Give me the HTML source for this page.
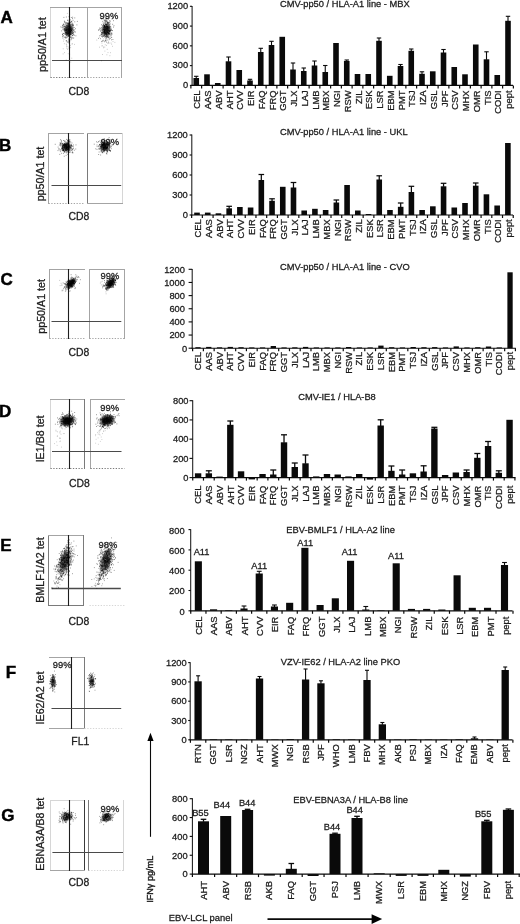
<!DOCTYPE html>
<html lang="en"><head><meta charset="utf-8"><title>Figure</title>
<style>html,body{margin:0;padding:0;background:#fff}svg{display:block}</style></head>
<body>
<svg width="520" height="924" viewBox="0 0 520 924" font-family='"Liberation Sans", Arial, Helvetica, sans-serif'>
<defs><radialGradient id="g1"><stop offset="0" stop-color="#000" stop-opacity="1"/><stop offset="0.45" stop-color="#000" stop-opacity="0.85"/><stop offset="1" stop-color="#000" stop-opacity="0"/></radialGradient></defs>
<rect width="520" height="924" fill="#fff"/>
<text x="0.40" y="23.10" font-size="17" text-anchor="start" font-weight="bold" fill="#000" stroke="#000" stroke-width="0.45">A</text>
<text x="-1.00" y="151.30" font-size="17" text-anchor="start" font-weight="bold" fill="#000" stroke="#000" stroke-width="0.45">B</text>
<text x="0.50" y="285.10" font-size="17" text-anchor="start" font-weight="bold" fill="#000" stroke="#000" stroke-width="0.45">C</text>
<text x="-1.00" y="417.20" font-size="17" text-anchor="start" font-weight="bold" fill="#000" stroke="#000" stroke-width="0.45">D</text>
<text x="0.20" y="550.60" font-size="17" text-anchor="start" font-weight="bold" fill="#000" stroke="#000" stroke-width="0.45">E</text>
<text x="5.80" y="678.00" font-size="17" text-anchor="start" font-weight="bold" fill="#000" stroke="#000" stroke-width="0.45">F</text>
<text x="1.20" y="820.70" font-size="17" text-anchor="start" font-weight="bold" fill="#000" stroke="#000" stroke-width="0.45">G</text>
<line x1="50.50" y1="7.00" x2="50.50" y2="78.00" stroke="#d6d6d6" stroke-width="1"/>
<line x1="50.00" y1="7.50" x2="87.00" y2="7.50" stroke="#a4a4a4" stroke-width="1"/>
<line x1="50.50" y1="77.50" x2="86.50" y2="77.50" stroke="#7a7a7a" stroke-width="1" stroke-dasharray="1.3 1.5"/>
<line x1="87.50" y1="7.00" x2="87.50" y2="78.00" stroke="#a4a4a4" stroke-width="1"/>
<line x1="87.00" y1="7.50" x2="122.00" y2="7.50" stroke="#a4a4a4" stroke-width="1"/>
<line x1="121.50" y1="7.00" x2="121.50" y2="78.00" stroke="#a4a4a4" stroke-width="1"/>
<line x1="87.50" y1="77.50" x2="121.50" y2="77.50" stroke="#a4a4a4" stroke-width="1" stroke-dasharray="1.3 1.5"/>
<line x1="69.50" y1="7.00" x2="69.50" y2="78.00" stroke="#1e1e1e" stroke-width="1.1"/>
<line x1="52.00" y1="60.50" x2="122.00" y2="60.50" stroke="#4a4a4a" stroke-width="1.2"/>
<text x="45.80" y="44.60" font-size="10.7" text-anchor="middle" font-weight="normal" fill="#1c1c1c" transform="rotate(-90 45.80 44.60)" stroke="#1c1c1c" stroke-width="0.28">pp50/A1 tet</text>
<text x="79.00" y="95.40" font-size="10.4" text-anchor="middle" font-weight="normal" fill="#1c1c1c" stroke="#1c1c1c" stroke-width="0.28">CD8</text>
<text x="109.00" y="19.00" font-size="9.4" text-anchor="middle" font-weight="normal" fill="#1c1c1c" stroke="#1c1c1c" stroke-width="0.28">99%</text>
<path d="M67.7 32.2h.01M68.1 28.2h.01M66.0 28.6h.01M71.7 32.1h.01M71.5 31.2h.01M69.7 30.8h.01M63.5 33.6h.01M69.9 32.3h.01M64.3 21.1h.01M66.2 27.4h.01M69.5 29.6h.01M70.3 26.8h.01M69.4 31.7h.01M66.1 37.9h.01M69.8 35.6h.01M67.1 26.1h.01M67.6 29.2h.01M70.3 31.1h.01M67.6 25.1h.01M66.7 35.5h.01M66.2 30.8h.01M70.3 22.8h.01M68.3 36.1h.01M62.9 27.9h.01M68.6 25.9h.01M70.1 29.6h.01M64.1 33.5h.01M70.2 34.5h.01M72.6 31.8h.01M69.4 23.6h.01M70.6 27.0h.01M67.7 23.7h.01M66.0 27.1h.01M73.0 20.3h.01M64.3 30.7h.01M72.6 32.9h.01M63.9 17.4h.01M69.9 26.3h.01M65.0 34.3h.01M71.7 30.8h.01M69.2 31.9h.01M73.0 33.1h.01M69.9 32.5h.01M63.6 35.6h.01M71.2 32.5h.01M63.1 26.4h.01M71.6 21.3h.01M67.7 34.6h.01M64.3 37.2h.01M70.2 29.2h.01M69.3 33.0h.01M68.6 35.3h.01M66.8 27.7h.01M71.6 30.1h.01M65.7 34.2h.01M73.0 28.0h.01M64.7 28.9h.01M68.3 28.3h.01M73.0 25.2h.01M72.7 24.0h.01M66.1 32.7h.01M71.6 34.1h.01M69.6 30.6h.01M68.8 32.6h.01M68.0 31.1h.01M70.3 29.9h.01M70.6 32.7h.01M74.3 31.8h.01M67.5 27.9h.01M68.3 34.2h.01M67.5 31.6h.01M74.8 17.9h.01M65.3 30.7h.01M69.7 31.0h.01M67.1 32.8h.01M69.6 27.4h.01M75.5 32.0h.01M67.0 29.2h.01M68.0 29.5h.01M60.9 26.9h.01M71.9 24.4h.01M68.1 34.4h.01M70.6 37.1h.01M63.8 27.8h.01M67.4 32.7h.01M72.7 17.2h.01M72.2 23.1h.01M71.1 22.8h.01M68.7 35.6h.01M68.1 30.7h.01M70.9 30.6h.01M67.8 37.1h.01M71.7 28.6h.01M76.9 24.9h.01M71.3 28.7h.01M68.7 33.2h.01M69.0 32.9h.01M64.7 22.3h.01M70.7 25.3h.01M66.1 22.6h.01M72.0 33.6h.01M73.2 25.6h.01M69.0 24.3h.01M70.3 37.6h.01M65.5 37.1h.01M71.5 29.1h.01M62.4 36.1h.01M68.5 26.9h.01M69.6 31.8h.01M73.3 25.2h.01M71.4 37.2h.01M72.9 29.2h.01M66.1 34.5h.01M68.9 30.4h.01M72.8 28.8h.01M62.1 27.5h.01M63.0 33.3h.01M69.7 26.9h.01M68.3 33.8h.01M68.4 36.2h.01M68.1 34.8h.01M72.4 37.8h.01M66.4 33.9h.01M63.5 24.2h.01M62.6 34.5h.01M65.0 29.5h.01M68.1 29.6h.01M66.8 30.8h.01M73.8 30.4h.01M69.8 34.7h.01M68.4 23.7h.01M66.6 34.8h.01M64.0 26.6h.01M71.2 33.8h.01M68.4 33.7h.01M69.5 24.2h.01M64.3 26.4h.01M71.5 27.3h.01M66.2 25.9h.01M64.2 28.9h.01M65.1 31.3h.01M61.7 30.9h.01M67.4 20.4h.01M70.8 28.6h.01M62.4 25.2h.01M69.6 27.7h.01M70.6 33.5h.01M70.4 31.5h.01M72.2 33.2h.01M70.6 19.9h.01M70.8 36.3h.01M67.9 27.5h.01M74.8 21.8h.01M69.1 41.5h.01M65.7 32.9h.01M74.1 29.6h.01M69.9 34.2h.01M66.0 29.2h.01M69.2 33.8h.01M68.6 28.9h.01M65.8 27.9h.01M71.1 30.5h.01M66.4 25.6h.01M75.9 35.8h.01M71.3 17.5h.01M70.2 32.2h.01M73.3 32.2h.01M68.2 32.3h.01M62.6 34.4h.01M69.8 26.5h.01M71.8 38.7h.01M64.8 26.3h.01M69.4 30.7h.01M67.8 25.1h.01M74.4 35.2h.01M65.6 23.1h.01M73.2 34.9h.01M73.6 34.0h.01M66.0 30.9h.01M62.6 25.8h.01M68.3 32.3h.01M66.5 29.1h.01M69.8 31.7h.01M70.4 30.9h.01M67.4 33.5h.01M69.0 25.9h.01M66.8 29.7h.01M68.2 30.5h.01M68.5 30.6h.01M68.6 23.7h.01M69.5 34.9h.01M69.9 29.0h.01M70.2 25.3h.01M63.1 29.7h.01M65.7 33.2h.01M66.3 17.0h.01M65.1 37.1h.01M68.0 23.2h.01M66.2 32.1h.01M70.0 30.7h.01M72.7 33.5h.01M68.3 32.7h.01M73.1 34.8h.01M71.9 24.8h.01M67.9 33.3h.01M67.4 34.9h.01M70.0 34.3h.01M67.1 41.9h.01M72.3 29.0h.01M68.0 42.2h.01M67.3 33.9h.01M71.4 30.0h.01M65.2 30.5h.01M69.3 35.3h.01M70.9 30.1h.01M70.9 32.6h.01M69.2 30.1h.01M67.7 33.0h.01M65.8 26.6h.01M69.1 22.8h.01M68.0 20.1h.01M66.4 32.4h.01M70.3 29.7h.01M68.4 23.0h.01M73.7 32.6h.01M72.1 25.8h.01M68.7 21.1h.01M70.5 34.4h.01M63.1 29.2h.01M71.0 21.5h.01M63.7 24.3h.01M67.2 23.0h.01M68.6 31.0h.01M70.2 33.3h.01M72.6 35.7h.01M65.0 27.1h.01M65.9 24.4h.01M68.4 29.8h.01M70.5 22.3h.01M65.0 29.4h.01M68.1 28.3h.01M68.7 26.1h.01M70.5 31.6h.01M68.6 26.6h.01M69.0 16.7h.01M65.7 29.8h.01M64.2 30.5h.01M69.5 23.2h.01M68.0 28.2h.01M69.7 32.8h.01M68.8 25.7h.01M68.2 29.5h.01M70.6 31.4h.01M67.0 23.2h.01M67.8 26.2h.01M65.4 29.0h.01M67.1 30.2h.01M70.3 27.9h.01M75.4 28.7h.01M71.7 30.6h.01M72.6 18.6h.01M66.3 30.8h.01M69.6 41.1h.01M69.1 36.0h.01M70.5 34.5h.01M70.1 29.2h.01M70.4 24.7h.01M72.4 25.2h.01M68.6 40.0h.01M67.9 29.8h.01M72.0 30.2h.01M66.2 30.9h.01M70.0 33.3h.01M65.8 38.0h.01M73.4 30.2h.01M69.5 27.8h.01M72.9 26.7h.01M70.7 27.6h.01M66.4 33.1h.01M72.5 30.0h.01M66.4 33.5h.01M68.4 31.3h.01M72.6 35.5h.01M66.3 40.6h.01M68.3 33.6h.01M66.7 29.5h.01M62.9 38.0h.01M73.0 24.3h.01M64.8 21.7h.01M72.2 27.8h.01M68.5 28.3h.01M68.6 24.6h.01M69.2 22.9h.01M68.3 31.3h.01M70.0 28.8h.01M65.9 30.4h.01M66.7 37.2h.01M70.9 29.4h.01M67.5 26.3h.01M66.0 27.9h.01M69.3 32.3h.01M69.5 40.0h.01M66.6 29.7h.01M77.3 21.4h.01M67.0 30.5h.01M68.9 31.8h.01M67.8 31.5h.01M68.5 33.5h.01M63.4 25.2h.01M68.9 24.9h.01M65.4 32.6h.01M66.5 32.7h.01M70.7 31.4h.01M70.1 29.4h.01M64.5 29.4h.01M70.1 27.4h.01M68.1 33.4h.01M65.8 32.7h.01M74.2 27.5h.01M69.1 29.1h.01M72.9 31.6h.01M71.4 26.7h.01M68.6 29.7h.01M63.0 36.3h.01M71.8 21.6h.01M70.8 29.3h.01M69.8 31.6h.01M64.3 28.5h.01M73.1 27.3h.01M66.1 23.1h.01" stroke="#000" stroke-opacity="0.55" stroke-width="0.9" stroke-linecap="round" fill="none"/>
<ellipse cx="68.60" cy="29.80" rx="5.20" ry="8.00" fill="url(#g1)" opacity="0.8" transform="rotate(4 68.60 29.80)"/>
<path d="M64.3 43.7h.01M74.5 44.4h.01M69.5 58.9h.01M66.8 35.6h.01M70.4 45.4h.01M65.0 31.6h.01M69.6 43.0h.01M64.0 39.4h.01M66.7 44.7h.01M68.2 40.3h.01M67.4 49.4h.01M73.5 38.1h.01M71.6 34.9h.01M68.9 47.0h.01M73.9 37.9h.01M68.3 42.6h.01M63.4 41.1h.01M66.2 44.0h.01M64.6 25.2h.01M68.7 43.1h.01M66.7 48.1h.01M67.6 36.2h.01M70.3 28.5h.01M66.2 40.8h.01M71.6 39.7h.01M69.7 35.8h.01M69.7 54.3h.01M66.2 59.9h.01M66.3 41.1h.01M69.2 49.2h.01M64.3 24.2h.01M70.7 47.4h.01M70.8 62.0h.01M69.3 43.0h.01M71.9 44.0h.01M74.4 31.1h.01M67.3 13.4h.01M71.4 38.0h.01M71.8 58.2h.01M68.6 39.0h.01M66.9 34.3h.01M66.4 46.1h.01M68.7 41.5h.01M68.0 48.3h.01M70.3 39.9h.01M70.9 39.8h.01M64.6 52.6h.01M70.2 33.3h.01M72.4 43.8h.01M63.1 53.9h.01M69.8 48.1h.01M69.3 39.8h.01M63.2 48.8h.01M68.7 38.7h.01M69.8 41.6h.01M71.0 38.0h.01M68.5 23.9h.01M67.1 46.4h.01M73.3 38.1h.01M68.2 53.7h.01" stroke="#000" stroke-opacity="0.28" stroke-width="0.9" stroke-linecap="round" fill="none"/>
<path d="M105.1 33.2h.01M111.1 30.3h.01M110.1 26.6h.01M106.9 29.5h.01M106.3 35.2h.01M113.4 27.1h.01M104.5 32.1h.01M103.1 32.0h.01M108.0 28.6h.01M108.4 22.5h.01M109.0 22.6h.01M104.5 27.0h.01M104.9 33.8h.01M106.7 27.9h.01M107.3 37.5h.01M106.2 31.6h.01M109.8 31.3h.01M101.8 41.5h.01M113.4 20.7h.01M106.0 31.8h.01M108.9 33.2h.01M105.9 24.7h.01M106.3 34.8h.01M103.5 24.7h.01M106.9 20.5h.01M105.7 27.7h.01M107.8 26.5h.01M103.9 27.7h.01M106.4 26.6h.01M106.1 33.4h.01M109.2 38.2h.01M104.2 27.6h.01M98.5 38.4h.01M104.2 29.5h.01M108.3 23.4h.01M107.7 29.8h.01M100.9 30.8h.01M110.4 21.1h.01M108.6 31.0h.01M107.5 32.0h.01M110.1 29.0h.01M109.0 28.0h.01M108.7 26.0h.01M105.4 38.1h.01M107.6 29.1h.01M103.3 25.8h.01M106.5 34.3h.01M107.4 32.4h.01M105.7 36.3h.01M105.4 27.1h.01M108.8 30.3h.01M105.7 27.0h.01M105.3 32.7h.01M107.7 24.1h.01M107.5 30.7h.01M103.1 33.3h.01M105.6 28.1h.01M108.2 36.3h.01M104.2 31.8h.01M103.0 40.7h.01M104.5 35.4h.01M104.2 33.6h.01M113.6 18.1h.01M104.9 32.1h.01M106.3 26.6h.01M112.5 30.6h.01M101.3 33.6h.01M100.9 35.0h.01M104.6 30.4h.01M109.9 30.6h.01M102.8 21.4h.01M109.5 33.6h.01M103.7 33.8h.01M107.5 33.0h.01M99.9 27.9h.01M108.7 33.5h.01M109.7 18.2h.01M106.6 32.2h.01M114.0 25.7h.01M105.3 29.9h.01M109.0 27.9h.01M109.9 26.3h.01M107.2 27.3h.01M107.0 26.5h.01M101.3 34.7h.01M107.4 27.2h.01M106.5 34.6h.01M103.5 29.1h.01M107.7 32.4h.01M106.0 19.6h.01M109.8 31.6h.01M106.4 28.5h.01M107.2 27.8h.01M103.6 26.1h.01M104.8 26.7h.01M102.7 32.6h.01M102.3 32.7h.01M103.2 31.3h.01M110.2 31.1h.01M104.2 29.9h.01M107.3 21.5h.01M104.5 30.5h.01M104.9 30.1h.01M108.2 33.6h.01M108.7 32.8h.01M105.5 29.7h.01M105.6 28.2h.01M106.4 21.5h.01M105.3 29.6h.01M103.5 29.5h.01M107.8 29.1h.01M113.2 17.7h.01M106.3 21.0h.01M108.2 42.7h.01M99.0 29.9h.01M107.9 28.5h.01M108.6 19.2h.01M108.6 31.8h.01M106.6 27.0h.01M108.3 27.6h.01M107.1 27.4h.01M99.8 29.2h.01M106.6 33.5h.01M103.8 29.5h.01M108.0 30.6h.01M109.2 39.6h.01M104.3 20.4h.01M108.3 37.3h.01M108.7 33.9h.01M104.7 26.3h.01M109.2 25.6h.01M101.4 24.7h.01M112.9 39.5h.01M104.6 26.2h.01M107.2 26.3h.01M110.1 29.7h.01M102.7 35.8h.01M104.5 30.7h.01M106.4 28.3h.01M107.5 26.5h.01M101.7 18.9h.01M102.9 25.9h.01M106.2 30.1h.01M107.9 30.5h.01M104.2 26.2h.01M100.2 28.6h.01M107.5 32.4h.01M106.0 28.9h.01M109.0 30.1h.01M108.2 32.7h.01M106.5 36.1h.01M104.8 28.0h.01M104.2 25.8h.01M110.2 38.5h.01M106.2 32.5h.01M109.4 33.9h.01M110.2 24.0h.01M104.3 31.8h.01M110.4 30.6h.01M103.9 27.9h.01M104.7 25.6h.01M110.9 27.1h.01M105.6 40.2h.01M109.6 31.6h.01M104.4 31.6h.01M110.8 33.1h.01M109.9 30.5h.01M107.9 28.9h.01M107.1 36.1h.01M102.2 29.2h.01M107.2 27.1h.01M105.1 33.5h.01M111.9 33.2h.01M107.8 22.4h.01M111.9 30.6h.01M106.6 24.4h.01M106.5 24.5h.01M106.3 32.0h.01M106.3 31.1h.01M103.4 36.5h.01M105.0 21.0h.01M106.0 26.1h.01M103.5 27.9h.01M107.5 24.2h.01M105.4 36.6h.01M108.3 29.2h.01M106.7 29.3h.01M105.9 33.3h.01M106.8 18.3h.01M106.5 25.5h.01M108.4 27.0h.01M106.0 40.3h.01M103.6 24.2h.01M103.0 18.0h.01M100.7 31.2h.01M105.1 20.7h.01M101.8 32.5h.01M104.2 27.9h.01M106.8 36.4h.01M111.6 35.1h.01M106.7 30.7h.01M111.0 37.0h.01M105.2 31.9h.01M107.1 30.1h.01M105.3 23.3h.01M105.3 22.3h.01M109.7 32.6h.01M102.3 36.2h.01M109.5 20.8h.01M111.4 34.1h.01M112.7 24.3h.01M107.7 31.9h.01M106.8 30.7h.01M109.8 22.9h.01M103.2 22.9h.01M104.9 26.8h.01M107.3 31.2h.01M106.6 26.6h.01M104.7 34.3h.01M108.5 30.4h.01M104.8 37.2h.01M104.4 32.8h.01M109.7 28.8h.01M109.1 24.6h.01M109.2 31.0h.01M101.5 32.7h.01M103.3 35.8h.01M104.4 28.9h.01M107.2 28.3h.01M107.2 27.2h.01M108.2 30.0h.01M107.8 16.7h.01M109.6 30.2h.01M101.1 29.9h.01M107.3 35.0h.01M102.6 37.0h.01M105.0 41.2h.01M105.6 33.0h.01M105.6 24.4h.01M109.2 34.4h.01M110.5 34.2h.01M105.2 21.7h.01M104.6 26.4h.01M103.7 32.4h.01M107.3 28.6h.01M106.8 29.1h.01M106.7 33.4h.01M109.3 26.7h.01M101.5 36.3h.01M106.3 35.1h.01M101.7 27.9h.01M106.9 22.9h.01M104.6 33.2h.01M108.9 37.7h.01M104.3 22.9h.01M107.5 34.4h.01M107.3 23.6h.01M108.3 33.8h.01M108.1 27.6h.01M106.9 33.6h.01M105.3 20.9h.01M107.1 32.2h.01M106.0 34.1h.01M104.6 29.3h.01M105.2 32.5h.01M111.0 28.9h.01M111.7 37.5h.01M108.4 32.8h.01M111.5 29.3h.01M106.3 24.7h.01M107.2 36.3h.01M107.7 31.9h.01M105.7 30.6h.01M101.8 34.5h.01M105.5 24.4h.01M104.4 25.7h.01M108.4 35.0h.01M102.1 34.0h.01M109.1 27.2h.01M102.2 25.9h.01M104.4 31.3h.01M105.9 20.0h.01M107.5 22.5h.01M109.3 24.2h.01M104.6 25.6h.01M104.3 35.9h.01M108.6 32.9h.01M107.7 22.5h.01M105.0 27.1h.01M103.3 32.0h.01M104.4 26.3h.01M104.0 19.7h.01M107.6 36.3h.01M107.1 25.2h.01M98.4 30.1h.01M109.7 31.5h.01M108.5 37.1h.01M109.7 27.9h.01M109.1 33.7h.01M102.0 27.5h.01M102.2 29.0h.01M108.3 24.8h.01M99.9 35.6h.01M106.9 36.9h.01M102.1 34.6h.01M111.6 39.8h.01M105.6 31.0h.01M105.5 34.5h.01M109.3 30.4h.01M102.1 33.1h.01M104.7 32.7h.01M106.5 37.6h.01M109.7 27.9h.01M106.7 38.3h.01M104.6 31.8h.01M109.3 36.1h.01M108.2 23.6h.01M102.6 30.7h.01M106.6 42.1h.01M103.4 35.1h.01M109.1 22.0h.01M103.9 30.4h.01M104.9 29.0h.01M107.9 26.0h.01M107.9 26.8h.01M104.5 32.3h.01M104.5 31.1h.01M110.9 30.3h.01M105.6 33.3h.01M104.9 34.9h.01" stroke="#000" stroke-opacity="0.55" stroke-width="0.9" stroke-linecap="round" fill="none"/>
<ellipse cx="106.30" cy="29.80" rx="5.20" ry="8.00" fill="url(#g1)" opacity="0.8" transform="rotate(4 106.30 29.80)"/>
<path d="M101.8 45.9h.01M104.5 34.6h.01M112.5 34.2h.01M112.4 46.3h.01M111.4 33.2h.01M110.5 52.7h.01M105.9 40.0h.01M114.9 42.4h.01M104.8 36.0h.01M107.9 43.6h.01M106.9 54.8h.01M105.2 44.8h.01M111.4 33.0h.01M109.9 55.7h.01M101.6 32.2h.01M102.7 26.2h.01M107.9 26.2h.01M108.0 52.6h.01M100.6 38.5h.01M99.6 47.2h.01M103.7 38.9h.01M106.5 45.4h.01M105.1 41.1h.01M104.4 41.9h.01M102.2 41.5h.01M99.5 37.1h.01M113.0 41.6h.01M101.9 43.1h.01M102.9 27.8h.01M103.7 46.9h.01M107.6 40.2h.01M103.1 32.4h.01M111.0 43.0h.01M103.0 24.1h.01M101.5 60.8h.01M102.3 40.4h.01M107.0 39.7h.01M105.3 30.0h.01M102.6 54.5h.01M103.7 47.8h.01M100.4 38.8h.01M107.2 49.3h.01M102.4 45.8h.01M107.7 35.1h.01M108.0 33.8h.01M103.5 40.8h.01M96.8 40.1h.01M102.8 29.3h.01M104.8 47.1h.01M104.9 51.1h.01M102.2 30.5h.01M111.7 44.2h.01M109.6 34.4h.01M109.1 43.1h.01M108.6 41.2h.01M110.5 35.8h.01M102.9 29.2h.01M110.4 35.1h.01M102.6 33.5h.01M104.7 30.8h.01" stroke="#000" stroke-opacity="0.28" stroke-width="0.9" stroke-linecap="round" fill="none"/>
<line x1="48.50" y1="133.00" x2="48.50" y2="204.00" stroke="#a4a4a4" stroke-width="1"/>
<line x1="48.00" y1="133.50" x2="84.00" y2="133.50" stroke="#a4a4a4" stroke-width="1"/>
<line x1="48.50" y1="203.50" x2="83.50" y2="203.50" stroke="#a4a4a4" stroke-width="1" stroke-dasharray="1.3 1.5"/>
<line x1="87.50" y1="133.00" x2="87.50" y2="204.00" stroke="#7a7a7a" stroke-width="1"/>
<line x1="87.00" y1="133.50" x2="123.00" y2="133.50" stroke="#a4a4a4" stroke-width="1"/>
<line x1="122.50" y1="133.00" x2="122.50" y2="204.00" stroke="#d6d6d6" stroke-width="1"/>
<line x1="87.00" y1="203.50" x2="123.00" y2="203.50" stroke="#a4a4a4" stroke-width="1"/>
<line x1="68.50" y1="133.00" x2="68.50" y2="204.00" stroke="#1e1e1e" stroke-width="1.1"/>
<line x1="51.50" y1="185.50" x2="121.20" y2="185.50" stroke="#4a4a4a" stroke-width="1.2"/>
<text x="43.90" y="174.00" font-size="10.7" text-anchor="middle" font-weight="normal" fill="#1c1c1c" transform="rotate(-90 43.90 174.00)" stroke="#1c1c1c" stroke-width="0.28">pp50/A1 tet</text>
<text x="79.00" y="220.20" font-size="10.4" text-anchor="middle" font-weight="normal" fill="#1c1c1c" stroke="#1c1c1c" stroke-width="0.28">CD8</text>
<text x="109.80" y="144.60" font-size="9.4" text-anchor="middle" font-weight="normal" fill="#1c1c1c" stroke="#1c1c1c" stroke-width="0.28">99%</text>
<path d="M65.4 145.0h.01M64.5 143.9h.01M66.4 145.5h.01M66.7 147.8h.01M67.4 140.0h.01M64.6 144.5h.01M68.8 142.0h.01M64.0 146.1h.01M65.2 150.2h.01M64.9 150.1h.01M61.6 141.2h.01M70.2 148.4h.01M67.9 147.4h.01M67.8 143.1h.01M69.3 145.3h.01M69.5 147.3h.01M60.0 142.9h.01M69.9 146.6h.01M65.0 147.8h.01M64.9 145.3h.01M66.6 147.5h.01M71.2 147.1h.01M72.3 152.8h.01M71.8 150.4h.01M66.7 147.4h.01M65.8 144.7h.01M66.1 144.9h.01M71.5 148.7h.01M64.9 140.9h.01M66.1 145.7h.01M62.8 143.4h.01M59.1 148.8h.01M66.1 155.3h.01M66.2 146.5h.01M70.9 147.4h.01M66.8 145.8h.01M64.4 151.8h.01M69.5 152.5h.01M65.2 147.1h.01M63.5 150.1h.01M61.8 148.8h.01M69.8 151.5h.01M63.3 150.5h.01M64.0 144.6h.01M62.1 150.7h.01M71.6 145.1h.01M63.9 145.9h.01M74.3 150.2h.01M64.6 141.3h.01M64.1 150.8h.01M72.3 146.1h.01M64.1 145.4h.01M60.3 149.9h.01M62.8 150.4h.01M60.8 142.9h.01M67.2 144.6h.01M68.8 147.0h.01M62.5 149.0h.01M69.0 140.9h.01M72.1 148.6h.01M68.7 141.0h.01M64.0 145.9h.01M69.7 142.3h.01M63.5 140.5h.01M65.5 148.1h.01M60.9 145.1h.01M67.9 152.1h.01M68.4 146.0h.01M62.5 144.0h.01M64.2 147.5h.01M66.1 152.3h.01M67.2 143.6h.01M71.2 150.0h.01M66.6 144.7h.01M60.3 143.7h.01M69.2 144.4h.01M62.1 147.6h.01M67.1 148.9h.01M68.4 151.5h.01M63.6 150.1h.01M63.1 149.2h.01M66.9 147.8h.01M69.4 146.9h.01M69.9 149.8h.01M66.7 145.2h.01M63.9 145.3h.01M65.7 146.9h.01M75.8 149.0h.01M68.8 144.2h.01M64.0 146.0h.01M66.9 143.7h.01M71.5 145.2h.01M69.8 139.5h.01M66.3 147.9h.01M66.9 148.9h.01M67.2 147.5h.01M60.2 144.7h.01M58.8 149.0h.01M67.3 146.4h.01M63.7 145.1h.01M72.2 152.5h.01M66.1 151.1h.01M61.2 140.8h.01M64.8 144.2h.01M64.5 147.6h.01M76.0 144.9h.01M66.5 147.9h.01M66.2 150.0h.01M72.0 143.0h.01M66.8 146.2h.01M67.4 142.1h.01M60.7 139.6h.01M68.0 147.6h.01M66.5 139.4h.01M65.1 144.6h.01M61.8 144.1h.01M68.5 148.7h.01M66.2 148.6h.01M64.4 147.2h.01M66.4 148.8h.01M66.1 146.5h.01M65.9 144.9h.01M73.4 148.6h.01M67.7 154.3h.01M70.8 142.0h.01M68.5 149.7h.01M72.3 151.2h.01M68.8 143.2h.01M63.5 147.9h.01M67.9 143.7h.01M65.1 145.7h.01M66.5 148.1h.01M65.4 143.0h.01M70.3 152.1h.01M66.0 150.3h.01M67.7 149.1h.01M67.8 144.6h.01M68.1 150.2h.01M63.4 153.3h.01M73.0 152.8h.01M72.7 149.4h.01M65.2 145.1h.01M63.7 147.4h.01M66.2 149.1h.01M59.8 154.4h.01M73.6 146.9h.01M68.5 148.5h.01M67.2 146.3h.01M65.9 144.4h.01M66.9 146.9h.01M67.3 144.3h.01M66.4 147.2h.01M68.2 143.6h.01M67.6 150.1h.01M68.2 145.8h.01M64.7 146.2h.01M68.6 152.0h.01M65.8 144.9h.01M67.5 147.7h.01M63.4 144.6h.01M66.0 149.1h.01M62.5 143.7h.01M67.9 143.1h.01M66.6 148.1h.01M65.9 143.7h.01M66.1 145.9h.01M67.4 144.3h.01M69.8 141.6h.01M65.7 147.0h.01M69.4 145.1h.01M68.0 145.2h.01M68.7 152.6h.01M65.0 148.4h.01M63.3 150.1h.01M70.2 147.1h.01M62.7 148.3h.01M70.0 150.5h.01M68.9 141.1h.01M64.1 151.6h.01M62.4 150.6h.01M72.3 149.4h.01M69.9 145.9h.01M62.4 146.7h.01M65.7 146.8h.01M68.5 146.5h.01M66.9 148.4h.01M66.3 152.9h.01M67.7 147.3h.01M65.6 145.0h.01M70.6 147.5h.01M62.8 145.2h.01M65.9 145.6h.01M69.8 143.3h.01M67.9 147.5h.01M62.5 147.2h.01M66.0 148.6h.01M64.9 148.0h.01M61.0 143.5h.01M68.8 150.3h.01M66.3 145.1h.01M69.8 140.3h.01M63.7 149.2h.01M68.4 143.7h.01M60.3 151.6h.01M66.8 144.1h.01M66.5 149.9h.01M58.0 150.6h.01M68.7 140.3h.01M68.8 141.3h.01M69.9 148.3h.01M73.5 145.0h.01M66.3 150.4h.01M64.3 144.7h.01M65.1 146.8h.01M62.8 148.5h.01M68.0 147.2h.01M71.7 146.0h.01M70.5 145.3h.01M68.7 140.8h.01M66.9 146.4h.01M64.7 145.0h.01M65.2 144.7h.01M59.3 145.1h.01M64.5 145.3h.01M62.9 146.6h.01M68.8 146.2h.01M64.7 151.3h.01M69.4 149.9h.01M70.0 146.0h.01M65.9 150.6h.01M64.5 146.6h.01M67.5 148.2h.01M65.4 150.1h.01M65.7 149.3h.01M69.7 149.1h.01M68.6 143.3h.01M62.1 145.0h.01M67.8 151.8h.01M62.4 148.0h.01M63.6 144.7h.01M65.4 149.2h.01M67.0 150.8h.01M63.1 149.8h.01M69.3 147.2h.01M67.8 145.2h.01M62.8 145.7h.01M64.2 156.2h.01M64.7 152.3h.01M66.9 148.0h.01M68.7 144.5h.01M69.2 148.2h.01M61.4 148.9h.01M68.1 148.4h.01M71.4 145.7h.01M67.9 149.4h.01M63.4 150.8h.01M61.7 142.8h.01M68.0 143.5h.01M65.9 141.7h.01M66.5 143.4h.01M67.4 142.1h.01M67.7 146.1h.01M66.5 146.8h.01M66.7 142.8h.01M58.1 147.1h.01M63.3 145.5h.01M67.7 140.6h.01M63.9 145.0h.01M62.9 148.0h.01M65.9 144.4h.01M63.1 149.6h.01M64.2 148.9h.01M67.7 140.9h.01M62.8 147.0h.01M67.4 149.5h.01M68.9 150.3h.01M65.1 146.3h.01M68.8 145.6h.01M69.7 141.9h.01M68.4 146.4h.01M60.0 150.1h.01M67.3 147.1h.01M62.9 145.5h.01M71.1 144.4h.01M55.2 144.3h.01M62.5 146.6h.01M65.0 144.1h.01M63.6 150.4h.01M61.7 153.3h.01M64.6 143.5h.01M68.8 148.8h.01M63.0 149.4h.01M60.4 144.0h.01M69.9 146.2h.01M62.1 148.6h.01M69.2 146.9h.01M60.5 145.9h.01M67.6 149.5h.01M72.2 146.2h.01M64.8 146.9h.01" stroke="#000" stroke-opacity="0.55" stroke-width="0.9" stroke-linecap="round" fill="none"/>
<ellipse cx="66.30" cy="147.00" rx="5.80" ry="5.40" fill="url(#g1)" opacity="0.8" transform="rotate(0 66.30 147.00)"/>
<path d="M108.8 143.4h.01M109.1 137.6h.01M107.5 144.2h.01M106.4 148.6h.01M101.1 146.1h.01M105.7 148.3h.01M101.9 143.2h.01M98.7 154.5h.01M104.3 145.7h.01M100.1 149.4h.01M103.2 151.0h.01M107.6 146.5h.01M107.2 142.8h.01M103.9 144.6h.01M100.8 146.5h.01M104.4 151.0h.01M94.2 144.2h.01M102.0 144.9h.01M106.3 147.7h.01M105.0 144.9h.01M106.5 147.6h.01M99.0 145.6h.01M100.5 142.6h.01M105.4 146.6h.01M105.3 143.6h.01M104.3 143.5h.01M106.1 148.6h.01M110.5 150.5h.01M102.3 144.9h.01M101.9 147.4h.01M111.2 148.7h.01M97.9 142.4h.01M100.8 148.0h.01M104.9 147.4h.01M110.6 143.8h.01M102.2 152.7h.01M106.0 143.9h.01M98.4 141.5h.01M97.1 146.6h.01M105.0 149.6h.01M104.5 144.2h.01M102.5 152.5h.01M99.2 147.0h.01M105.0 148.4h.01M103.6 148.0h.01M107.5 145.9h.01M103.4 145.8h.01M101.8 145.7h.01M103.9 147.1h.01M109.2 150.6h.01M103.5 148.3h.01M105.8 148.8h.01M105.0 147.3h.01M103.4 143.9h.01M107.7 150.6h.01M107.0 147.8h.01M105.8 145.0h.01M99.2 148.5h.01M105.5 144.6h.01M101.8 150.5h.01M99.1 152.0h.01M106.9 154.0h.01M102.6 146.3h.01M103.3 146.9h.01M104.2 144.0h.01M108.3 143.9h.01M103.3 148.2h.01M103.2 145.0h.01M106.0 145.2h.01M100.9 146.1h.01M104.2 151.9h.01M101.4 149.5h.01M102.4 145.3h.01M103.9 147.3h.01M107.7 152.0h.01M102.9 150.7h.01M108.1 149.0h.01M102.5 149.3h.01M104.6 147.5h.01M104.0 148.5h.01M108.5 150.0h.01M104.2 149.6h.01M109.5 143.4h.01M109.6 142.1h.01M106.6 148.3h.01M109.6 147.3h.01M103.4 143.9h.01M100.9 148.9h.01M104.1 144.1h.01M106.6 144.0h.01M103.5 144.9h.01M110.2 151.1h.01M104.4 141.4h.01M105.8 146.6h.01M106.0 148.2h.01M103.9 149.4h.01M107.6 147.1h.01M103.6 144.9h.01M107.1 142.9h.01M104.4 144.0h.01M100.4 148.3h.01M104.8 146.5h.01M107.7 141.6h.01M104.7 147.3h.01M107.6 142.9h.01M107.2 147.1h.01M109.2 150.0h.01M106.7 153.3h.01M104.9 145.0h.01M103.8 143.4h.01M104.8 140.4h.01M104.6 147.8h.01M108.1 145.3h.01M109.3 144.3h.01M104.5 140.4h.01M102.5 143.9h.01M109.6 148.1h.01M101.4 148.1h.01M106.4 145.7h.01M105.0 145.4h.01M103.2 140.9h.01M104.6 150.4h.01M109.4 145.5h.01M102.6 145.7h.01M107.7 147.5h.01M103.1 147.5h.01M104.3 148.0h.01M103.6 141.8h.01M105.1 148.8h.01M101.4 146.1h.01M107.6 145.2h.01M102.9 152.7h.01M107.5 149.6h.01M102.0 151.5h.01M99.7 144.8h.01M107.2 150.5h.01M102.0 144.3h.01M105.5 140.4h.01M106.9 148.1h.01M103.5 148.1h.01M107.3 147.4h.01M106.5 151.1h.01M103.4 146.9h.01M103.3 149.6h.01M103.6 147.9h.01M105.3 146.6h.01M110.2 146.1h.01M109.3 149.0h.01M109.0 145.9h.01M107.8 148.7h.01M103.0 147.2h.01M104.5 146.3h.01M108.9 144.2h.01M99.7 141.0h.01M103.5 144.4h.01M104.9 148.1h.01M110.3 147.4h.01M106.3 144.1h.01M106.7 150.6h.01M109.0 140.4h.01M107.6 151.3h.01M107.5 141.8h.01M104.0 148.2h.01M106.2 143.9h.01M102.2 149.4h.01M100.8 150.8h.01M105.0 147.3h.01M100.8 144.6h.01M107.0 141.9h.01M111.3 142.1h.01M101.1 146.5h.01M106.4 148.7h.01M103.8 145.8h.01M104.2 144.6h.01M97.0 149.4h.01M105.7 146.9h.01M103.0 147.2h.01M104.9 146.2h.01M108.3 141.1h.01M105.7 143.1h.01M103.9 151.0h.01M101.6 146.1h.01M103.1 149.3h.01M101.9 141.2h.01M106.5 145.3h.01M103.9 149.7h.01M102.2 145.3h.01M105.4 147.7h.01M103.3 149.6h.01M111.8 145.1h.01M110.6 139.9h.01M109.2 145.3h.01M105.3 145.4h.01M102.9 142.5h.01M103.7 150.4h.01M108.4 145.3h.01M103.3 144.2h.01M101.2 151.9h.01M106.9 146.8h.01M103.4 143.3h.01M108.9 148.8h.01M102.0 149.4h.01M101.5 148.4h.01M101.9 145.1h.01M106.4 147.7h.01M108.0 143.8h.01M109.8 150.5h.01M104.9 147.8h.01M102.5 145.9h.01M100.8 146.7h.01M105.5 150.5h.01M107.8 148.9h.01M103.8 145.7h.01M103.9 147.1h.01M99.0 148.8h.01M100.1 144.8h.01M105.0 144.8h.01M110.0 146.1h.01M109.7 150.0h.01M103.4 147.6h.01M108.9 145.4h.01M105.2 144.7h.01M105.1 145.3h.01M105.2 149.5h.01M109.2 146.8h.01M105.5 149.0h.01M104.0 143.1h.01M108.3 143.5h.01M107.8 143.4h.01M110.5 143.2h.01M107.5 151.0h.01M101.9 151.0h.01M102.4 141.0h.01M107.1 148.6h.01M104.3 138.6h.01M104.7 145.5h.01M103.7 145.5h.01M99.4 144.7h.01M110.4 151.2h.01M103.8 144.2h.01M106.1 149.7h.01M107.1 142.8h.01M105.4 146.8h.01M109.3 150.1h.01M106.5 150.1h.01M103.7 151.1h.01M103.6 147.6h.01M107.7 143.6h.01M102.7 141.0h.01M105.4 146.2h.01M103.9 147.9h.01M98.4 146.3h.01M105.2 145.6h.01M107.3 151.8h.01M103.5 143.5h.01M103.0 146.7h.01M106.7 143.8h.01M108.0 143.3h.01M107.4 147.7h.01M106.3 153.0h.01M104.1 145.9h.01M106.4 149.1h.01M100.8 147.2h.01M102.6 148.3h.01M109.1 146.6h.01M104.6 147.0h.01M95.8 148.8h.01M106.6 146.9h.01M103.7 144.2h.01M104.3 150.1h.01M104.6 150.5h.01M97.0 145.0h.01M105.7 146.4h.01M99.8 144.4h.01M108.7 142.4h.01M101.9 143.0h.01M103.2 148.4h.01M106.7 140.2h.01M109.4 144.6h.01M103.1 151.5h.01M104.6 142.6h.01M102.9 144.2h.01M101.8 145.4h.01M107.6 147.5h.01M100.7 155.0h.01M101.9 146.8h.01M105.0 148.7h.01M103.9 147.8h.01M111.4 146.7h.01M101.6 147.4h.01M102.4 145.3h.01M105.5 147.4h.01M104.0 149.0h.01M104.3 142.4h.01M107.6 145.3h.01M108.6 144.4h.01M106.7 147.4h.01M96.6 141.8h.01M101.5 150.7h.01M99.1 149.2h.01" stroke="#000" stroke-opacity="0.55" stroke-width="0.9" stroke-linecap="round" fill="none"/>
<ellipse cx="104.90" cy="146.40" rx="5.80" ry="5.40" fill="url(#g1)" opacity="0.8" transform="rotate(0 104.90 146.40)"/>
<line x1="49.50" y1="269.00" x2="49.50" y2="339.00" stroke="#a4a4a4" stroke-width="1"/>
<line x1="49.00" y1="269.50" x2="85.00" y2="269.50" stroke="#a4a4a4" stroke-width="1"/>
<line x1="49.50" y1="338.50" x2="84.50" y2="338.50" stroke="#a4a4a4" stroke-width="1" stroke-dasharray="1.3 1.5"/>
<line x1="89.50" y1="269.00" x2="89.50" y2="339.00" stroke="#a4a4a4" stroke-width="1"/>
<line x1="89.00" y1="269.50" x2="125.00" y2="269.50" stroke="#a4a4a4" stroke-width="1"/>
<line x1="124.50" y1="269.00" x2="124.50" y2="339.00" stroke="#a4a4a4" stroke-width="1"/>
<line x1="89.50" y1="338.50" x2="124.50" y2="338.50" stroke="#a4a4a4" stroke-width="1" stroke-dasharray="1.3 1.5"/>
<line x1="68.50" y1="269.00" x2="68.50" y2="339.00" stroke="#1e1e1e" stroke-width="1.1"/>
<line x1="51.50" y1="321.50" x2="121.30" y2="321.50" stroke="#4a4a4a" stroke-width="1.2"/>
<text x="45.30" y="306.40" font-size="10.7" text-anchor="middle" font-weight="normal" fill="#1c1c1c" transform="rotate(-90 45.30 306.40)" stroke="#1c1c1c" stroke-width="0.28">pp50/A1 tet</text>
<text x="79.00" y="355.80" font-size="10.4" text-anchor="middle" font-weight="normal" fill="#1c1c1c" stroke="#1c1c1c" stroke-width="0.28">CD8</text>
<text x="110.00" y="279.20" font-size="9.4" text-anchor="middle" font-weight="normal" fill="#1c1c1c" stroke="#1c1c1c" stroke-width="0.28">99%</text>
<path d="M71.6 286.0h.01M73.3 282.9h.01M70.6 283.9h.01M70.1 285.7h.01M72.4 281.2h.01M69.3 283.6h.01M71.5 277.8h.01M71.8 281.3h.01M76.9 276.1h.01M71.2 282.2h.01M76.8 279.3h.01M69.5 284.1h.01M69.1 287.0h.01M75.1 282.0h.01M72.8 283.3h.01M66.3 286.2h.01M72.1 280.3h.01M72.5 280.6h.01M71.7 285.6h.01M72.2 286.2h.01M67.8 285.2h.01M71.2 281.2h.01M70.8 283.2h.01M74.3 283.4h.01M71.7 283.7h.01M71.7 278.8h.01M69.8 284.0h.01M70.5 285.0h.01M72.2 282.2h.01M74.1 281.3h.01M69.9 280.6h.01M70.1 280.0h.01M71.3 280.9h.01M72.9 281.2h.01M74.4 278.3h.01M73.4 281.2h.01M78.3 276.6h.01M69.3 282.8h.01M68.3 279.1h.01M71.0 283.7h.01M68.3 281.9h.01M73.6 281.0h.01M72.3 284.2h.01M72.2 282.2h.01M71.7 284.3h.01M71.8 286.0h.01M70.7 281.9h.01M73.3 283.6h.01M70.5 285.2h.01M76.2 277.0h.01M70.8 284.0h.01M73.1 281.5h.01M73.2 284.6h.01M71.8 280.6h.01M74.2 281.0h.01M64.9 287.1h.01M70.6 287.8h.01M71.8 286.7h.01M65.8 284.1h.01M71.8 286.3h.01M65.2 283.9h.01M74.3 283.9h.01M69.5 285.5h.01M68.4 286.0h.01M69.6 285.2h.01M74.7 279.6h.01M62.2 290.2h.01M68.5 287.1h.01M68.8 289.3h.01M73.3 282.5h.01M75.6 278.3h.01M68.7 285.4h.01M67.4 280.9h.01M69.2 287.9h.01M71.2 280.3h.01M70.6 278.1h.01M67.1 289.4h.01M66.1 285.3h.01M72.9 282.6h.01M80.3 279.7h.01M70.5 283.8h.01M70.1 290.9h.01M74.2 286.7h.01M69.4 288.2h.01M71.0 284.9h.01M71.8 282.0h.01M64.7 286.7h.01M75.3 277.3h.01M71.6 283.6h.01M67.1 288.3h.01M71.6 282.5h.01M70.0 282.2h.01M70.0 283.2h.01M74.9 288.6h.01M65.3 287.2h.01M70.5 286.6h.01M70.3 286.4h.01M68.8 287.9h.01M69.5 288.2h.01M70.3 282.6h.01M67.7 284.8h.01M73.5 283.2h.01M65.8 290.9h.01M75.6 282.1h.01M69.5 284.8h.01M70.1 284.3h.01M72.1 285.8h.01M67.8 283.7h.01M70.7 283.5h.01M73.5 278.9h.01M70.0 280.7h.01M75.8 274.8h.01M75.6 281.8h.01M68.8 283.7h.01M64.3 283.5h.01M68.4 284.0h.01M69.7 283.4h.01M71.3 283.4h.01M71.8 277.0h.01M67.7 286.9h.01M69.0 283.9h.01M70.2 284.8h.01M76.1 280.8h.01M71.9 283.2h.01M72.6 280.6h.01M72.3 279.5h.01M63.5 288.3h.01M73.7 285.7h.01M74.5 281.8h.01M71.1 274.7h.01M67.9 287.2h.01M73.4 280.6h.01M73.1 280.4h.01M69.5 280.8h.01M72.4 280.6h.01M71.9 279.7h.01M68.2 287.3h.01M65.5 288.8h.01M68.0 281.8h.01M69.7 281.3h.01M69.9 284.9h.01M74.1 283.4h.01M69.7 281.1h.01M73.2 281.9h.01M68.5 288.9h.01M68.1 282.3h.01M77.2 279.7h.01M71.9 283.0h.01M65.8 284.8h.01M72.6 282.3h.01M70.3 285.6h.01M70.9 285.9h.01M74.5 280.8h.01M70.2 283.1h.01M61.9 285.1h.01M73.0 280.0h.01M67.7 281.5h.01M72.5 281.8h.01M72.6 280.4h.01M70.2 282.0h.01M68.5 284.2h.01M70.6 283.4h.01M68.7 287.2h.01M71.5 284.7h.01M72.7 281.0h.01M69.0 284.6h.01M72.4 282.6h.01M72.7 277.5h.01M69.2 286.4h.01M74.9 280.2h.01M70.3 283.6h.01M68.9 282.9h.01M72.8 280.8h.01M67.3 283.7h.01M73.7 281.5h.01M67.5 284.2h.01M72.7 283.3h.01M74.2 284.7h.01M66.9 284.7h.01M70.0 283.9h.01M73.5 280.7h.01M69.8 281.2h.01M75.6 282.6h.01M72.6 285.7h.01M68.8 282.5h.01M74.1 281.7h.01M67.0 281.3h.01M68.4 282.9h.01M68.5 280.3h.01M73.3 278.3h.01M70.3 283.4h.01M73.0 279.5h.01M75.5 279.0h.01M70.8 285.3h.01M71.6 287.9h.01M71.0 284.5h.01M74.2 279.9h.01M72.1 286.7h.01M73.3 279.9h.01M72.1 286.7h.01M67.7 283.4h.01M74.0 285.8h.01M72.7 282.8h.01M67.6 285.2h.01M75.5 287.8h.01M69.1 285.2h.01M68.9 284.8h.01M74.7 281.8h.01M69.6 281.6h.01M71.7 285.2h.01M76.2 281.4h.01M73.3 282.4h.01M70.5 284.3h.01M70.2 281.4h.01M68.7 282.4h.01M71.0 280.9h.01M73.0 281.9h.01M74.3 283.2h.01M71.7 285.2h.01M70.0 281.3h.01M70.7 281.2h.01M66.4 287.6h.01M66.8 286.8h.01M74.8 280.5h.01M66.0 281.9h.01M66.4 282.5h.01M71.7 285.7h.01M71.4 282.4h.01M72.2 282.9h.01M71.2 281.6h.01M74.3 283.3h.01M74.4 280.8h.01M73.2 278.8h.01M69.2 284.8h.01M72.7 282.4h.01M72.8 283.2h.01M71.0 284.5h.01M77.7 277.6h.01M67.3 283.5h.01M65.7 289.0h.01M72.0 281.6h.01M72.1 286.8h.01M72.8 287.2h.01M69.1 284.9h.01M71.0 281.1h.01M70.8 282.0h.01M73.4 283.1h.01M72.7 282.4h.01M78.9 277.4h.01M70.4 283.5h.01M67.1 284.5h.01M68.4 286.9h.01M71.1 286.3h.01M73.4 280.3h.01M71.8 281.8h.01M72.6 282.4h.01M79.4 283.3h.01M74.0 283.7h.01M68.6 285.4h.01M73.9 280.2h.01" stroke="#000" stroke-opacity="0.55" stroke-width="0.9" stroke-linecap="round" fill="none"/>
<ellipse cx="71.10" cy="283.30" rx="4.30" ry="7.20" fill="url(#g1)" opacity="1.0" transform="rotate(42 71.10 283.30)"/>
<path d="M67.3 284.4h.01M60.1 285.6h.01M63.0 282.8h.01M67.5 285.9h.01M65.3 291.3h.01M67.3 283.2h.01M66.8 284.6h.01M59.7 280.4h.01M62.1 291.0h.01M65.6 284.2h.01M64.5 287.8h.01M66.2 289.9h.01M68.4 289.8h.01M65.8 286.1h.01M64.8 284.5h.01M61.1 283.3h.01M63.3 283.1h.01M69.6 285.8h.01M69.6 287.5h.01M68.8 287.9h.01M64.3 287.3h.01M65.2 283.5h.01M69.6 291.3h.01M63.3 290.0h.01M68.5 282.5h.01" stroke="#000" stroke-opacity="0.3" stroke-width="0.9" stroke-linecap="round" fill="none"/>
<path d="M110.0 284.6h.01M111.9 282.9h.01M108.5 281.6h.01M110.0 286.5h.01M108.9 287.0h.01M109.1 281.8h.01M108.7 286.3h.01M109.5 284.8h.01M105.8 288.9h.01M107.3 280.3h.01M113.7 287.3h.01M107.4 281.2h.01M109.9 279.6h.01M106.9 288.0h.01M109.6 285.6h.01M111.6 285.2h.01M109.4 281.9h.01M111.6 283.0h.01M110.3 281.5h.01M110.6 278.6h.01M111.2 282.2h.01M107.3 287.0h.01M111.0 283.6h.01M111.2 278.9h.01M113.1 281.6h.01M113.6 281.1h.01M110.9 283.3h.01M112.9 283.6h.01M109.4 283.4h.01M106.7 287.7h.01M111.4 281.6h.01M108.9 284.1h.01M109.2 285.4h.01M102.7 287.8h.01M113.3 285.7h.01M108.3 282.1h.01M116.3 278.1h.01M113.9 279.5h.01M108.0 287.5h.01M115.5 280.8h.01M110.5 287.5h.01M108.8 284.1h.01M113.5 284.5h.01M111.8 281.8h.01M117.2 279.3h.01M114.9 282.7h.01M115.7 280.4h.01M110.5 280.5h.01M115.5 280.2h.01M112.9 282.5h.01M113.1 284.2h.01M111.6 283.5h.01M114.0 284.8h.01M105.9 288.4h.01M109.0 285.2h.01M108.9 282.8h.01M106.8 280.5h.01M113.0 278.6h.01M105.7 284.3h.01M114.7 280.0h.01M114.8 284.0h.01M109.4 283.4h.01M112.5 277.6h.01M106.6 285.3h.01M115.6 280.5h.01M112.2 285.0h.01M111.1 284.1h.01M113.4 281.3h.01M110.8 280.3h.01M108.5 284.4h.01M105.0 285.8h.01M110.9 280.9h.01M110.6 285.4h.01M112.5 280.1h.01M112.7 277.8h.01M109.7 287.6h.01M112.1 287.1h.01M109.2 285.7h.01M112.5 283.9h.01M106.0 289.3h.01M111.2 277.4h.01M107.3 283.9h.01M113.1 284.0h.01M111.6 284.1h.01M112.2 282.3h.01M110.5 283.3h.01M107.0 290.6h.01M106.5 282.2h.01M108.2 285.8h.01M110.3 286.7h.01M113.9 281.9h.01M104.1 285.3h.01M114.5 282.5h.01M110.9 286.8h.01M104.7 282.3h.01M106.3 285.0h.01M111.2 280.5h.01M108.7 280.7h.01M113.6 282.9h.01M102.7 286.3h.01M111.7 287.6h.01M112.5 279.5h.01M106.7 282.5h.01M114.9 282.3h.01M111.1 282.6h.01M109.0 284.2h.01M115.1 284.5h.01M109.3 287.3h.01M110.4 282.5h.01M106.0 284.3h.01M111.2 280.9h.01M112.6 281.2h.01M109.6 281.1h.01M113.2 284.8h.01M114.7 280.2h.01M103.3 285.3h.01M113.5 278.8h.01M108.9 284.7h.01M110.0 278.7h.01M113.0 281.3h.01M109.5 286.9h.01M112.2 282.8h.01M111.9 281.6h.01M109.6 283.9h.01M107.8 285.4h.01M115.7 285.4h.01M109.1 285.9h.01M112.0 283.6h.01M107.4 285.2h.01M110.3 285.5h.01M107.8 283.8h.01M112.1 283.9h.01M106.4 289.8h.01M106.3 282.3h.01M111.9 278.2h.01M108.9 284.4h.01M113.3 280.4h.01M109.6 279.9h.01M112.5 281.2h.01M104.1 285.8h.01M109.6 281.8h.01M111.0 281.0h.01M111.3 282.6h.01M114.2 281.1h.01M103.7 286.3h.01M108.6 285.2h.01M111.0 286.3h.01M114.2 279.3h.01M105.8 283.7h.01M110.2 285.7h.01M113.0 275.5h.01M111.7 278.8h.01M113.1 280.9h.01M114.3 283.8h.01M107.6 284.8h.01M113.1 281.4h.01M107.3 289.4h.01M109.2 281.0h.01M113.4 276.8h.01M109.8 286.0h.01M111.0 285.7h.01M107.5 280.5h.01M112.2 279.3h.01M107.0 283.8h.01M105.5 288.0h.01M115.7 279.0h.01M108.9 287.8h.01M113.4 280.2h.01M116.3 282.3h.01M114.8 278.2h.01M112.6 277.2h.01M109.4 287.9h.01M113.1 279.2h.01M109.5 284.2h.01M110.9 278.2h.01M108.7 285.0h.01M109.6 284.6h.01M114.4 275.1h.01M113.1 281.3h.01M111.2 282.1h.01M113.0 281.9h.01M112.6 285.4h.01M109.8 285.7h.01M111.1 285.8h.01M109.3 279.3h.01M112.2 287.1h.01M110.3 285.3h.01M111.1 280.6h.01M106.8 285.4h.01M106.9 288.5h.01M106.8 288.9h.01M114.0 280.8h.01M112.4 286.6h.01M111.8 285.5h.01M109.6 283.3h.01M111.6 278.6h.01M110.4 280.7h.01M108.7 281.2h.01M106.2 289.0h.01M113.4 285.7h.01M112.4 283.9h.01M111.2 283.7h.01M109.5 282.8h.01M107.2 282.4h.01M112.6 280.1h.01M108.6 284.3h.01M108.3 283.6h.01M107.7 288.2h.01M109.1 281.5h.01M107.7 288.0h.01M109.1 285.6h.01M109.6 279.7h.01M113.7 284.8h.01M115.6 284.4h.01M113.9 278.7h.01M110.9 284.9h.01M113.2 286.5h.01M113.5 279.2h.01M108.1 285.7h.01M108.7 287.6h.01M111.9 284.4h.01M111.0 284.6h.01M104.4 286.0h.01M113.6 281.0h.01M110.4 284.6h.01M108.6 288.5h.01M104.5 280.5h.01M115.1 282.9h.01M107.0 281.5h.01M110.2 284.7h.01M109.9 280.5h.01M109.0 285.5h.01M113.2 287.1h.01M115.2 276.2h.01M112.5 284.4h.01M112.7 280.5h.01M115.9 279.6h.01M110.4 283.8h.01M107.8 287.2h.01M110.1 283.4h.01M115.5 280.4h.01M109.9 283.1h.01M113.9 282.5h.01M110.8 285.4h.01M111.7 277.3h.01M107.9 281.7h.01M109.1 285.5h.01M113.1 283.0h.01M110.2 287.0h.01M110.1 285.2h.01M107.6 282.5h.01M111.8 278.7h.01M109.6 283.2h.01M111.2 282.3h.01M108.5 282.4h.01M112.7 278.5h.01M107.2 287.3h.01M112.4 279.9h.01M108.5 289.8h.01M110.5 282.3h.01" stroke="#000" stroke-opacity="0.55" stroke-width="0.9" stroke-linecap="round" fill="none"/>
<ellipse cx="110.50" cy="283.30" rx="4.30" ry="7.20" fill="url(#g1)" opacity="1.0" transform="rotate(42 110.50 283.30)"/>
<path d="M106.1 293.8h.01M105.9 288.0h.01M106.8 279.6h.01M102.2 281.3h.01M106.8 285.3h.01M110.8 284.2h.01M106.4 285.2h.01M105.9 291.9h.01M106.4 289.4h.01M109.4 283.2h.01M107.5 283.9h.01M105.8 285.5h.01M105.6 283.6h.01M110.2 284.2h.01M107.6 290.0h.01M107.4 288.1h.01M109.7 288.3h.01M110.6 280.7h.01M111.4 285.1h.01M100.3 283.1h.01M101.3 284.9h.01M101.0 282.0h.01M106.4 285.5h.01M103.1 284.3h.01M105.2 285.2h.01" stroke="#000" stroke-opacity="0.3" stroke-width="0.9" stroke-linecap="round" fill="none"/>
<line x1="50.50" y1="399.00" x2="50.50" y2="469.00" stroke="#d6d6d6" stroke-width="1"/>
<line x1="50.00" y1="399.50" x2="85.00" y2="399.50" stroke="#a4a4a4" stroke-width="1"/>
<line x1="84.50" y1="399.00" x2="84.50" y2="469.00" stroke="#7a7a7a" stroke-width="1"/>
<line x1="50.50" y1="468.50" x2="84.50" y2="468.50" stroke="#7a7a7a" stroke-width="1" stroke-dasharray="1.3 1.5"/>
<line x1="90.50" y1="399.00" x2="90.50" y2="469.00" stroke="#a4a4a4" stroke-width="1"/>
<line x1="90.00" y1="399.50" x2="125.00" y2="399.50" stroke="#a4a4a4" stroke-width="1"/>
<line x1="90.50" y1="468.50" x2="124.50" y2="468.50" stroke="#7a7a7a" stroke-width="1" stroke-dasharray="1.3 1.5"/>
<line x1="69.50" y1="399.00" x2="69.50" y2="469.00" stroke="#1e1e1e" stroke-width="1.1"/>
<line x1="52.00" y1="451.50" x2="121.50" y2="451.50" stroke="#4a4a4a" stroke-width="1.2"/>
<text x="44.00" y="438.90" font-size="10.7" text-anchor="middle" font-weight="normal" fill="#1c1c1c" transform="rotate(-90 44.00 438.90)" stroke="#1c1c1c" stroke-width="0.28">IE1/B8 tet</text>
<text x="79.30" y="486.80" font-size="10.4" text-anchor="middle" font-weight="normal" fill="#1c1c1c" stroke="#1c1c1c" stroke-width="0.28">CD8</text>
<text x="109.70" y="411.30" font-size="9.4" text-anchor="middle" font-weight="normal" fill="#1c1c1c" stroke="#1c1c1c" stroke-width="0.28">99%</text>
<path d="M67.0 420.2h.01M69.4 415.3h.01M65.4 421.7h.01M65.2 419.6h.01M65.7 421.8h.01M71.9 419.1h.01M66.4 422.1h.01M64.9 415.4h.01M68.0 419.4h.01M65.4 423.2h.01M67.0 419.1h.01M57.5 417.9h.01M67.2 420.4h.01M69.1 421.0h.01M64.4 417.6h.01M62.9 421.5h.01M63.3 424.1h.01M60.8 416.9h.01M65.2 415.8h.01M72.8 416.3h.01M66.8 420.1h.01M62.7 416.5h.01M60.6 425.1h.01M72.7 426.1h.01M61.9 423.8h.01M67.8 423.3h.01M65.7 423.4h.01M71.1 421.7h.01M72.7 418.9h.01M72.7 417.3h.01M71.7 411.2h.01M66.7 418.5h.01M68.0 423.8h.01M70.1 420.4h.01M72.7 414.9h.01M65.1 426.0h.01M67.0 414.4h.01M67.7 417.0h.01M73.8 422.7h.01M66.0 425.1h.01M64.6 424.3h.01M69.4 419.9h.01M61.5 421.4h.01M57.9 421.4h.01M60.9 426.1h.01M61.7 414.7h.01M69.7 421.3h.01M66.8 427.5h.01M70.3 420.2h.01M62.6 412.8h.01M69.8 423.1h.01M63.9 417.3h.01M65.8 416.0h.01M67.8 423.0h.01M73.3 420.1h.01M68.5 422.8h.01M72.4 418.5h.01M61.9 419.7h.01M61.7 419.4h.01M67.0 421.9h.01M67.9 420.9h.01M66.1 422.4h.01M71.2 422.2h.01M72.8 418.5h.01M67.5 426.0h.01M68.3 421.8h.01M66.6 423.9h.01M64.9 418.3h.01M66.6 419.6h.01M70.2 418.9h.01M67.5 420.0h.01M68.1 418.6h.01M70.5 415.6h.01M65.2 419.1h.01M69.7 420.3h.01M68.8 419.4h.01M63.6 418.2h.01M65.5 419.6h.01M68.5 421.6h.01M70.9 419.5h.01M63.5 418.4h.01M67.7 421.8h.01M74.9 419.4h.01M75.4 424.6h.01M64.0 425.3h.01M72.6 423.6h.01M67.9 423.6h.01M65.3 421.1h.01M68.6 426.0h.01M67.1 423.8h.01M66.9 418.7h.01M68.6 422.5h.01M64.9 423.3h.01M63.8 418.9h.01M67.9 419.9h.01M62.2 417.0h.01M67.5 421.5h.01M65.6 421.8h.01M61.6 423.4h.01M69.0 421.2h.01M64.9 421.6h.01M68.5 423.8h.01M68.5 421.3h.01M65.0 424.0h.01M71.4 418.2h.01M69.9 421.1h.01M66.1 417.1h.01M72.7 413.7h.01M68.1 419.4h.01M71.3 418.5h.01M67.8 422.5h.01M68.6 418.8h.01M70.1 421.3h.01M70.7 418.4h.01M66.7 419.7h.01M64.1 422.4h.01M69.8 424.5h.01M66.2 422.2h.01M71.5 419.4h.01M67.5 421.1h.01M63.8 418.6h.01M71.6 420.2h.01M66.0 417.3h.01M68.5 424.1h.01M62.1 419.3h.01M72.5 423.9h.01M72.8 417.7h.01M69.0 418.0h.01M68.9 419.2h.01M68.9 424.5h.01M68.3 419.8h.01M67.6 421.5h.01M65.4 421.9h.01M70.6 424.7h.01M58.4 419.3h.01M63.1 424.5h.01M76.8 419.0h.01M68.5 424.0h.01M57.6 422.6h.01M55.3 424.2h.01M64.9 419.9h.01M68.1 418.8h.01M71.5 419.7h.01M70.5 427.8h.01M66.1 423.9h.01M64.9 425.2h.01M71.0 420.3h.01M72.2 424.5h.01M72.5 419.5h.01M67.8 424.1h.01M61.1 420.5h.01M69.5 422.0h.01M75.6 424.1h.01M68.8 421.8h.01M62.0 421.5h.01M68.0 419.9h.01M67.9 422.5h.01M63.1 420.1h.01M61.2 425.8h.01M61.9 416.9h.01M70.0 419.4h.01M70.6 418.8h.01M75.9 420.8h.01M67.9 421.0h.01M67.0 423.3h.01M74.6 417.7h.01M63.5 423.6h.01M70.2 415.5h.01M63.8 418.6h.01M69.7 421.7h.01M63.6 418.3h.01M68.3 414.2h.01M69.6 419.7h.01M75.3 421.8h.01M64.8 420.6h.01M65.6 419.0h.01M68.2 423.5h.01M61.3 421.6h.01M73.4 421.5h.01M63.5 419.3h.01M62.8 417.0h.01M71.6 419.9h.01M63.5 417.4h.01M65.4 419.7h.01M73.5 417.8h.01M68.4 423.8h.01M69.6 419.6h.01M59.9 426.9h.01M69.2 419.0h.01M66.2 418.1h.01M62.7 417.4h.01M69.5 421.8h.01M68.4 422.9h.01M69.3 420.6h.01M64.3 423.3h.01M72.2 421.5h.01M71.6 418.3h.01M64.4 425.3h.01M65.1 422.0h.01M66.5 421.0h.01M65.8 419.5h.01M61.8 427.9h.01M66.6 415.1h.01M62.9 418.4h.01M62.6 414.2h.01M70.6 424.9h.01M66.8 423.2h.01M68.6 416.7h.01M70.6 414.8h.01M64.8 420.3h.01M72.1 419.9h.01M66.2 418.6h.01M67.6 420.8h.01M71.0 424.1h.01M70.0 420.2h.01M67.8 425.5h.01M68.0 420.6h.01M75.1 423.6h.01M69.3 420.0h.01M65.5 424.4h.01M66.2 424.0h.01M64.3 421.8h.01M68.8 420.8h.01M68.4 421.7h.01M62.1 418.7h.01M67.9 426.1h.01M66.1 418.3h.01M64.7 421.5h.01M71.3 418.1h.01M69.5 420.8h.01M65.2 418.4h.01M66.1 418.9h.01M68.0 415.3h.01M72.0 421.9h.01M70.5 424.5h.01M68.3 415.4h.01M67.7 422.0h.01M63.8 418.2h.01M69.2 421.8h.01M65.4 420.5h.01M64.9 419.7h.01M67.7 423.9h.01M60.9 421.4h.01M73.5 420.2h.01M68.4 423.0h.01M62.5 418.3h.01M59.9 418.2h.01M68.7 423.0h.01M65.1 419.3h.01M69.2 422.2h.01M66.8 415.2h.01M63.3 414.1h.01M67.5 418.2h.01M65.8 425.7h.01M72.5 420.9h.01M68.4 421.0h.01M64.9 421.2h.01M73.8 416.5h.01M64.8 421.9h.01M71.2 422.3h.01M63.5 421.3h.01M65.3 417.6h.01M67.2 419.4h.01M71.0 421.2h.01M64.3 421.8h.01M65.4 419.3h.01M66.1 424.3h.01M64.4 416.3h.01M64.8 423.8h.01M74.6 415.8h.01M65.6 420.2h.01M62.2 423.3h.01M67.2 421.6h.01M75.5 417.9h.01M70.8 422.4h.01M64.4 419.7h.01M73.6 421.4h.01M67.0 417.6h.01M70.9 421.5h.01M76.5 422.9h.01M70.4 420.8h.01M67.0 419.2h.01M68.5 421.2h.01M70.4 423.3h.01M68.0 419.0h.01M71.3 424.4h.01M64.3 422.8h.01M69.6 421.8h.01M69.0 420.1h.01M68.0 425.7h.01M72.7 415.2h.01M57.9 424.4h.01M64.3 420.0h.01M61.4 423.3h.01M66.6 419.3h.01M72.3 426.8h.01M73.6 422.7h.01M66.1 423.1h.01M67.9 424.1h.01M69.4 420.2h.01M68.8 418.3h.01M71.3 424.3h.01M66.2 422.7h.01M61.6 425.0h.01M69.8 417.1h.01M73.9 419.5h.01M59.7 418.6h.01M70.3 419.2h.01M70.3 415.4h.01M67.5 423.7h.01M65.1 423.4h.01M66.1 422.1h.01M70.0 426.8h.01M63.1 424.2h.01M71.4 416.4h.01M69.1 427.3h.01M69.1 411.4h.01M65.1 416.2h.01M67.8 418.5h.01M64.5 419.0h.01M68.0 419.2h.01M63.6 421.0h.01M68.1 418.0h.01M70.2 415.1h.01M68.5 419.3h.01M72.7 417.5h.01M63.8 417.6h.01M75.1 420.7h.01M62.9 420.9h.01M64.7 426.0h.01M67.3 414.6h.01M68.6 423.2h.01M67.5 422.1h.01M66.9 421.5h.01M67.5 418.6h.01M68.6 420.9h.01M66.6 418.9h.01M63.6 422.5h.01M68.6 413.2h.01M66.1 425.1h.01M70.2 417.9h.01M71.6 416.7h.01M65.6 427.0h.01M65.4 420.6h.01M60.3 419.5h.01M62.7 421.5h.01M61.0 425.5h.01M65.4 419.4h.01M65.3 423.5h.01M72.7 418.2h.01M74.4 423.8h.01M72.5 420.4h.01M62.1 424.1h.01M65.8 421.7h.01M59.9 421.8h.01M67.4 417.9h.01M69.5 425.3h.01M67.6 418.6h.01M74.7 412.5h.01M64.0 422.8h.01" stroke="#000" stroke-opacity="0.55" stroke-width="0.9" stroke-linecap="round" fill="none"/>
<ellipse cx="67.20" cy="420.80" rx="9.00" ry="6.40" fill="url(#g1)" opacity="1.0" transform="rotate(-14 67.20 420.80)"/>
<path d="M63.9 417.3h.01M60.3 438.4h.01M56.7 441.9h.01M60.3 441.0h.01M57.6 431.8h.01M61.4 447.1h.01M64.3 433.6h.01M62.7 428.8h.01M65.0 428.9h.01M65.1 419.3h.01M54.5 443.6h.01M61.0 434.3h.01M56.1 431.2h.01M68.7 424.2h.01M55.9 430.2h.01M60.3 431.1h.01M60.6 423.1h.01M57.2 436.2h.01M59.6 438.2h.01M57.6 436.0h.01M60.0 433.1h.01M63.3 433.6h.01M63.3 421.6h.01M60.0 438.0h.01M59.8 432.0h.01M59.4 422.9h.01M59.9 441.6h.01M63.4 421.5h.01M63.1 422.2h.01M57.1 445.4h.01" stroke="#000" stroke-opacity="0.25" stroke-width="0.9" stroke-linecap="round" fill="none"/>
<path d="M108.0 419.6h.01M110.7 418.2h.01M108.4 420.6h.01M107.6 415.7h.01M110.3 422.1h.01M96.4 414.7h.01M104.7 425.4h.01M107.6 422.2h.01M109.7 422.3h.01M104.2 419.2h.01M108.9 421.7h.01M109.4 420.7h.01M105.9 423.9h.01M109.6 422.9h.01M98.0 425.6h.01M97.8 423.2h.01M104.5 421.3h.01M105.0 419.9h.01M108.0 421.1h.01M102.1 413.8h.01M104.4 422.6h.01M104.1 422.3h.01M104.9 417.9h.01M112.7 423.9h.01M106.6 420.3h.01M109.7 415.6h.01M104.5 424.4h.01M110.1 418.0h.01M104.3 422.0h.01M101.2 420.2h.01M104.3 413.4h.01M109.8 421.9h.01M110.1 415.1h.01M101.5 419.2h.01M103.5 427.5h.01M103.0 420.3h.01M108.1 421.4h.01M111.8 415.8h.01M110.5 419.9h.01M102.6 421.9h.01M102.8 426.3h.01M104.9 423.9h.01M111.6 417.3h.01M103.6 421.5h.01M103.6 423.9h.01M107.1 417.9h.01M104.9 423.1h.01M102.6 426.6h.01M103.8 420.5h.01M104.6 425.9h.01M111.1 423.3h.01M109.6 419.9h.01M114.0 420.6h.01M109.1 421.5h.01M110.0 420.4h.01M105.2 415.8h.01M114.0 414.5h.01M98.2 420.3h.01M115.4 422.0h.01M104.9 421.6h.01M105.5 414.6h.01M105.9 421.5h.01M110.7 415.7h.01M97.1 417.9h.01M108.3 420.2h.01M107.7 420.6h.01M104.6 416.7h.01M109.0 421.0h.01M110.1 423.4h.01M100.5 414.7h.01M101.6 428.2h.01M103.7 422.3h.01M107.5 422.4h.01M119.1 415.7h.01M105.9 418.7h.01M108.3 421.6h.01M104.2 425.1h.01M111.8 420.5h.01M106.4 419.7h.01M101.1 423.8h.01M102.9 419.8h.01M110.2 416.7h.01M105.6 423.3h.01M113.7 416.5h.01M110.8 417.3h.01M108.9 421.3h.01M103.3 424.4h.01M114.0 418.7h.01M107.2 416.6h.01M114.0 418.8h.01M102.6 423.8h.01M100.8 419.7h.01M99.7 426.4h.01M115.1 416.3h.01M104.0 419.3h.01M105.2 422.5h.01M111.9 416.0h.01M107.4 414.6h.01M112.8 418.6h.01M105.4 425.4h.01M107.6 424.4h.01M112.4 424.1h.01M103.9 421.2h.01M108.3 419.4h.01M112.4 416.7h.01M111.9 423.3h.01M98.7 419.4h.01M103.1 419.6h.01M108.4 419.4h.01M107.0 418.9h.01M107.0 421.8h.01M109.3 417.3h.01M106.0 418.2h.01M105.3 416.3h.01M111.2 421.3h.01M106.0 418.4h.01M104.7 418.8h.01M102.2 426.5h.01M118.9 413.5h.01M102.9 423.1h.01M108.2 415.1h.01M99.9 423.7h.01M100.3 426.4h.01M105.1 421.0h.01M106.6 418.7h.01M106.2 419.6h.01M111.8 418.8h.01M106.5 418.8h.01M104.0 418.8h.01M108.4 425.6h.01M111.5 419.9h.01M114.2 421.6h.01M107.7 419.6h.01M102.9 422.1h.01M104.6 416.0h.01M103.4 427.2h.01M108.2 421.5h.01M107.4 418.8h.01M109.6 423.0h.01M106.2 422.1h.01M110.6 417.9h.01M107.1 418.0h.01M109.1 418.6h.01M110.9 417.0h.01M113.3 417.8h.01M103.1 418.5h.01M109.0 417.2h.01M114.9 422.3h.01M108.0 415.7h.01M106.4 418.2h.01M100.3 423.3h.01M115.2 416.6h.01M111.1 423.3h.01M103.0 420.2h.01M108.4 421.4h.01M102.7 422.0h.01M107.3 423.2h.01M100.4 420.2h.01M104.8 419.9h.01M109.3 417.8h.01M117.1 415.6h.01M111.0 422.5h.01M110.6 418.8h.01M103.6 420.4h.01M109.7 420.0h.01M109.7 421.4h.01M102.9 418.4h.01M112.2 417.5h.01M102.2 427.2h.01M103.1 418.4h.01M109.9 416.1h.01M104.4 424.2h.01M105.6 428.4h.01M109.3 428.0h.01M107.5 420.3h.01M104.3 420.3h.01M105.0 420.7h.01M109.1 415.9h.01M101.9 415.1h.01M112.8 418.6h.01M106.9 420.1h.01M111.1 420.3h.01M110.2 419.0h.01M106.5 420.3h.01M100.6 425.3h.01M100.2 418.9h.01M109.6 419.8h.01M111.4 424.5h.01M115.2 422.5h.01M107.6 426.5h.01M103.5 420.9h.01M110.7 418.7h.01M106.3 419.4h.01M110.5 411.8h.01M112.7 422.2h.01M107.1 422.0h.01M104.0 424.5h.01M118.2 414.7h.01M112.4 418.8h.01M105.3 419.2h.01M105.4 416.8h.01M102.9 426.5h.01M107.3 421.9h.01M108.6 421.4h.01M100.4 419.0h.01M110.2 422.6h.01M102.1 419.7h.01M103.3 423.2h.01M108.4 420.1h.01M104.7 421.9h.01M106.6 418.1h.01M107.8 418.0h.01M111.1 421.2h.01M104.8 422.7h.01M106.7 418.2h.01M102.2 416.3h.01M102.9 422.4h.01M111.2 417.3h.01M107.9 421.1h.01M110.4 420.8h.01M112.3 421.3h.01M104.3 422.2h.01M97.8 422.0h.01M107.5 422.0h.01M106.4 423.0h.01M111.5 416.6h.01M105.1 421.6h.01M109.0 420.2h.01M109.4 416.1h.01M110.9 422.9h.01M111.6 420.5h.01M106.4 421.7h.01M105.6 415.8h.01M104.6 420.8h.01M104.3 418.1h.01M105.8 419.4h.01M107.2 420.1h.01M108.4 423.0h.01M107.8 421.4h.01M100.1 412.9h.01M105.9 422.7h.01M105.2 418.8h.01M102.8 424.1h.01M105.1 421.5h.01M111.8 420.8h.01M115.6 417.7h.01M111.2 421.4h.01M104.5 421.1h.01M104.1 417.9h.01M107.6 417.8h.01M113.0 416.5h.01M105.0 421.1h.01M105.0 421.0h.01M103.6 416.7h.01M96.7 418.9h.01M113.2 420.1h.01M107.3 418.8h.01M106.7 421.3h.01M101.0 419.3h.01M104.5 424.8h.01M103.8 424.7h.01M107.2 428.7h.01M106.7 420.5h.01M112.9 421.5h.01M109.9 416.3h.01M112.6 424.1h.01M106.3 419.0h.01M103.5 424.3h.01M108.1 420.0h.01M103.4 426.2h.01M110.4 419.4h.01M112.0 416.1h.01M109.7 416.5h.01M112.3 418.1h.01M111.4 417.9h.01M109.4 423.2h.01M103.6 421.5h.01M104.4 423.6h.01M104.4 419.8h.01M107.1 423.9h.01M102.9 421.2h.01M105.3 419.0h.01M103.8 420.6h.01M106.6 415.6h.01M107.0 416.6h.01M108.7 426.9h.01M103.2 421.0h.01M106.7 423.4h.01M103.9 415.6h.01M100.9 422.4h.01M108.8 423.2h.01M105.4 422.8h.01M103.8 425.1h.01M106.2 418.4h.01M109.0 425.2h.01M102.8 417.5h.01M102.2 417.9h.01M107.1 421.4h.01M106.5 421.0h.01M111.4 418.3h.01M100.5 414.9h.01M107.4 418.1h.01M106.3 421.7h.01M107.7 415.3h.01M103.3 421.4h.01M107.3 423.8h.01M103.6 414.8h.01M110.4 414.4h.01M103.5 422.4h.01M104.7 428.6h.01M108.3 421.6h.01M106.9 427.2h.01M108.6 417.7h.01M110.6 414.2h.01M104.9 421.7h.01M106.8 417.4h.01M114.2 423.1h.01M103.6 422.3h.01M104.2 419.7h.01M110.9 419.7h.01M106.7 420.7h.01M103.3 425.0h.01M105.0 424.8h.01M104.9 419.4h.01M112.9 419.4h.01M104.1 419.4h.01M110.7 425.2h.01M109.1 418.6h.01M102.2 419.4h.01M106.7 421.1h.01M105.4 424.7h.01M102.8 419.1h.01M109.3 421.2h.01M106.2 423.5h.01M102.7 426.4h.01M116.9 423.9h.01M108.9 425.9h.01M108.2 424.1h.01M106.4 421.1h.01M107.8 414.7h.01M107.4 425.5h.01M95.9 424.2h.01M110.8 420.4h.01M108.8 424.1h.01M106.9 414.5h.01M103.1 420.4h.01M107.2 418.9h.01M107.8 425.3h.01M96.5 426.5h.01M111.1 421.1h.01M107.1 420.5h.01M108.6 420.7h.01M104.8 423.3h.01M103.8 421.0h.01M104.8 417.3h.01M109.3 419.5h.01M102.4 421.2h.01M102.7 425.8h.01M110.4 425.6h.01M105.3 422.9h.01" stroke="#000" stroke-opacity="0.55" stroke-width="0.9" stroke-linecap="round" fill="none"/>
<ellipse cx="107.00" cy="420.30" rx="9.00" ry="6.40" fill="url(#g1)" opacity="1.0" transform="rotate(-14 107.00 420.30)"/>
<path d="M100.2 425.9h.01M100.0 435.0h.01M103.7 431.1h.01M101.9 439.5h.01M99.2 430.5h.01M95.7 443.2h.01M98.1 437.9h.01M103.7 431.2h.01M99.2 434.3h.01M101.4 423.3h.01M98.1 434.0h.01M98.3 444.3h.01M95.7 434.5h.01M96.1 439.3h.01M102.4 433.6h.01M105.2 430.7h.01M101.6 424.9h.01M99.2 432.7h.01M100.3 441.4h.01M101.7 427.2h.01M101.0 429.2h.01M100.6 429.3h.01M99.0 431.4h.01M100.1 430.8h.01M97.4 432.4h.01M101.2 437.0h.01M101.7 424.3h.01M100.0 423.6h.01M100.0 429.8h.01M95.5 435.7h.01" stroke="#000" stroke-opacity="0.25" stroke-width="0.9" stroke-linecap="round" fill="none"/>
<line x1="48.50" y1="535.00" x2="48.50" y2="606.00" stroke="#7a7a7a" stroke-width="1"/>
<line x1="48.00" y1="535.50" x2="84.00" y2="535.50" stroke="#a4a4a4" stroke-width="1"/>
<line x1="83.50" y1="535.00" x2="83.50" y2="606.00" stroke="#7a7a7a" stroke-width="1"/>
<line x1="48.00" y1="605.50" x2="84.00" y2="605.50" stroke="#7a7a7a" stroke-width="1"/>
<line x1="89.50" y1="605.50" x2="124.50" y2="605.50" stroke="#d6d6d6" stroke-width="1" stroke-dasharray="1.3 1.5"/>
<line x1="68.50" y1="535.00" x2="68.50" y2="606.00" stroke="#1e1e1e" stroke-width="1.1"/>
<line x1="51.50" y1="588.50" x2="120.80" y2="588.50" stroke="#4a4a4a" stroke-width="1.4"/>
<text x="43.80" y="570.00" font-size="10.7" text-anchor="middle" font-weight="normal" fill="#1c1c1c" transform="rotate(-90 43.80 570.00)" stroke="#1c1c1c" stroke-width="0.28">BMLF1/A2 tet</text>
<text x="79.00" y="625.30" font-size="10.4" text-anchor="middle" font-weight="normal" fill="#1c1c1c" stroke="#1c1c1c" stroke-width="0.28">CD8</text>
<text x="108.00" y="548.10" font-size="9.4" text-anchor="middle" font-weight="normal" fill="#1c1c1c" stroke="#1c1c1c" stroke-width="0.28">98%</text>
<path d="M61.6 554.2h.01M60.7 566.9h.01M71.5 559.9h.01M64.9 557.7h.01M64.7 559.5h.01M75.1 554.6h.01M66.3 554.7h.01M67.2 557.2h.01M69.2 553.0h.01M71.1 564.6h.01M57.8 564.9h.01M66.0 551.5h.01M67.5 557.3h.01M68.5 557.3h.01M67.4 563.0h.01M65.7 562.6h.01M64.6 557.8h.01M64.7 567.0h.01M58.6 578.3h.01M72.8 553.5h.01M68.5 561.4h.01M67.4 555.0h.01M71.9 556.0h.01M66.3 555.2h.01M68.1 572.6h.01M61.8 556.3h.01M67.0 557.9h.01M66.2 552.2h.01M68.1 552.6h.01M62.1 580.6h.01M60.2 573.6h.01M67.6 556.1h.01M66.0 553.2h.01M63.7 566.6h.01M68.4 559.7h.01M61.3 559.3h.01M69.5 564.7h.01M69.4 544.7h.01M62.3 564.9h.01M58.9 570.8h.01M65.1 553.7h.01M63.3 559.8h.01M69.3 557.5h.01M59.5 558.8h.01M63.1 573.6h.01M58.1 571.6h.01M66.0 565.2h.01M64.5 553.4h.01M59.8 567.5h.01M63.2 569.6h.01M70.5 562.8h.01M60.4 576.0h.01M61.8 556.3h.01M64.6 557.7h.01M67.2 554.6h.01M71.6 551.4h.01M66.1 547.1h.01M59.2 564.4h.01M67.3 560.1h.01M66.1 566.6h.01M63.2 560.2h.01M61.5 577.1h.01M62.7 563.5h.01M63.9 571.0h.01M63.8 569.8h.01M62.2 558.0h.01M59.0 558.9h.01M71.6 565.0h.01M64.6 563.2h.01M68.3 550.8h.01M63.1 559.1h.01M67.3 554.5h.01M66.2 555.2h.01M62.2 554.7h.01M60.5 566.9h.01M67.8 566.8h.01M65.5 556.5h.01M61.2 555.5h.01M67.2 571.4h.01M66.1 559.3h.01M64.0 564.3h.01M63.9 564.4h.01M62.4 560.7h.01M61.4 569.1h.01M58.1 570.0h.01M65.7 557.1h.01M64.7 562.0h.01M63.2 564.1h.01M66.9 547.4h.01M67.1 561.5h.01M69.2 565.6h.01M55.9 568.9h.01M61.5 564.7h.01M69.4 571.5h.01M61.7 559.4h.01M58.4 564.8h.01M68.9 553.6h.01M64.2 568.7h.01M68.9 556.6h.01M65.2 551.7h.01M60.2 562.4h.01M62.1 571.2h.01M66.5 558.8h.01M57.0 571.8h.01M65.5 561.0h.01M64.1 552.0h.01M69.0 554.1h.01M65.3 566.5h.01M67.3 548.1h.01M63.0 572.3h.01M65.1 550.5h.01M68.0 563.2h.01M60.2 570.0h.01M63.0 564.3h.01M65.3 554.9h.01M67.5 554.6h.01M60.6 555.3h.01M66.3 570.7h.01M69.4 570.7h.01M69.3 564.5h.01M62.5 564.3h.01M60.3 565.9h.01M62.9 562.7h.01M62.5 559.3h.01M68.4 560.3h.01M62.2 562.7h.01M68.0 560.4h.01M64.7 548.0h.01M58.3 568.1h.01M63.5 564.7h.01M67.6 564.2h.01M67.5 557.6h.01M58.5 564.5h.01M63.3 565.4h.01M61.9 559.0h.01M73.0 556.4h.01M62.3 571.3h.01M63.9 561.8h.01M56.5 565.2h.01M60.7 570.6h.01M65.4 558.1h.01M66.8 559.6h.01M59.9 572.5h.01M67.7 562.8h.01M65.6 568.2h.01M66.6 562.0h.01M64.2 564.3h.01M65.8 564.3h.01M63.3 560.0h.01M68.5 553.9h.01M63.2 566.9h.01M66.0 559.1h.01M65.9 557.4h.01M68.8 559.1h.01M62.4 550.4h.01M65.3 563.0h.01M66.3 550.6h.01M66.3 554.5h.01M62.8 560.5h.01M61.8 562.8h.01M63.6 556.9h.01M61.0 572.1h.01M67.7 569.7h.01M62.6 560.5h.01M65.9 568.1h.01M59.9 559.2h.01M60.9 566.2h.01M68.0 557.6h.01M72.1 560.9h.01M72.8 562.0h.01M60.4 575.6h.01M64.3 557.0h.01M69.5 562.1h.01M69.1 551.9h.01M68.3 570.2h.01M64.4 566.8h.01M64.3 557.1h.01M59.2 562.5h.01M66.8 568.8h.01M66.2 567.4h.01M64.9 550.4h.01M66.5 563.0h.01M68.5 559.9h.01M61.2 563.7h.01M66.7 548.1h.01M64.9 553.9h.01M62.6 555.9h.01M62.7 579.9h.01M71.1 559.5h.01M68.6 561.6h.01M67.6 556.3h.01M68.3 548.3h.01M72.1 556.9h.01M68.0 557.2h.01M68.3 552.4h.01M61.7 567.7h.01M70.9 546.9h.01M70.4 551.9h.01M64.6 565.3h.01M63.6 558.1h.01M63.2 564.0h.01M64.7 572.3h.01M61.5 576.6h.01M58.1 573.8h.01M62.4 566.7h.01M64.3 561.7h.01M61.2 563.3h.01M70.8 564.1h.01M64.8 561.1h.01M67.5 560.2h.01M64.4 562.8h.01M66.8 569.5h.01M63.0 555.4h.01M63.1 567.6h.01M68.3 560.4h.01M71.8 561.8h.01M66.1 573.2h.01M69.4 564.1h.01M70.0 550.1h.01M60.7 554.9h.01M64.8 569.8h.01M62.3 568.9h.01M63.3 573.2h.01M61.7 553.4h.01M64.2 552.4h.01M72.0 555.6h.01M63.2 557.4h.01M68.6 558.4h.01M66.0 566.0h.01M68.0 542.7h.01M64.7 550.9h.01M71.5 557.1h.01M60.7 563.0h.01M67.1 554.1h.01M66.3 569.0h.01M67.4 555.6h.01M66.6 544.8h.01M65.2 564.4h.01M62.0 560.5h.01M77.5 555.5h.01M58.2 564.2h.01M64.6 557.0h.01M67.1 560.7h.01M66.8 565.9h.01M68.2 563.1h.01M55.2 569.5h.01M57.3 567.5h.01M68.7 550.8h.01M63.2 567.8h.01M61.6 560.5h.01M64.8 552.8h.01M60.2 570.2h.01M67.1 561.5h.01M64.3 562.0h.01M65.4 562.8h.01M57.5 566.5h.01M67.9 540.6h.01M69.7 552.6h.01M64.6 560.3h.01M61.9 564.6h.01M64.6 558.7h.01M62.5 558.1h.01M61.6 560.5h.01M66.8 569.9h.01M69.2 551.1h.01M66.0 569.1h.01M76.2 545.9h.01M65.7 558.6h.01M70.6 553.8h.01M58.6 578.3h.01M72.3 546.8h.01M62.0 571.5h.01M61.7 565.1h.01M68.4 550.1h.01M60.5 569.1h.01M69.9 557.6h.01M69.9 556.7h.01M65.7 561.1h.01M60.3 562.4h.01M69.6 539.9h.01M64.1 553.9h.01M64.4 552.9h.01M68.1 541.8h.01M67.5 562.4h.01M66.3 559.3h.01M65.7 559.1h.01M64.8 548.5h.01M62.9 568.9h.01M62.1 573.5h.01M61.2 557.8h.01M60.3 569.9h.01M71.3 558.6h.01M67.7 559.9h.01M62.0 559.3h.01M58.3 571.9h.01M64.1 570.6h.01M71.3 542.9h.01M67.2 562.5h.01M57.2 559.7h.01M64.3 575.0h.01M60.0 566.1h.01M66.3 560.0h.01M62.8 564.8h.01M65.2 566.6h.01M66.5 550.6h.01M66.2 572.1h.01M63.2 560.3h.01M71.3 548.4h.01M61.2 579.9h.01M67.3 555.9h.01M71.2 562.9h.01M66.5 558.0h.01M69.4 547.5h.01M64.1 548.6h.01M67.9 561.1h.01M73.0 546.5h.01M59.8 571.6h.01M66.5 546.1h.01M63.3 557.7h.01M62.0 571.0h.01M65.6 574.1h.01M67.8 557.7h.01M66.6 549.3h.01M66.1 571.7h.01M67.1 554.3h.01M65.9 565.4h.01M67.9 552.3h.01M66.9 556.9h.01M65.9 566.2h.01M67.2 558.1h.01M67.9 568.3h.01M67.0 568.6h.01M66.1 564.6h.01M65.6 546.2h.01M60.6 564.9h.01M67.3 563.2h.01M61.2 575.1h.01M67.6 547.0h.01M60.8 557.2h.01M65.5 567.3h.01M62.4 567.1h.01M66.3 555.4h.01M62.1 566.4h.01M70.3 553.3h.01M61.6 561.1h.01M74.1 554.0h.01M60.1 563.1h.01M67.8 556.8h.01M63.8 564.7h.01M59.5 559.3h.01M64.7 568.6h.01M68.7 561.5h.01M57.5 570.0h.01M68.7 556.8h.01M65.8 569.9h.01M69.6 542.8h.01M65.1 554.8h.01M62.5 559.6h.01M60.7 563.0h.01M73.4 553.6h.01M69.3 557.9h.01M66.9 560.5h.01M70.4 556.7h.01M68.9 555.7h.01M65.6 561.1h.01M71.7 549.9h.01M57.7 570.4h.01M62.4 574.3h.01M61.2 561.7h.01M62.9 575.1h.01M65.7 557.5h.01M67.3 560.9h.01M60.9 566.2h.01M61.2 551.5h.01M70.2 558.4h.01M63.1 563.6h.01M67.2 566.0h.01M63.2 555.8h.01M68.4 561.0h.01M61.0 567.1h.01M63.7 578.7h.01M63.1 554.6h.01M62.0 563.1h.01M61.0 569.1h.01M54.5 566.0h.01M63.5 558.3h.01M66.2 563.1h.01M58.5 571.6h.01M67.8 557.8h.01M68.0 552.7h.01M61.8 557.6h.01M65.8 562.1h.01M65.5 549.7h.01M56.2 571.7h.01M67.8 555.2h.01M67.4 566.2h.01M65.0 555.9h.01M67.7 564.5h.01M69.2 565.2h.01M64.4 555.9h.01M62.2 562.3h.01M64.4 565.9h.01M68.6 553.4h.01M66.3 553.6h.01M69.3 551.4h.01M65.0 553.9h.01M63.6 558.5h.01M70.1 560.4h.01M61.1 557.4h.01M66.0 565.9h.01M61.3 576.5h.01M68.1 562.7h.01M71.6 551.8h.01M66.3 554.2h.01M61.9 573.5h.01M59.9 572.8h.01M58.6 571.0h.01M61.5 553.0h.01M68.2 561.2h.01M65.4 561.0h.01M65.9 559.8h.01M62.5 557.9h.01M67.2 554.2h.01M62.5 574.9h.01M61.0 555.4h.01M64.0 560.9h.01M66.8 555.5h.01M64.8 561.0h.01M61.3 572.7h.01M68.5 549.8h.01M58.8 564.1h.01M65.2 556.0h.01M61.4 557.4h.01M66.1 555.7h.01M61.9 567.5h.01M66.1 565.9h.01M67.3 550.5h.01M64.0 573.1h.01M66.3 571.0h.01M64.9 564.1h.01M62.1 570.6h.01M59.4 577.2h.01M68.0 559.2h.01M68.4 548.7h.01M63.3 558.1h.01M74.2 556.9h.01M67.6 562.4h.01M62.6 565.5h.01M56.7 566.5h.01M70.2 565.0h.01M64.4 562.2h.01M68.0 557.8h.01M64.2 565.0h.01M63.0 563.7h.01M64.4 566.8h.01M63.0 556.0h.01M61.0 569.8h.01M69.3 548.6h.01M56.7 574.7h.01M68.8 551.4h.01M61.8 561.3h.01M65.7 574.7h.01M64.4 558.4h.01M73.0 555.2h.01M69.0 565.0h.01M62.4 570.9h.01M68.2 555.0h.01M60.2 559.8h.01M63.5 571.9h.01M53.9 569.0h.01M63.5 573.2h.01M66.9 563.3h.01M65.4 564.4h.01M63.2 559.6h.01M66.3 557.7h.01M63.6 548.6h.01M65.3 565.4h.01M67.8 552.1h.01M68.4 558.8h.01M55.1 571.2h.01M55.4 577.0h.01M67.5 558.1h.01M59.2 553.5h.01M66.5 572.7h.01M69.5 548.1h.01M64.3 558.5h.01M66.6 560.4h.01M69.5 548.8h.01M59.8 571.5h.01M58.4 566.8h.01M70.6 568.0h.01M57.9 569.3h.01M58.4 562.0h.01M60.9 570.1h.01M68.1 563.5h.01M68.3 570.1h.01M65.6 553.0h.01M73.4 560.1h.01M66.4 560.5h.01M67.0 548.2h.01M64.7 560.0h.01M69.1 557.9h.01M62.4 551.4h.01M64.2 562.9h.01M68.0 558.7h.01M66.2 562.6h.01M70.2 562.1h.01M64.1 565.5h.01M70.7 555.0h.01M64.0 558.5h.01M55.5 569.1h.01M68.2 562.1h.01M72.5 573.7h.01M67.7 574.8h.01M70.8 550.9h.01M68.7 565.6h.01M61.1 560.4h.01M65.1 569.2h.01M66.6 557.1h.01M68.9 555.8h.01M63.0 566.8h.01M59.6 562.6h.01M60.9 552.1h.01M61.3 559.2h.01M67.2 561.2h.01M67.5 562.5h.01M63.2 564.6h.01M63.9 561.8h.01M69.4 557.5h.01M70.9 553.5h.01M68.1 547.5h.01M59.8 572.8h.01M63.2 571.1h.01M62.6 551.9h.01M64.5 567.8h.01M71.2 548.9h.01M66.6 560.9h.01M64.2 564.8h.01M67.8 547.7h.01M64.8 548.9h.01M61.1 558.8h.01M70.5 556.7h.01M65.1 551.5h.01M59.4 560.0h.01M63.9 558.7h.01M60.9 563.9h.01M60.0 564.2h.01M61.1 566.5h.01M61.2 563.6h.01M66.4 560.8h.01M69.6 563.8h.01M60.6 565.5h.01M63.6 556.1h.01M64.5 562.4h.01M74.0 549.1h.01M61.6 569.5h.01M63.7 563.3h.01M72.3 552.9h.01M63.3 567.1h.01M67.0 547.0h.01M61.4 561.6h.01M61.4 575.4h.01M72.4 550.3h.01M66.1 569.0h.01M70.2 561.3h.01M62.9 561.6h.01M68.3 567.2h.01M68.4 568.6h.01M65.3 552.7h.01M74.0 551.0h.01M64.5 558.2h.01M63.3 555.8h.01M59.7 579.3h.01M65.9 556.9h.01M63.2 568.4h.01M63.3 557.1h.01M57.9 564.9h.01M63.7 573.2h.01M56.4 576.7h.01M68.2 559.7h.01M64.4 558.3h.01M59.4 565.9h.01M64.6 554.9h.01M66.2 562.3h.01M63.6 558.7h.01M60.4 571.0h.01M69.6 556.3h.01M61.7 571.6h.01M60.1 574.5h.01M64.8 566.6h.01M56.6 565.7h.01M64.7 565.8h.01M65.2 565.5h.01M61.3 567.5h.01M67.4 553.0h.01M61.4 561.3h.01M70.8 544.3h.01M56.2 567.3h.01M58.6 583.0h.01M60.7 557.7h.01M61.8 564.8h.01M65.7 574.7h.01M59.0 569.6h.01M60.5 562.3h.01M64.1 566.0h.01M59.5 570.6h.01M64.7 560.8h.01M66.4 552.5h.01M66.4 564.2h.01M62.2 575.8h.01M62.8 558.0h.01M63.0 567.6h.01M62.3 568.1h.01M70.2 547.8h.01M67.3 544.7h.01M64.9 557.5h.01M66.3 562.8h.01M61.9 570.7h.01M69.5 552.0h.01M62.0 562.9h.01M70.6 561.0h.01M63.8 562.9h.01M67.5 561.0h.01M66.7 558.0h.01M65.0 554.4h.01M68.2 557.3h.01M65.7 564.6h.01M73.9 541.1h.01M64.6 550.7h.01M62.6 567.1h.01M69.3 575.2h.01M68.3 565.2h.01M62.5 564.8h.01M56.1 566.3h.01M63.6 565.8h.01M64.1 551.6h.01M63.0 560.1h.01M66.8 558.6h.01M64.5 566.6h.01M61.5 559.2h.01" stroke="#000" stroke-opacity="0.5" stroke-width="0.9" stroke-linecap="round" fill="none"/>
<ellipse cx="64.90" cy="561.00" rx="6.40" ry="14.00" fill="url(#g1)" opacity="0.6" transform="rotate(16 64.90 561.00)"/>
<path d="M56.5 577.4h.01M61.0 579.2h.01M59.9 584.7h.01M59.2 582.3h.01M57.0 586.0h.01M59.2 579.1h.01M52.7 587.8h.01M58.6 579.1h.01M60.4 573.9h.01M56.3 581.7h.01M58.7 577.7h.01M57.6 583.1h.01M56.5 581.7h.01M54.4 583.3h.01M57.0 578.8h.01M59.0 579.5h.01M51.4 587.8h.01M64.3 575.9h.01M60.9 576.3h.01M61.3 576.4h.01M57.7 583.6h.01M58.2 587.2h.01M55.1 584.1h.01M57.4 580.1h.01M60.9 573.8h.01M63.4 573.9h.01M56.4 582.8h.01M61.5 575.1h.01M55.3 582.9h.01M56.3 588.1h.01M53.8 581.0h.01M55.4 583.4h.01M55.4 578.8h.01M60.5 579.2h.01M59.4 576.9h.01M62.7 577.1h.01M57.1 578.8h.01M52.7 588.7h.01M60.2 578.1h.01M58.1 582.9h.01M58.5 581.0h.01M61.2 577.0h.01M56.8 578.2h.01M54.5 582.6h.01M58.5 587.6h.01" stroke="#000" stroke-opacity="0.4" stroke-width="0.9" stroke-linecap="round" fill="none"/>
<path d="M106.5 564.0h.01M106.7 550.3h.01M110.9 550.0h.01M107.2 560.2h.01M108.1 562.1h.01M107.5 556.6h.01M101.3 556.8h.01M105.7 569.7h.01M112.4 554.5h.01M101.4 565.6h.01M98.8 580.6h.01M110.3 549.5h.01M100.7 572.7h.01M99.9 560.6h.01M98.0 572.2h.01M106.8 552.6h.01M102.2 553.9h.01M99.0 555.0h.01M112.4 563.7h.01M107.7 551.7h.01M108.0 557.6h.01M100.2 571.0h.01M109.2 554.5h.01M110.6 561.9h.01M107.1 562.6h.01M108.2 566.8h.01M103.2 566.3h.01M104.4 561.7h.01M113.4 554.2h.01M103.6 557.0h.01M101.5 570.7h.01M95.9 577.4h.01M111.8 558.9h.01M107.3 558.4h.01M106.5 566.7h.01M106.5 567.6h.01M112.3 561.4h.01M108.5 560.2h.01M105.5 562.7h.01M105.0 563.6h.01M103.6 559.1h.01M106.6 551.4h.01M104.8 556.5h.01M108.9 548.7h.01M107.6 552.0h.01M102.9 561.7h.01M108.7 564.2h.01M105.4 557.1h.01M113.7 549.6h.01M112.8 550.3h.01M103.8 560.8h.01M101.5 573.7h.01M107.5 561.1h.01M108.8 562.1h.01M100.9 569.0h.01M107.7 572.3h.01M98.0 574.8h.01M102.9 566.6h.01M104.3 580.6h.01M103.2 551.6h.01M108.5 565.9h.01M111.5 537.9h.01M107.7 559.9h.01M91.8 579.5h.01M99.4 554.4h.01M105.4 562.8h.01M108.8 559.6h.01M103.9 557.4h.01M101.9 550.4h.01M113.6 557.4h.01M101.4 575.7h.01M108.9 562.9h.01M108.8 559.6h.01M100.8 568.0h.01M102.7 573.6h.01M105.9 557.8h.01M107.4 559.8h.01M106.9 553.8h.01M106.0 563.8h.01M111.6 562.4h.01M99.4 563.1h.01M114.0 559.6h.01M103.8 559.0h.01M97.8 555.8h.01M108.7 549.0h.01M109.7 554.7h.01M101.8 553.7h.01M103.6 576.6h.01M109.4 563.6h.01M104.9 558.5h.01M110.1 557.8h.01M105.0 568.9h.01M104.4 555.6h.01M107.3 561.5h.01M106.7 556.8h.01M101.6 575.4h.01M113.7 549.6h.01M105.8 561.8h.01M109.1 550.3h.01M105.2 562.0h.01M103.1 562.8h.01M101.7 547.1h.01M105.3 564.1h.01M106.4 557.3h.01M104.1 569.6h.01M108.9 561.2h.01M102.1 568.9h.01M105.6 568.4h.01M107.0 554.0h.01M107.9 556.3h.01M107.6 568.7h.01M97.6 564.3h.01M107.7 570.3h.01M106.4 553.9h.01M106.6 569.8h.01M108.7 552.0h.01M100.5 561.7h.01M104.9 555.0h.01M104.9 569.6h.01M101.0 553.9h.01M110.0 561.8h.01M103.4 565.7h.01M105.1 550.4h.01M102.5 573.2h.01M109.1 561.9h.01M110.0 558.7h.01M106.0 546.9h.01M104.7 568.3h.01M107.1 561.0h.01M102.2 569.2h.01M109.0 549.7h.01M111.6 557.2h.01M107.1 561.4h.01M108.6 563.9h.01M109.2 563.7h.01M105.6 556.6h.01M109.8 555.1h.01M109.3 560.0h.01M105.0 553.3h.01M101.5 574.7h.01M108.3 561.8h.01M98.8 575.1h.01M105.0 560.7h.01M101.6 571.0h.01M107.5 557.6h.01M108.7 553.4h.01M103.0 558.8h.01M94.3 567.6h.01M114.6 554.1h.01M109.0 548.5h.01M106.0 562.8h.01M111.2 551.2h.01M105.5 555.4h.01M100.0 578.6h.01M105.4 560.5h.01M102.5 566.8h.01M111.3 572.4h.01M113.1 554.0h.01M109.1 562.2h.01M107.4 570.4h.01M111.7 548.5h.01M107.4 557.2h.01M107.2 561.7h.01M112.8 549.4h.01M103.8 559.7h.01M107.8 558.1h.01M105.7 561.4h.01M109.4 561.0h.01M110.7 547.0h.01M101.0 547.2h.01M112.2 543.3h.01M107.4 560.6h.01M107.5 555.3h.01M102.7 567.1h.01M107.1 561.1h.01M103.9 562.2h.01M109.7 561.9h.01M107.4 551.4h.01M108.3 553.9h.01M99.5 566.5h.01M108.5 544.5h.01M99.5 574.8h.01M108.5 550.5h.01M100.8 565.6h.01M106.7 563.0h.01M104.2 564.6h.01M109.6 566.2h.01M108.5 549.9h.01M103.8 573.7h.01M110.7 551.7h.01M103.6 571.4h.01M102.8 564.3h.01M106.0 574.9h.01M104.9 545.9h.01M105.5 566.9h.01M104.8 560.5h.01M101.9 570.0h.01M98.4 561.0h.01M103.4 554.5h.01M103.2 552.5h.01M105.8 561.2h.01M112.0 560.9h.01M106.2 564.1h.01M103.4 572.7h.01M106.0 562.3h.01M105.5 560.9h.01M103.5 568.8h.01M105.8 561.6h.01M104.0 566.9h.01M102.3 568.0h.01M102.6 565.9h.01M111.4 564.5h.01M108.3 551.6h.01M108.2 561.8h.01M110.2 556.7h.01M103.5 575.7h.01M107.9 558.8h.01M101.8 559.8h.01M106.6 566.3h.01M104.7 551.9h.01M105.1 552.1h.01M104.4 562.8h.01M111.5 564.3h.01M114.2 549.3h.01M108.9 568.7h.01M105.4 567.9h.01M103.5 576.6h.01M112.3 548.0h.01M96.8 572.1h.01M102.7 571.3h.01M106.3 555.5h.01M104.1 563.2h.01M107.9 556.3h.01M106.2 566.3h.01M105.5 551.4h.01M100.4 556.8h.01M107.5 555.5h.01M104.3 559.4h.01M104.7 565.5h.01M107.5 565.2h.01M111.6 554.4h.01M107.0 564.5h.01M104.2 554.7h.01M107.1 562.0h.01M103.2 555.5h.01M108.8 569.0h.01M103.1 571.7h.01M103.4 558.8h.01M109.7 559.2h.01M101.1 564.6h.01M116.7 542.4h.01M109.2 551.3h.01M108.2 549.6h.01M115.6 558.0h.01M107.6 555.5h.01M103.8 556.5h.01M102.6 575.0h.01M103.3 573.6h.01M102.4 560.6h.01M108.1 548.3h.01M118.1 562.4h.01M108.4 555.3h.01M106.4 552.3h.01M110.0 558.7h.01M105.0 562.3h.01M101.5 561.7h.01M104.4 564.4h.01M104.6 561.0h.01M105.3 569.1h.01M101.5 568.0h.01M103.2 558.6h.01M106.0 562.3h.01M100.3 551.0h.01M103.2 568.1h.01M100.3 572.3h.01M100.1 560.0h.01M107.6 561.6h.01M104.6 568.6h.01M102.0 564.9h.01M109.8 560.1h.01M101.3 549.5h.01M105.6 551.9h.01M109.1 555.0h.01M112.4 567.7h.01M102.5 557.6h.01M109.2 567.7h.01M100.4 568.2h.01M99.4 578.0h.01M102.8 565.2h.01M108.7 558.0h.01M102.8 570.0h.01M107.6 561.0h.01M103.3 575.2h.01M107.7 565.6h.01M110.5 549.0h.01M107.4 557.3h.01M109.6 556.9h.01M109.7 553.1h.01M110.4 556.1h.01M104.5 565.5h.01M104.9 560.8h.01M105.2 575.9h.01M102.3 552.3h.01M105.9 569.0h.01M104.2 561.3h.01M100.1 578.8h.01M108.0 551.4h.01M103.9 549.5h.01M110.9 559.1h.01M110.6 567.8h.01M105.6 566.4h.01M106.3 569.0h.01M104.1 555.7h.01M103.9 561.3h.01M107.9 551.1h.01M99.7 574.5h.01M114.5 556.2h.01M107.2 561.1h.01M101.6 565.9h.01M101.9 574.1h.01M108.0 559.0h.01M97.8 557.8h.01M110.2 556.1h.01M107.1 567.2h.01M100.8 557.9h.01M105.2 567.2h.01M106.4 561.0h.01M105.5 558.4h.01M108.3 552.6h.01M108.6 559.0h.01M108.7 557.5h.01M106.9 562.4h.01M107.6 565.4h.01M109.2 560.5h.01M106.3 558.9h.01M102.3 558.9h.01M107.6 568.0h.01M102.6 562.6h.01M111.3 551.0h.01M106.2 563.9h.01M107.7 563.7h.01M105.0 543.6h.01M113.0 559.7h.01M107.0 572.1h.01M108.8 552.1h.01M110.3 561.9h.01M106.4 565.2h.01M106.6 569.8h.01M104.6 548.6h.01M106.3 561.2h.01M108.6 560.6h.01M100.8 576.8h.01M107.6 571.4h.01M110.9 555.7h.01M105.8 560.4h.01M104.4 553.2h.01M109.1 551.6h.01M106.5 565.2h.01M105.9 558.1h.01M106.7 565.3h.01M109.8 551.7h.01M96.2 575.6h.01M104.7 557.5h.01M102.0 553.1h.01M101.8 566.6h.01M100.8 547.6h.01M105.7 556.8h.01M104.5 556.8h.01M100.4 561.7h.01M109.3 563.3h.01M101.4 570.4h.01M109.7 553.4h.01M105.5 555.7h.01M103.0 570.5h.01M104.0 559.2h.01M108.9 551.8h.01M103.0 565.4h.01M113.7 547.3h.01M108.8 559.4h.01M108.5 567.0h.01M111.4 565.2h.01M106.5 554.1h.01M100.2 564.1h.01M105.7 567.9h.01M110.4 549.6h.01M105.2 558.7h.01M104.7 567.2h.01M109.7 564.5h.01M101.7 551.1h.01M100.9 553.1h.01M101.6 561.8h.01M102.7 569.5h.01M110.3 558.4h.01M108.8 562.0h.01M104.3 572.0h.01M102.5 559.4h.01M112.4 556.4h.01M106.3 562.2h.01M107.5 550.4h.01M106.0 552.7h.01M108.7 563.9h.01M110.8 552.3h.01M107.1 562.6h.01M110.8 556.3h.01M105.4 572.5h.01M113.6 555.3h.01M105.7 548.5h.01M107.6 566.5h.01M108.9 554.5h.01M106.2 574.7h.01M106.1 560.0h.01M108.5 566.0h.01M111.0 559.1h.01M107.7 558.7h.01M104.8 558.2h.01M103.9 564.7h.01M104.8 561.3h.01M106.1 550.7h.01M112.6 554.6h.01M109.5 570.0h.01M100.2 554.0h.01M104.5 560.8h.01M106.7 556.1h.01M110.1 561.1h.01M110.5 556.5h.01M100.8 570.8h.01M107.5 552.2h.01M103.0 569.1h.01M107.0 555.3h.01M105.7 569.3h.01M106.0 558.3h.01M98.7 581.8h.01M101.4 574.5h.01M104.5 564.0h.01M99.1 560.6h.01M106.8 558.6h.01M107.7 550.0h.01M100.9 561.0h.01M104.1 559.7h.01M106.5 556.9h.01M99.5 574.8h.01M103.6 556.0h.01M107.6 551.7h.01M101.0 566.9h.01M108.5 562.9h.01M114.2 570.4h.01M111.6 555.8h.01M105.5 575.1h.01M100.7 574.8h.01M105.9 551.4h.01M107.6 554.7h.01M110.4 553.0h.01M110.5 545.8h.01M103.5 569.2h.01M104.4 563.2h.01M111.8 553.4h.01M101.7 560.5h.01M107.4 559.2h.01M100.2 569.6h.01M102.8 557.9h.01M104.2 566.6h.01M106.3 554.2h.01M114.1 556.2h.01M108.8 560.5h.01M104.5 560.2h.01M104.4 563.2h.01M98.0 558.5h.01M108.3 553.5h.01M99.5 578.9h.01M110.3 567.7h.01M107.3 558.8h.01M111.3 558.8h.01M101.8 565.7h.01M104.7 554.0h.01M114.0 549.8h.01M105.4 561.9h.01M110.0 549.9h.01M105.9 558.2h.01M109.7 570.6h.01M101.6 567.1h.01M108.2 560.7h.01M105.8 558.7h.01M102.5 554.7h.01M105.6 573.1h.01M112.6 559.7h.01M113.2 542.8h.01M107.9 550.9h.01M112.2 548.8h.01M105.1 551.5h.01M105.3 567.9h.01M99.0 574.2h.01M108.3 554.7h.01M107.0 561.2h.01M107.7 564.4h.01M110.2 572.1h.01M102.2 566.6h.01M110.5 553.9h.01M105.4 554.1h.01M96.8 563.7h.01M102.5 570.4h.01M104.0 561.1h.01M106.0 569.2h.01M109.2 553.2h.01M110.9 569.7h.01M106.6 574.8h.01M109.4 565.5h.01M106.0 566.4h.01M99.4 566.0h.01M101.9 563.4h.01M101.2 565.7h.01M98.8 579.9h.01M105.4 565.1h.01M103.7 558.0h.01M106.4 558.7h.01M106.5 553.8h.01M109.2 558.7h.01M102.6 563.1h.01M103.8 558.9h.01M106.4 553.4h.01M107.0 554.4h.01M101.2 562.6h.01M108.3 549.4h.01M104.3 562.1h.01M106.4 564.3h.01M105.4 565.9h.01M106.2 554.4h.01M108.8 558.4h.01M104.5 566.1h.01M106.1 571.4h.01M104.6 557.5h.01M110.9 550.4h.01M100.6 564.6h.01M106.1 553.3h.01M107.2 565.9h.01M109.5 559.3h.01M105.8 558.1h.01M111.4 545.5h.01M102.2 565.9h.01M103.6 559.8h.01M105.2 565.2h.01M107.0 551.8h.01M115.3 557.7h.01M115.2 548.9h.01M106.7 559.6h.01M107.3 578.5h.01M111.2 554.0h.01M105.1 554.5h.01M103.7 562.6h.01M104.0 558.4h.01M107.3 573.5h.01M102.2 552.0h.01M101.9 570.7h.01M100.6 575.5h.01M103.9 572.5h.01M103.9 557.8h.01M107.8 566.4h.01M100.7 557.2h.01M105.1 566.1h.01M100.1 573.9h.01M103.2 572.4h.01M107.0 562.0h.01M107.5 551.7h.01M106.9 567.7h.01M109.7 558.9h.01M103.6 557.2h.01M105.0 560.6h.01M111.0 554.8h.01M102.9 565.9h.01M103.8 579.0h.01M109.4 554.9h.01M104.4 554.0h.01M105.6 563.0h.01M107.1 556.2h.01M105.5 560.3h.01M107.6 562.2h.01M106.0 551.3h.01M110.7 561.7h.01M105.4 560.7h.01M110.1 559.6h.01M107.0 559.3h.01M110.0 553.7h.01M104.3 569.2h.01M108.3 566.9h.01M103.4 573.4h.01M105.0 572.5h.01M104.6 551.5h.01M109.0 559.7h.01M106.7 553.3h.01M113.2 553.1h.01M109.4 550.3h.01M100.4 578.2h.01M114.6 559.4h.01M99.2 572.7h.01M107.2 546.5h.01M109.4 553.0h.01M98.9 568.4h.01M106.0 552.2h.01M106.9 559.7h.01M109.2 562.8h.01M108.4 571.2h.01M109.0 571.3h.01M105.0 565.3h.01M109.5 549.0h.01M100.6 565.7h.01M100.4 552.5h.01M102.1 559.4h.01M102.2 562.0h.01M106.4 557.2h.01M108.2 543.1h.01M109.0 551.1h.01M104.2 563.6h.01M107.6 567.4h.01M113.7 551.4h.01M104.6 573.7h.01M109.6 552.8h.01M108.3 557.4h.01M101.6 568.7h.01M107.9 552.2h.01M99.5 575.6h.01M101.8 565.5h.01M103.9 570.2h.01M107.2 553.5h.01M106.2 552.5h.01M113.6 564.8h.01M102.2 570.5h.01M108.4 560.2h.01M107.3 563.7h.01M105.8 574.8h.01M105.0 560.5h.01M102.7 570.3h.01M105.4 567.4h.01M110.1 556.9h.01M103.3 571.8h.01M107.0 568.1h.01M105.9 558.0h.01M103.9 558.2h.01M108.9 549.9h.01M111.2 556.2h.01M105.4 565.9h.01M108.2 546.6h.01" stroke="#000" stroke-opacity="0.5" stroke-width="0.9" stroke-linecap="round" fill="none"/>
<ellipse cx="105.90" cy="561.00" rx="6.40" ry="14.00" fill="url(#g1)" opacity="0.6" transform="rotate(16 105.90 561.00)"/>
<path d="M99.7 583.5h.01M96.0 585.1h.01M102.5 578.3h.01M102.6 574.3h.01M95.4 586.1h.01M95.7 583.3h.01M97.0 578.4h.01M96.8 588.4h.01M98.0 584.3h.01M107.1 573.5h.01M91.9 586.5h.01M101.8 585.7h.01M98.5 582.1h.01M100.3 578.7h.01M99.2 580.5h.01M98.6 584.2h.01M99.3 584.2h.01M94.3 585.3h.01M94.2 578.9h.01M100.6 579.4h.01M104.5 578.7h.01M98.0 578.0h.01M97.9 584.4h.01M97.7 583.7h.01M99.1 578.1h.01M102.1 576.1h.01M100.1 579.7h.01M102.3 577.9h.01M99.3 578.4h.01M100.5 576.9h.01M101.4 575.7h.01M98.4 584.1h.01M99.3 580.3h.01M99.5 576.5h.01M100.5 577.4h.01M96.6 580.5h.01M99.8 579.5h.01M97.7 580.0h.01M98.7 578.7h.01M97.7 583.9h.01M101.5 579.5h.01M103.5 577.8h.01M95.8 585.8h.01M102.6 583.8h.01M99.1 579.3h.01" stroke="#000" stroke-opacity="0.4" stroke-width="0.9" stroke-linecap="round" fill="none"/>
<line x1="49.00" y1="657.50" x2="85.00" y2="657.50" stroke="#a4a4a4" stroke-width="1"/>
<line x1="84.50" y1="657.00" x2="84.50" y2="729.00" stroke="#7a7a7a" stroke-width="1"/>
<line x1="49.00" y1="728.50" x2="85.00" y2="728.50" stroke="#a4a4a4" stroke-width="1"/>
<line x1="84.50" y1="728.50" x2="122.50" y2="728.50" stroke="#d6d6d6" stroke-width="1" stroke-dasharray="1.3 1.5"/>
<line x1="71.50" y1="657.00" x2="71.50" y2="729.00" stroke="#1e1e1e" stroke-width="1.1"/>
<line x1="51.50" y1="708.50" x2="121.20" y2="708.50" stroke="#4a4a4a" stroke-width="1.2"/>
<text x="44.00" y="698.00" font-size="10.7" text-anchor="middle" font-weight="normal" fill="#1c1c1c" transform="rotate(-90 44.00 698.00)" stroke="#1c1c1c" stroke-width="0.28">IE62/A2 tet</text>
<text x="80.30" y="745.30" font-size="10.4" text-anchor="middle" font-weight="normal" fill="#1c1c1c" stroke="#1c1c1c" stroke-width="0.28">FL1</text>
<text x="62.20" y="668.00" font-size="9.4" text-anchor="middle" font-weight="normal" fill="#1c1c1c" stroke="#1c1c1c" stroke-width="0.28">99%</text>
<path d="M51.2 681.5h.01M52.3 679.4h.01M54.7 679.3h.01M55.4 684.9h.01M53.9 680.0h.01M52.2 675.1h.01M53.3 681.1h.01M53.5 679.7h.01M53.6 676.8h.01M49.7 683.7h.01M54.5 671.1h.01M54.8 680.8h.01M52.7 676.7h.01M51.5 684.5h.01M51.9 681.9h.01M52.7 688.9h.01M54.2 677.4h.01M52.2 678.0h.01M50.9 679.6h.01M54.5 682.2h.01M53.9 681.5h.01M52.3 682.3h.01M52.8 688.7h.01M55.5 683.3h.01M53.8 675.1h.01M52.7 690.3h.01M51.8 684.8h.01M54.7 680.6h.01M52.6 680.4h.01M54.1 682.1h.01M55.1 686.1h.01M52.9 691.1h.01M52.5 679.9h.01M52.6 678.9h.01M52.3 681.8h.01M54.2 676.5h.01M50.9 679.3h.01M52.5 683.6h.01M51.8 687.3h.01M52.2 681.3h.01M53.0 686.1h.01M53.4 682.1h.01M52.1 682.6h.01M53.5 680.8h.01M52.9 675.6h.01M52.2 686.1h.01M55.0 681.8h.01M49.8 688.4h.01M52.7 691.0h.01M52.3 685.5h.01M52.0 686.8h.01M54.6 678.3h.01M54.8 692.0h.01M52.6 677.8h.01M53.3 680.6h.01M50.8 678.3h.01M53.3 676.7h.01M54.5 683.6h.01M52.7 686.9h.01M51.6 684.4h.01M51.0 680.9h.01M53.8 680.1h.01M52.8 684.3h.01M55.1 686.5h.01M53.6 681.1h.01M50.8 688.0h.01M55.6 674.5h.01M54.2 681.9h.01M53.9 683.1h.01M52.6 682.0h.01M52.9 686.1h.01M52.5 680.1h.01M53.9 684.3h.01M53.5 683.0h.01M55.0 685.9h.01M53.2 681.3h.01M53.9 675.5h.01M52.2 679.5h.01M53.2 680.7h.01M56.5 684.6h.01M53.5 689.9h.01M52.9 680.9h.01M54.7 684.9h.01M54.3 686.2h.01M52.4 679.7h.01M51.9 682.4h.01M54.4 678.3h.01M52.1 677.3h.01M55.8 684.8h.01M53.2 677.7h.01M51.4 679.7h.01M53.0 677.6h.01M52.6 686.3h.01M52.9 682.3h.01M49.9 681.1h.01M52.7 679.6h.01M50.9 681.8h.01M51.4 680.1h.01M50.6 681.7h.01M54.2 679.1h.01M53.4 676.7h.01M53.7 683.9h.01M52.4 685.1h.01M51.6 682.2h.01M55.3 681.9h.01M51.3 686.0h.01M53.7 681.0h.01M50.3 675.4h.01M50.7 687.2h.01M53.3 679.0h.01M54.6 687.1h.01M51.7 683.7h.01M50.5 683.3h.01M55.5 677.0h.01M53.0 679.8h.01M52.8 682.3h.01M53.3 685.1h.01M53.7 685.7h.01M54.4 685.9h.01M51.9 683.4h.01M52.4 679.0h.01M55.7 683.0h.01M53.0 674.6h.01M52.6 684.7h.01M52.6 680.1h.01M55.0 680.9h.01M52.4 681.6h.01M52.6 685.7h.01M53.7 681.8h.01M52.4 681.2h.01M55.3 680.9h.01M53.9 676.5h.01M53.4 684.4h.01M54.7 683.1h.01M53.7 683.1h.01M54.4 689.2h.01M53.2 679.1h.01M53.8 681.6h.01M53.8 684.7h.01M53.1 680.5h.01M53.4 677.6h.01M53.3 678.9h.01M53.6 682.4h.01M52.6 677.8h.01M53.0 679.6h.01M52.7 684.4h.01M54.3 677.5h.01M54.3 686.8h.01M54.5 683.0h.01M52.8 688.1h.01M52.5 676.6h.01M53.0 683.0h.01M51.4 677.7h.01M55.8 682.4h.01M54.0 680.0h.01M50.7 681.4h.01M54.8 679.7h.01M50.3 681.4h.01M52.5 682.1h.01M51.4 680.9h.01M52.1 685.1h.01M53.1 685.1h.01M52.8 674.5h.01M50.1 683.9h.01M54.2 685.1h.01M52.8 675.7h.01M52.2 683.4h.01M54.9 680.8h.01M52.1 679.3h.01M54.4 685.1h.01" stroke="#000" stroke-opacity="0.5" stroke-width="0.9" stroke-linecap="round" fill="none"/>
<ellipse cx="52.90" cy="682.00" rx="3.20" ry="6.80" fill="url(#g1)" opacity="0.35" transform="rotate(0 52.90 682.00)"/>
<path d="M89.1 685.5h.01M90.4 676.0h.01M89.4 678.6h.01M95.0 690.2h.01M89.9 678.8h.01M91.9 682.7h.01M91.0 675.6h.01M91.1 678.8h.01M89.1 681.7h.01M89.6 675.1h.01M93.9 684.5h.01M93.8 681.6h.01M91.1 680.9h.01M89.8 683.8h.01M92.1 680.1h.01M89.0 680.8h.01M94.1 686.3h.01M93.0 680.0h.01M91.9 683.2h.01M92.0 684.9h.01M90.8 673.0h.01M88.2 678.0h.01M89.7 683.5h.01M93.3 681.2h.01M92.5 681.5h.01M92.0 679.5h.01M91.1 685.4h.01M91.3 681.1h.01M93.4 684.7h.01M91.2 682.1h.01M90.3 681.7h.01M92.2 681.2h.01M92.0 682.5h.01M88.1 678.3h.01M91.8 679.5h.01M90.3 680.4h.01M94.0 680.4h.01M90.8 679.5h.01M90.0 682.9h.01M90.3 684.4h.01M93.0 683.2h.01M93.2 680.9h.01M89.2 681.0h.01M92.6 675.8h.01M90.0 685.1h.01M92.3 685.9h.01M92.7 681.4h.01M92.3 684.2h.01M91.7 680.5h.01M92.2 680.1h.01M95.2 678.5h.01M89.5 676.7h.01M93.2 679.8h.01M91.9 680.4h.01M92.1 676.1h.01M91.8 679.2h.01M93.3 683.4h.01M89.9 677.8h.01M92.5 685.4h.01M92.8 680.7h.01M93.3 672.9h.01M90.9 677.8h.01M90.2 683.2h.01M92.1 682.2h.01M91.5 683.4h.01M92.8 679.2h.01M93.1 677.9h.01M94.3 676.6h.01M91.3 677.4h.01M91.8 685.8h.01M90.6 687.5h.01M93.8 682.6h.01M90.9 684.4h.01M87.6 678.5h.01M93.1 681.1h.01M95.3 678.8h.01M89.8 680.4h.01M92.6 687.2h.01M89.2 681.8h.01M93.5 678.8h.01M91.1 676.9h.01M92.8 684.1h.01M92.6 682.1h.01M93.2 680.8h.01M92.8 684.1h.01M93.6 683.0h.01M91.8 683.7h.01M89.5 675.0h.01M94.1 681.7h.01M90.2 679.1h.01M91.5 681.5h.01M90.6 684.7h.01M89.2 691.1h.01M90.1 687.1h.01M92.7 675.3h.01M89.9 681.4h.01M92.1 679.7h.01M91.7 681.8h.01M90.1 681.4h.01M95.0 678.9h.01M90.2 683.5h.01M93.7 684.9h.01M90.8 680.9h.01M92.0 680.5h.01M92.3 685.0h.01M92.5 681.2h.01M91.4 687.5h.01M89.9 688.3h.01M92.8 681.5h.01M90.6 687.7h.01M93.5 684.4h.01M94.8 674.8h.01M91.9 680.1h.01M90.7 681.5h.01M92.5 683.1h.01M91.5 676.5h.01M92.5 683.4h.01M94.8 684.5h.01M91.7 677.1h.01M95.7 678.8h.01M92.0 683.9h.01M92.5 685.9h.01M90.2 678.8h.01M92.0 676.8h.01M90.8 686.1h.01M92.2 680.8h.01M90.9 681.4h.01M91.7 677.4h.01M92.9 676.7h.01M93.6 680.0h.01M88.4 675.7h.01M92.1 678.1h.01M94.4 686.1h.01M94.8 684.4h.01M93.7 679.0h.01M93.6 679.6h.01M91.6 676.4h.01M91.8 682.6h.01M91.6 677.3h.01M93.1 684.5h.01M91.6 684.0h.01M93.2 677.7h.01M91.7 674.6h.01M90.2 682.7h.01M90.4 682.6h.01M92.3 673.8h.01M91.0 686.6h.01M91.7 681.6h.01M90.7 675.5h.01M89.4 691.5h.01M91.4 678.1h.01M91.9 674.3h.01M93.8 687.3h.01M90.6 682.4h.01M90.4 684.3h.01M90.5 680.7h.01M93.7 683.1h.01M91.2 675.8h.01M89.3 685.5h.01M92.5 681.4h.01M93.6 681.7h.01M90.6 680.8h.01M91.6 681.2h.01M95.4 683.3h.01M92.1 680.3h.01M90.7 677.6h.01M88.9 679.6h.01M89.4 674.6h.01M90.3 673.9h.01M93.8 685.7h.01" stroke="#000" stroke-opacity="0.5" stroke-width="0.9" stroke-linecap="round" fill="none"/>
<ellipse cx="91.70" cy="681.20" rx="3.20" ry="6.80" fill="url(#g1)" opacity="0.35" transform="rotate(0 91.70 681.20)"/>
<line x1="50.50" y1="800.00" x2="50.50" y2="871.00" stroke="#d6d6d6" stroke-width="1"/>
<line x1="50.00" y1="800.50" x2="85.00" y2="800.50" stroke="#d6d6d6" stroke-width="1"/>
<line x1="84.50" y1="800.00" x2="84.50" y2="871.00" stroke="#3a3a3a" stroke-width="1"/>
<line x1="50.00" y1="870.50" x2="85.00" y2="870.50" stroke="#a4a4a4" stroke-width="1"/>
<line x1="88.50" y1="800.00" x2="88.50" y2="871.00" stroke="#7a7a7a" stroke-width="1"/>
<line x1="123.50" y1="800.00" x2="123.50" y2="871.00" stroke="#d6d6d6" stroke-width="1"/>
<line x1="88.50" y1="870.50" x2="123.50" y2="870.50" stroke="#d6d6d6" stroke-width="1" stroke-dasharray="1.3 1.5"/>
<line x1="69.50" y1="800.00" x2="69.50" y2="871.00" stroke="#1e1e1e" stroke-width="1.1"/>
<line x1="52.40" y1="852.50" x2="123.00" y2="852.50" stroke="#4a4a4a" stroke-width="1.2"/>
<text x="43.90" y="834.20" font-size="10.7" text-anchor="middle" font-weight="normal" fill="#1c1c1c" transform="rotate(-90 43.90 834.20)" stroke="#1c1c1c" stroke-width="0.28">EBNA3A/B8 tet</text>
<text x="79.00" y="886.30" font-size="10.4" text-anchor="middle" font-weight="normal" fill="#1c1c1c" stroke="#1c1c1c" stroke-width="0.28">CD8</text>
<text x="110.00" y="812.30" font-size="9.4" text-anchor="middle" font-weight="normal" fill="#1c1c1c" stroke="#1c1c1c" stroke-width="0.28">99%</text>
<path d="M65.1 822.2h.01M67.9 810.4h.01M66.7 814.4h.01M61.6 817.3h.01M71.0 817.1h.01M62.2 816.2h.01M65.3 820.0h.01M66.3 814.6h.01M63.3 812.8h.01M64.9 819.5h.01M61.2 818.5h.01M67.2 818.8h.01M64.0 819.7h.01M73.1 821.1h.01M62.0 817.8h.01M66.5 817.2h.01M64.5 819.5h.01M75.2 818.8h.01M63.8 816.1h.01M69.5 816.6h.01M65.4 820.2h.01M69.3 818.9h.01M67.2 819.9h.01M65.1 814.5h.01M66.4 813.5h.01M71.4 817.7h.01M61.9 818.3h.01M69.6 815.4h.01M68.1 815.1h.01M66.9 816.6h.01M68.2 814.2h.01M63.7 818.3h.01M65.8 818.4h.01M64.9 814.0h.01M69.6 816.9h.01M69.3 815.5h.01M66.6 820.0h.01M62.7 822.0h.01M68.7 816.3h.01M67.7 818.2h.01M64.8 818.0h.01M63.2 813.1h.01M67.8 816.9h.01M69.4 817.7h.01M69.7 818.2h.01M64.4 820.4h.01M75.3 813.7h.01M63.5 819.3h.01M70.5 818.6h.01M71.3 812.5h.01M68.5 817.6h.01M70.6 813.9h.01M67.0 815.9h.01M66.5 816.6h.01M65.8 812.7h.01M67.0 817.0h.01M64.1 808.7h.01M64.6 815.7h.01M65.2 821.2h.01M69.9 815.7h.01M70.7 824.2h.01M64.3 818.6h.01M66.0 820.7h.01M70.5 815.8h.01M68.6 814.5h.01M62.5 819.8h.01M72.1 815.0h.01M64.6 812.9h.01M73.3 812.5h.01M64.0 817.0h.01M71.0 816.1h.01M67.1 816.9h.01M69.8 816.1h.01M67.6 816.5h.01M64.3 820.7h.01M64.3 814.2h.01M65.8 817.2h.01M69.0 812.8h.01M63.2 818.1h.01M67.8 814.0h.01M63.6 818.0h.01M65.8 813.1h.01M65.1 820.9h.01M64.3 820.0h.01M63.0 821.3h.01M71.8 814.2h.01M65.3 818.7h.01M63.5 818.9h.01M71.1 816.6h.01M68.0 816.2h.01M69.9 814.2h.01M72.1 815.7h.01M65.3 813.2h.01M65.8 817.7h.01M70.2 812.2h.01M66.4 815.3h.01M63.3 817.6h.01M65.2 819.4h.01M59.0 820.3h.01M60.1 813.5h.01M68.6 815.7h.01M67.0 814.4h.01M63.4 815.8h.01M66.5 814.9h.01M65.4 815.1h.01M67.3 814.0h.01M59.2 812.0h.01M67.1 817.0h.01M69.8 814.4h.01M62.8 814.0h.01M69.2 814.8h.01M70.2 816.0h.01M65.3 812.6h.01M65.4 819.1h.01M65.5 818.8h.01M62.4 820.3h.01M76.4 817.6h.01M67.5 813.7h.01M65.1 815.6h.01M66.7 811.9h.01M64.8 819.2h.01M67.9 818.5h.01M69.2 813.5h.01M63.1 818.8h.01M67.2 817.0h.01M65.1 819.7h.01M69.2 819.2h.01M66.3 818.7h.01M66.4 814.6h.01M66.0 813.0h.01M66.6 817.3h.01M68.8 813.9h.01M62.6 816.0h.01M60.3 816.6h.01M75.4 815.4h.01M64.4 815.7h.01M72.1 812.9h.01M66.7 816.7h.01M64.4 815.6h.01M61.4 815.9h.01M71.9 819.3h.01M66.6 818.6h.01M68.6 816.8h.01M67.3 819.8h.01M68.8 815.9h.01M66.8 819.2h.01M64.9 815.5h.01M66.0 815.8h.01M71.2 816.8h.01M66.6 815.6h.01M71.8 816.9h.01M74.1 817.6h.01M66.2 815.7h.01M66.3 817.4h.01M69.8 817.4h.01M71.3 812.2h.01M66.5 813.4h.01M63.6 816.1h.01M64.6 815.0h.01M62.9 820.5h.01M66.6 819.3h.01M62.5 812.1h.01M65.7 819.3h.01M65.5 818.1h.01M64.4 820.8h.01M69.0 819.0h.01M66.9 820.0h.01M67.1 815.6h.01M65.1 817.4h.01M63.6 814.6h.01M67.9 818.4h.01M66.6 819.0h.01M71.4 812.8h.01M67.4 814.4h.01M65.2 817.6h.01M60.0 819.8h.01M70.0 817.5h.01M70.0 820.6h.01M66.5 819.6h.01M71.9 817.0h.01M61.4 817.6h.01M65.4 813.2h.01M67.3 818.6h.01M66.2 816.5h.01M71.4 814.4h.01M64.2 817.5h.01M70.9 817.4h.01M67.1 815.6h.01M71.4 818.1h.01M61.8 818.7h.01M60.3 821.9h.01M68.7 814.9h.01M62.9 817.0h.01M61.9 819.3h.01M64.6 813.0h.01M67.6 819.6h.01M62.9 816.8h.01M72.9 816.0h.01M65.4 817.6h.01M69.0 813.9h.01M66.0 813.0h.01M61.4 814.2h.01M69.9 817.0h.01M70.0 819.2h.01M67.4 817.3h.01M68.6 817.6h.01M63.6 816.9h.01M66.6 817.0h.01M64.7 817.0h.01M68.1 817.0h.01M69.4 818.3h.01M69.3 818.7h.01M70.4 819.5h.01M68.8 814.9h.01M75.0 817.9h.01M71.4 817.7h.01M66.7 814.1h.01M68.3 815.7h.01M64.8 812.0h.01M71.4 813.0h.01M63.9 818.6h.01M68.5 814.6h.01M67.2 817.4h.01M67.9 817.9h.01M69.3 815.4h.01M63.1 823.0h.01M65.4 814.7h.01M69.7 817.7h.01M66.3 822.7h.01M60.4 821.4h.01M67.1 817.6h.01M68.0 816.0h.01M67.4 813.5h.01M66.8 821.4h.01M59.6 821.4h.01M59.7 816.3h.01M69.7 815.3h.01M64.5 813.7h.01M66.6 816.5h.01M64.3 813.5h.01M67.8 817.7h.01M70.9 817.2h.01M72.5 818.6h.01M59.1 822.6h.01M66.2 814.4h.01M68.9 818.8h.01M61.6 814.9h.01M69.0 815.0h.01M71.8 816.3h.01M64.7 814.0h.01M68.1 812.3h.01M62.3 814.6h.01M73.3 819.7h.01M66.2 816.0h.01M69.9 819.3h.01M65.7 822.5h.01M67.0 819.6h.01M59.6 818.3h.01M65.9 821.9h.01M65.8 813.9h.01" stroke="#000" stroke-opacity="0.5" stroke-width="0.9" stroke-linecap="round" fill="none"/>
<ellipse cx="67.10" cy="816.80" rx="6.40" ry="4.80" fill="url(#g1)" opacity="0.5" transform="rotate(-12 67.10 816.80)"/>
<path d="M112.3 814.3h.01M105.9 814.3h.01M108.7 817.2h.01M105.4 816.4h.01M104.3 815.9h.01M102.7 821.0h.01M108.6 813.3h.01M103.0 818.9h.01M113.5 815.2h.01M105.4 816.8h.01M107.2 816.6h.01M110.4 818.8h.01M109.0 820.5h.01M105.5 816.1h.01M114.9 810.7h.01M100.4 812.7h.01M107.1 814.4h.01M108.8 811.5h.01M105.9 816.4h.01M103.7 820.6h.01M105.5 818.5h.01M104.9 817.9h.01M105.1 817.7h.01M105.8 815.7h.01M107.8 816.5h.01M102.9 815.4h.01M108.6 820.0h.01M102.2 817.1h.01M108.4 819.4h.01M108.1 813.9h.01M107.1 819.3h.01M107.1 816.5h.01M102.9 818.4h.01M106.3 817.3h.01M111.8 819.0h.01M104.1 818.3h.01M105.6 817.6h.01M112.1 818.3h.01M106.3 815.6h.01M106.2 818.2h.01M105.5 820.1h.01M106.0 814.4h.01M111.5 809.0h.01M105.6 817.1h.01M110.2 819.2h.01M111.9 819.9h.01M107.6 817.3h.01M109.7 816.5h.01M102.3 817.0h.01M108.9 818.2h.01M103.6 820.8h.01M106.7 813.5h.01M108.5 819.3h.01M108.0 816.1h.01M104.5 820.4h.01M107.2 817.0h.01M104.7 815.0h.01M100.4 817.6h.01M110.4 818.3h.01M105.1 821.3h.01M105.3 815.0h.01M110.3 819.8h.01M104.7 814.6h.01M105.1 811.5h.01M107.4 820.8h.01M107.0 815.3h.01M108.5 815.6h.01M110.3 815.5h.01M112.7 815.0h.01M106.6 814.9h.01M102.7 818.9h.01M107.1 814.7h.01M108.1 815.9h.01M104.7 817.4h.01M108.1 818.6h.01M110.6 817.3h.01M103.9 816.1h.01M107.1 814.1h.01M105.8 816.4h.01M106.3 817.7h.01M110.6 820.4h.01M109.8 819.0h.01M103.7 820.4h.01M109.9 813.1h.01M114.2 814.2h.01M99.9 822.9h.01M106.3 815.3h.01M105.2 820.1h.01M107.1 816.1h.01M109.6 814.2h.01M103.5 816.4h.01M104.5 819.3h.01M105.2 814.9h.01M104.1 812.8h.01M107.1 817.3h.01M108.3 816.2h.01M107.3 814.7h.01M106.7 817.5h.01M103.0 819.4h.01M107.0 817.2h.01M106.0 822.2h.01M106.1 815.4h.01M104.1 819.2h.01M105.4 815.5h.01M104.7 819.9h.01M107.3 819.6h.01M105.9 814.4h.01M109.4 817.4h.01M104.3 816.9h.01M103.9 819.8h.01M105.4 818.6h.01M107.2 816.4h.01M107.5 816.4h.01M102.6 817.0h.01M103.2 819.8h.01M108.2 815.4h.01M108.6 817.4h.01M109.1 814.4h.01M106.1 814.9h.01M105.0 820.9h.01M99.7 816.4h.01M108.4 818.7h.01M103.0 813.0h.01M101.3 819.2h.01M110.4 818.6h.01M104.9 820.9h.01M106.2 818.8h.01M106.7 821.1h.01M103.8 812.5h.01M105.6 817.9h.01M107.0 815.3h.01M105.2 814.7h.01M105.8 817.6h.01M108.1 820.9h.01M100.5 819.7h.01M107.3 814.2h.01M106.7 817.1h.01M103.7 819.6h.01M112.8 817.5h.01M109.5 819.2h.01M106.6 819.6h.01M104.1 818.2h.01M109.4 819.8h.01M105.5 816.7h.01M107.9 816.7h.01M107.3 819.0h.01M104.5 819.8h.01M107.6 816.3h.01M102.3 816.6h.01M106.8 819.4h.01M100.7 820.2h.01M106.5 814.4h.01M109.4 817.6h.01M107.4 814.6h.01M103.5 820.1h.01M111.1 817.1h.01M105.7 816.3h.01M101.6 820.6h.01M106.8 820.1h.01M104.8 820.1h.01M104.6 819.0h.01M110.4 814.6h.01M109.3 816.6h.01M103.7 818.3h.01M108.2 815.1h.01M105.4 816.1h.01M104.0 817.2h.01M108.8 815.5h.01M110.2 815.5h.01M104.9 820.2h.01M110.5 814.8h.01M107.7 814.1h.01M105.0 816.6h.01M108.1 813.8h.01M104.6 815.9h.01M106.2 814.3h.01M103.7 824.7h.01M106.4 813.6h.01M108.4 813.6h.01M101.5 822.3h.01M110.0 814.4h.01M103.4 819.0h.01M113.1 817.3h.01M108.0 814.0h.01M101.2 819.3h.01M109.7 816.9h.01M107.2 820.4h.01M104.4 820.3h.01M108.8 815.2h.01M106.9 817.4h.01M107.8 814.5h.01M105.8 817.6h.01M106.6 817.2h.01M107.2 816.6h.01M105.5 819.9h.01M104.4 816.9h.01M103.2 815.1h.01M107.9 816.8h.01M106.3 818.3h.01M106.3 818.9h.01M112.2 816.8h.01M106.5 821.2h.01M107.9 812.9h.01M110.7 816.8h.01M108.6 814.0h.01M103.6 816.3h.01M107.6 814.2h.01M104.8 819.9h.01M104.6 817.9h.01M102.9 813.9h.01M106.2 817.0h.01M102.6 820.4h.01M109.5 818.7h.01M104.4 814.9h.01M106.3 817.6h.01M105.7 816.0h.01M103.1 816.2h.01M106.0 816.1h.01M111.5 815.5h.01M107.7 815.8h.01M105.5 815.1h.01M104.3 814.1h.01M100.8 821.6h.01M103.5 818.9h.01M105.8 816.0h.01M108.5 815.4h.01M107.7 816.1h.01M109.9 818.8h.01M107.2 819.7h.01M108.8 820.5h.01M105.4 813.7h.01M107.3 817.6h.01M105.3 817.0h.01M105.1 814.5h.01M111.4 814.3h.01M102.4 814.3h.01M103.9 817.7h.01M111.3 817.6h.01M103.7 814.8h.01M103.0 817.7h.01M108.9 815.5h.01M112.4 820.6h.01M105.9 812.1h.01M109.8 816.3h.01M109.0 819.0h.01M103.4 818.0h.01M106.7 815.4h.01M108.6 816.4h.01M106.2 821.8h.01M107.8 820.8h.01M106.5 819.7h.01M104.3 818.0h.01M108.7 811.5h.01M108.0 816.2h.01M109.9 816.9h.01M105.6 814.3h.01M115.1 813.6h.01M105.1 815.7h.01M105.7 817.9h.01M102.9 820.5h.01" stroke="#000" stroke-opacity="0.5" stroke-width="0.9" stroke-linecap="round" fill="none"/>
<ellipse cx="106.50" cy="817.20" rx="6.40" ry="4.80" fill="url(#g1)" opacity="0.5" transform="rotate(-12 106.50 817.20)"/>
<line x1="192.10" y1="5.90" x2="192.10" y2="85.90" stroke="#1a1a1a" stroke-width="1.05"/>
<line x1="191.60" y1="85.40" x2="513.00" y2="85.40" stroke="#0a0a0a" stroke-width="1.15"/>
<line x1="189.90" y1="85.40" x2="192.10" y2="85.40" stroke="#0a0a0a" stroke-width="1.1"/>
<text x="188.10" y="88.20" font-size="9.3" text-anchor="end" font-weight="normal" fill="#1c1c1c" stroke="#1c1c1c" stroke-width="0.28">0</text>
<line x1="189.90" y1="65.62" x2="192.10" y2="65.62" stroke="#0a0a0a" stroke-width="1.1"/>
<text x="188.10" y="68.42" font-size="9.3" text-anchor="end" font-weight="normal" fill="#1c1c1c" stroke="#1c1c1c" stroke-width="0.28">300</text>
<line x1="189.90" y1="45.85" x2="192.10" y2="45.85" stroke="#0a0a0a" stroke-width="1.1"/>
<text x="188.10" y="48.65" font-size="9.3" text-anchor="end" font-weight="normal" fill="#1c1c1c" stroke="#1c1c1c" stroke-width="0.28">600</text>
<line x1="189.90" y1="26.08" x2="192.10" y2="26.08" stroke="#0a0a0a" stroke-width="1.1"/>
<text x="188.10" y="28.88" font-size="9.3" text-anchor="end" font-weight="normal" fill="#1c1c1c" stroke="#1c1c1c" stroke-width="0.28">900</text>
<line x1="189.90" y1="6.30" x2="192.10" y2="6.30" stroke="#0a0a0a" stroke-width="1.1"/>
<text x="188.10" y="9.10" font-size="9.3" text-anchor="end" font-weight="normal" fill="#1c1c1c" stroke="#1c1c1c" stroke-width="0.28">1200</text>
<line x1="190.88" y1="85.40" x2="190.88" y2="88.40" stroke="#0a0a0a" stroke-width="1.2"/>
<line x1="201.62" y1="85.40" x2="201.62" y2="88.40" stroke="#0a0a0a" stroke-width="1.2"/>
<line x1="212.38" y1="85.40" x2="212.38" y2="88.40" stroke="#0a0a0a" stroke-width="1.2"/>
<line x1="223.12" y1="85.40" x2="223.12" y2="88.40" stroke="#0a0a0a" stroke-width="1.2"/>
<line x1="233.88" y1="85.40" x2="233.88" y2="88.40" stroke="#0a0a0a" stroke-width="1.2"/>
<line x1="244.62" y1="85.40" x2="244.62" y2="88.40" stroke="#0a0a0a" stroke-width="1.2"/>
<line x1="255.38" y1="85.40" x2="255.38" y2="88.40" stroke="#0a0a0a" stroke-width="1.2"/>
<line x1="266.12" y1="85.40" x2="266.12" y2="88.40" stroke="#0a0a0a" stroke-width="1.2"/>
<line x1="276.88" y1="85.40" x2="276.88" y2="88.40" stroke="#0a0a0a" stroke-width="1.2"/>
<line x1="287.62" y1="85.40" x2="287.62" y2="88.40" stroke="#0a0a0a" stroke-width="1.2"/>
<line x1="298.38" y1="85.40" x2="298.38" y2="88.40" stroke="#0a0a0a" stroke-width="1.2"/>
<line x1="309.12" y1="85.40" x2="309.12" y2="88.40" stroke="#0a0a0a" stroke-width="1.2"/>
<line x1="319.88" y1="85.40" x2="319.88" y2="88.40" stroke="#0a0a0a" stroke-width="1.2"/>
<line x1="330.62" y1="85.40" x2="330.62" y2="88.40" stroke="#0a0a0a" stroke-width="1.2"/>
<line x1="341.38" y1="85.40" x2="341.38" y2="88.40" stroke="#0a0a0a" stroke-width="1.2"/>
<line x1="352.12" y1="85.40" x2="352.12" y2="88.40" stroke="#0a0a0a" stroke-width="1.2"/>
<line x1="362.88" y1="85.40" x2="362.88" y2="88.40" stroke="#0a0a0a" stroke-width="1.2"/>
<line x1="373.62" y1="85.40" x2="373.62" y2="88.40" stroke="#0a0a0a" stroke-width="1.2"/>
<line x1="384.38" y1="85.40" x2="384.38" y2="88.40" stroke="#0a0a0a" stroke-width="1.2"/>
<line x1="395.12" y1="85.40" x2="395.12" y2="88.40" stroke="#0a0a0a" stroke-width="1.2"/>
<line x1="405.88" y1="85.40" x2="405.88" y2="88.40" stroke="#0a0a0a" stroke-width="1.2"/>
<line x1="416.62" y1="85.40" x2="416.62" y2="88.40" stroke="#0a0a0a" stroke-width="1.2"/>
<line x1="427.38" y1="85.40" x2="427.38" y2="88.40" stroke="#0a0a0a" stroke-width="1.2"/>
<line x1="438.12" y1="85.40" x2="438.12" y2="88.40" stroke="#0a0a0a" stroke-width="1.2"/>
<line x1="448.88" y1="85.40" x2="448.88" y2="88.40" stroke="#0a0a0a" stroke-width="1.2"/>
<line x1="459.62" y1="85.40" x2="459.62" y2="88.40" stroke="#0a0a0a" stroke-width="1.2"/>
<line x1="470.38" y1="85.40" x2="470.38" y2="88.40" stroke="#0a0a0a" stroke-width="1.2"/>
<line x1="481.12" y1="85.40" x2="481.12" y2="88.40" stroke="#0a0a0a" stroke-width="1.2"/>
<line x1="491.88" y1="85.40" x2="491.88" y2="88.40" stroke="#0a0a0a" stroke-width="1.2"/>
<line x1="502.62" y1="85.40" x2="502.62" y2="88.40" stroke="#0a0a0a" stroke-width="1.2"/>
<line x1="513.38" y1="85.40" x2="513.38" y2="88.40" stroke="#0a0a0a" stroke-width="1.2"/>
<text x="200.45" y="90.40" font-size="9.4" text-anchor="end" font-weight="normal" fill="#1c1c1c" transform="rotate(-90 200.45 90.40)" stroke="#1c1c1c" stroke-width="0.28">CEL</text>
<text x="211.20" y="90.40" font-size="9.4" text-anchor="end" font-weight="normal" fill="#1c1c1c" transform="rotate(-90 211.20 90.40)" stroke="#1c1c1c" stroke-width="0.28">AAS</text>
<text x="221.95" y="90.40" font-size="9.4" text-anchor="end" font-weight="normal" fill="#1c1c1c" transform="rotate(-90 221.95 90.40)" stroke="#1c1c1c" stroke-width="0.28">ABV</text>
<text x="232.70" y="90.40" font-size="9.4" text-anchor="end" font-weight="normal" fill="#1c1c1c" transform="rotate(-90 232.70 90.40)" stroke="#1c1c1c" stroke-width="0.28">AHT</text>
<text x="243.45" y="90.40" font-size="9.4" text-anchor="end" font-weight="normal" fill="#1c1c1c" transform="rotate(-90 243.45 90.40)" stroke="#1c1c1c" stroke-width="0.28">CVV</text>
<text x="254.20" y="90.40" font-size="9.4" text-anchor="end" font-weight="normal" fill="#1c1c1c" transform="rotate(-90 254.20 90.40)" stroke="#1c1c1c" stroke-width="0.28">EIR</text>
<text x="264.95" y="90.40" font-size="9.4" text-anchor="end" font-weight="normal" fill="#1c1c1c" transform="rotate(-90 264.95 90.40)" stroke="#1c1c1c" stroke-width="0.28">FAQ</text>
<text x="275.70" y="90.40" font-size="9.4" text-anchor="end" font-weight="normal" fill="#1c1c1c" transform="rotate(-90 275.70 90.40)" stroke="#1c1c1c" stroke-width="0.28">FRQ</text>
<text x="286.45" y="90.40" font-size="9.4" text-anchor="end" font-weight="normal" fill="#1c1c1c" transform="rotate(-90 286.45 90.40)" stroke="#1c1c1c" stroke-width="0.28">GGT</text>
<text x="297.20" y="90.40" font-size="9.4" text-anchor="end" font-weight="normal" fill="#1c1c1c" transform="rotate(-90 297.20 90.40)" stroke="#1c1c1c" stroke-width="0.28">JLX</text>
<text x="307.95" y="90.40" font-size="9.4" text-anchor="end" font-weight="normal" fill="#1c1c1c" transform="rotate(-90 307.95 90.40)" stroke="#1c1c1c" stroke-width="0.28">LAJ</text>
<text x="318.70" y="90.40" font-size="9.4" text-anchor="end" font-weight="normal" fill="#1c1c1c" transform="rotate(-90 318.70 90.40)" stroke="#1c1c1c" stroke-width="0.28">LMB</text>
<text x="329.45" y="90.40" font-size="9.4" text-anchor="end" font-weight="normal" fill="#1c1c1c" transform="rotate(-90 329.45 90.40)" stroke="#1c1c1c" stroke-width="0.28">MBX</text>
<text x="340.20" y="90.40" font-size="9.4" text-anchor="end" font-weight="normal" fill="#1c1c1c" transform="rotate(-90 340.20 90.40)" stroke="#1c1c1c" stroke-width="0.28">NGI</text>
<text x="350.95" y="90.40" font-size="9.4" text-anchor="end" font-weight="normal" fill="#1c1c1c" transform="rotate(-90 350.95 90.40)" stroke="#1c1c1c" stroke-width="0.28">RSW</text>
<text x="361.70" y="90.40" font-size="9.4" text-anchor="end" font-weight="normal" fill="#1c1c1c" transform="rotate(-90 361.70 90.40)" stroke="#1c1c1c" stroke-width="0.28">ZIL</text>
<text x="372.45" y="90.40" font-size="9.4" text-anchor="end" font-weight="normal" fill="#1c1c1c" transform="rotate(-90 372.45 90.40)" stroke="#1c1c1c" stroke-width="0.28">ESK</text>
<text x="383.20" y="90.40" font-size="9.4" text-anchor="end" font-weight="normal" fill="#1c1c1c" transform="rotate(-90 383.20 90.40)" stroke="#1c1c1c" stroke-width="0.28">LSR</text>
<text x="393.95" y="90.40" font-size="9.4" text-anchor="end" font-weight="normal" fill="#1c1c1c" transform="rotate(-90 393.95 90.40)" stroke="#1c1c1c" stroke-width="0.28">EBM</text>
<text x="404.70" y="90.40" font-size="9.4" text-anchor="end" font-weight="normal" fill="#1c1c1c" transform="rotate(-90 404.70 90.40)" stroke="#1c1c1c" stroke-width="0.28">PMT</text>
<text x="415.45" y="90.40" font-size="9.4" text-anchor="end" font-weight="normal" fill="#1c1c1c" transform="rotate(-90 415.45 90.40)" stroke="#1c1c1c" stroke-width="0.28">TSJ</text>
<text x="426.20" y="90.40" font-size="9.4" text-anchor="end" font-weight="normal" fill="#1c1c1c" transform="rotate(-90 426.20 90.40)" stroke="#1c1c1c" stroke-width="0.28">IZA</text>
<text x="436.95" y="90.40" font-size="9.4" text-anchor="end" font-weight="normal" fill="#1c1c1c" transform="rotate(-90 436.95 90.40)" stroke="#1c1c1c" stroke-width="0.28">GSL</text>
<text x="447.70" y="90.40" font-size="9.4" text-anchor="end" font-weight="normal" fill="#1c1c1c" transform="rotate(-90 447.70 90.40)" stroke="#1c1c1c" stroke-width="0.28">JPF</text>
<text x="458.45" y="90.40" font-size="9.4" text-anchor="end" font-weight="normal" fill="#1c1c1c" transform="rotate(-90 458.45 90.40)" stroke="#1c1c1c" stroke-width="0.28">CSV</text>
<text x="469.20" y="90.40" font-size="9.4" text-anchor="end" font-weight="normal" fill="#1c1c1c" transform="rotate(-90 469.20 90.40)" stroke="#1c1c1c" stroke-width="0.28">MHX</text>
<text x="479.95" y="90.40" font-size="9.4" text-anchor="end" font-weight="normal" fill="#1c1c1c" transform="rotate(-90 479.95 90.40)" stroke="#1c1c1c" stroke-width="0.28">OMR</text>
<text x="490.70" y="90.40" font-size="9.4" text-anchor="end" font-weight="normal" fill="#1c1c1c" transform="rotate(-90 490.70 90.40)" stroke="#1c1c1c" stroke-width="0.28">TIS</text>
<text x="501.45" y="90.40" font-size="9.4" text-anchor="end" font-weight="normal" fill="#1c1c1c" transform="rotate(-90 501.45 90.40)" stroke="#1c1c1c" stroke-width="0.28">CODI</text>
<text x="512.20" y="90.40" font-size="9.4" text-anchor="end" font-weight="normal" fill="#1c1c1c" transform="rotate(-90 512.20 90.40)" stroke="#1c1c1c" stroke-width="0.28">pept</text>
<rect x="193.45" y="78.00" width="5.60" height="7.40" fill="#0a0a0a"/>
<line x1="196.25" y1="76.30" x2="196.25" y2="78.50" stroke="#0a0a0a" stroke-width="1.1"/>
<line x1="194.05" y1="76.30" x2="198.45" y2="76.30" stroke="#0a0a0a" stroke-width="1.1"/>
<rect x="204.20" y="74.30" width="5.60" height="11.10" fill="#0a0a0a"/>
<rect x="214.95" y="83.00" width="5.60" height="2.40" fill="#0a0a0a"/>
<rect x="225.70" y="61.30" width="5.60" height="24.10" fill="#0a0a0a"/>
<line x1="228.50" y1="57.00" x2="228.50" y2="61.80" stroke="#0a0a0a" stroke-width="1.1"/>
<line x1="226.30" y1="57.00" x2="230.70" y2="57.00" stroke="#0a0a0a" stroke-width="1.1"/>
<rect x="236.45" y="70.00" width="5.60" height="15.40" fill="#0a0a0a"/>
<rect x="247.20" y="80.50" width="5.60" height="4.90" fill="#0a0a0a"/>
<line x1="250.00" y1="79.30" x2="250.00" y2="81.00" stroke="#0a0a0a" stroke-width="1.1"/>
<line x1="247.80" y1="79.30" x2="252.20" y2="79.30" stroke="#0a0a0a" stroke-width="1.1"/>
<rect x="257.95" y="52.00" width="5.60" height="33.40" fill="#0a0a0a"/>
<line x1="260.75" y1="48.30" x2="260.75" y2="52.50" stroke="#0a0a0a" stroke-width="1.1"/>
<line x1="258.55" y1="48.30" x2="262.95" y2="48.30" stroke="#0a0a0a" stroke-width="1.1"/>
<rect x="268.70" y="45.00" width="5.60" height="40.40" fill="#0a0a0a"/>
<line x1="271.50" y1="41.30" x2="271.50" y2="45.50" stroke="#0a0a0a" stroke-width="1.1"/>
<line x1="269.30" y1="41.30" x2="273.70" y2="41.30" stroke="#0a0a0a" stroke-width="1.1"/>
<rect x="279.45" y="36.80" width="5.60" height="48.60" fill="#0a0a0a"/>
<rect x="290.20" y="69.50" width="5.60" height="15.90" fill="#0a0a0a"/>
<line x1="293.00" y1="63.00" x2="293.00" y2="70.00" stroke="#0a0a0a" stroke-width="1.1"/>
<line x1="290.80" y1="63.00" x2="295.20" y2="63.00" stroke="#0a0a0a" stroke-width="1.1"/>
<rect x="300.95" y="71.00" width="5.60" height="14.40" fill="#0a0a0a"/>
<line x1="303.75" y1="68.00" x2="303.75" y2="71.50" stroke="#0a0a0a" stroke-width="1.1"/>
<line x1="301.55" y1="68.00" x2="305.95" y2="68.00" stroke="#0a0a0a" stroke-width="1.1"/>
<rect x="311.70" y="65.50" width="5.60" height="19.90" fill="#0a0a0a"/>
<line x1="314.50" y1="61.00" x2="314.50" y2="66.00" stroke="#0a0a0a" stroke-width="1.1"/>
<line x1="312.30" y1="61.00" x2="316.70" y2="61.00" stroke="#0a0a0a" stroke-width="1.1"/>
<rect x="322.45" y="72.00" width="5.60" height="13.40" fill="#0a0a0a"/>
<line x1="325.25" y1="65.50" x2="325.25" y2="72.50" stroke="#0a0a0a" stroke-width="1.1"/>
<line x1="323.05" y1="65.50" x2="327.45" y2="65.50" stroke="#0a0a0a" stroke-width="1.1"/>
<rect x="333.20" y="43.00" width="5.60" height="42.40" fill="#0a0a0a"/>
<rect x="343.95" y="61.00" width="5.60" height="24.40" fill="#0a0a0a"/>
<line x1="346.75" y1="60.00" x2="346.75" y2="61.50" stroke="#0a0a0a" stroke-width="1.1"/>
<line x1="344.55" y1="60.00" x2="348.95" y2="60.00" stroke="#0a0a0a" stroke-width="1.1"/>
<rect x="354.70" y="74.00" width="5.60" height="11.40" fill="#0a0a0a"/>
<rect x="365.45" y="74.00" width="5.60" height="11.40" fill="#0a0a0a"/>
<rect x="376.20" y="40.80" width="5.60" height="44.60" fill="#0a0a0a"/>
<line x1="379.00" y1="38.00" x2="379.00" y2="41.30" stroke="#0a0a0a" stroke-width="1.1"/>
<line x1="376.80" y1="38.00" x2="381.20" y2="38.00" stroke="#0a0a0a" stroke-width="1.1"/>
<rect x="386.95" y="75.80" width="5.60" height="9.60" fill="#0a0a0a"/>
<rect x="397.70" y="66.00" width="5.60" height="19.40" fill="#0a0a0a"/>
<line x1="400.50" y1="64.50" x2="400.50" y2="66.50" stroke="#0a0a0a" stroke-width="1.1"/>
<line x1="398.30" y1="64.50" x2="402.70" y2="64.50" stroke="#0a0a0a" stroke-width="1.1"/>
<rect x="408.45" y="50.80" width="5.60" height="34.60" fill="#0a0a0a"/>
<line x1="411.25" y1="49.00" x2="411.25" y2="51.30" stroke="#0a0a0a" stroke-width="1.1"/>
<line x1="409.05" y1="49.00" x2="413.45" y2="49.00" stroke="#0a0a0a" stroke-width="1.1"/>
<rect x="419.20" y="73.80" width="5.60" height="11.60" fill="#0a0a0a"/>
<line x1="422.00" y1="71.80" x2="422.00" y2="74.30" stroke="#0a0a0a" stroke-width="1.1"/>
<line x1="419.80" y1="71.80" x2="424.20" y2="71.80" stroke="#0a0a0a" stroke-width="1.1"/>
<rect x="429.95" y="71.30" width="5.60" height="14.10" fill="#0a0a0a"/>
<rect x="440.70" y="52.50" width="5.60" height="32.90" fill="#0a0a0a"/>
<line x1="443.50" y1="49.50" x2="443.50" y2="53.00" stroke="#0a0a0a" stroke-width="1.1"/>
<line x1="441.30" y1="49.50" x2="445.70" y2="49.50" stroke="#0a0a0a" stroke-width="1.1"/>
<rect x="451.45" y="67.00" width="5.60" height="18.40" fill="#0a0a0a"/>
<rect x="462.20" y="74.30" width="5.60" height="11.10" fill="#0a0a0a"/>
<rect x="472.95" y="44.50" width="5.60" height="40.90" fill="#0a0a0a"/>
<rect x="483.70" y="59.30" width="5.60" height="26.10" fill="#0a0a0a"/>
<line x1="486.50" y1="51.80" x2="486.50" y2="59.80" stroke="#0a0a0a" stroke-width="1.1"/>
<line x1="484.30" y1="51.80" x2="488.70" y2="51.80" stroke="#0a0a0a" stroke-width="1.1"/>
<rect x="494.45" y="75.00" width="5.60" height="10.40" fill="#0a0a0a"/>
<rect x="505.20" y="20.80" width="5.60" height="64.60" fill="#0a0a0a"/>
<line x1="508.00" y1="16.30" x2="508.00" y2="21.30" stroke="#0a0a0a" stroke-width="1.1"/>
<line x1="505.80" y1="16.30" x2="510.20" y2="16.30" stroke="#0a0a0a" stroke-width="1.1"/>
<text x="280.00" y="6.50" font-size="9.3" text-anchor="start" font-weight="normal" fill="#1c1c1c" stroke="#1c1c1c" stroke-width="0.28">CMV-pp50 / HLA-A1 line - MBX</text>
<line x1="191.80" y1="134.60" x2="191.80" y2="215.50" stroke="#1a1a1a" stroke-width="1.05"/>
<line x1="191.30" y1="215.00" x2="513.00" y2="215.00" stroke="#0a0a0a" stroke-width="1.15"/>
<line x1="189.60" y1="215.00" x2="191.80" y2="215.00" stroke="#0a0a0a" stroke-width="1.1"/>
<text x="187.80" y="218.30" font-size="9.3" text-anchor="end" font-weight="normal" fill="#1c1c1c" stroke="#1c1c1c" stroke-width="0.28">0</text>
<line x1="189.60" y1="195.00" x2="191.80" y2="195.00" stroke="#0a0a0a" stroke-width="1.1"/>
<text x="187.80" y="198.30" font-size="9.3" text-anchor="end" font-weight="normal" fill="#1c1c1c" stroke="#1c1c1c" stroke-width="0.28">300</text>
<line x1="189.60" y1="175.00" x2="191.80" y2="175.00" stroke="#0a0a0a" stroke-width="1.1"/>
<text x="187.80" y="178.30" font-size="9.3" text-anchor="end" font-weight="normal" fill="#1c1c1c" stroke="#1c1c1c" stroke-width="0.28">600</text>
<line x1="189.60" y1="155.00" x2="191.80" y2="155.00" stroke="#0a0a0a" stroke-width="1.1"/>
<text x="187.80" y="158.30" font-size="9.3" text-anchor="end" font-weight="normal" fill="#1c1c1c" stroke="#1c1c1c" stroke-width="0.28">900</text>
<line x1="189.60" y1="135.00" x2="191.80" y2="135.00" stroke="#0a0a0a" stroke-width="1.1"/>
<text x="187.80" y="138.30" font-size="9.3" text-anchor="end" font-weight="normal" fill="#1c1c1c" stroke="#1c1c1c" stroke-width="0.28">1200</text>
<line x1="191.64" y1="215.00" x2="191.64" y2="218.00" stroke="#0a0a0a" stroke-width="1.2"/>
<line x1="202.36" y1="215.00" x2="202.36" y2="218.00" stroke="#0a0a0a" stroke-width="1.2"/>
<line x1="213.08" y1="215.00" x2="213.08" y2="218.00" stroke="#0a0a0a" stroke-width="1.2"/>
<line x1="223.80" y1="215.00" x2="223.80" y2="218.00" stroke="#0a0a0a" stroke-width="1.2"/>
<line x1="234.52" y1="215.00" x2="234.52" y2="218.00" stroke="#0a0a0a" stroke-width="1.2"/>
<line x1="245.24" y1="215.00" x2="245.24" y2="218.00" stroke="#0a0a0a" stroke-width="1.2"/>
<line x1="255.96" y1="215.00" x2="255.96" y2="218.00" stroke="#0a0a0a" stroke-width="1.2"/>
<line x1="266.68" y1="215.00" x2="266.68" y2="218.00" stroke="#0a0a0a" stroke-width="1.2"/>
<line x1="277.40" y1="215.00" x2="277.40" y2="218.00" stroke="#0a0a0a" stroke-width="1.2"/>
<line x1="288.12" y1="215.00" x2="288.12" y2="218.00" stroke="#0a0a0a" stroke-width="1.2"/>
<line x1="298.84" y1="215.00" x2="298.84" y2="218.00" stroke="#0a0a0a" stroke-width="1.2"/>
<line x1="309.56" y1="215.00" x2="309.56" y2="218.00" stroke="#0a0a0a" stroke-width="1.2"/>
<line x1="320.28" y1="215.00" x2="320.28" y2="218.00" stroke="#0a0a0a" stroke-width="1.2"/>
<line x1="331.00" y1="215.00" x2="331.00" y2="218.00" stroke="#0a0a0a" stroke-width="1.2"/>
<line x1="341.72" y1="215.00" x2="341.72" y2="218.00" stroke="#0a0a0a" stroke-width="1.2"/>
<line x1="352.44" y1="215.00" x2="352.44" y2="218.00" stroke="#0a0a0a" stroke-width="1.2"/>
<line x1="363.16" y1="215.00" x2="363.16" y2="218.00" stroke="#0a0a0a" stroke-width="1.2"/>
<line x1="373.88" y1="215.00" x2="373.88" y2="218.00" stroke="#0a0a0a" stroke-width="1.2"/>
<line x1="384.60" y1="215.00" x2="384.60" y2="218.00" stroke="#0a0a0a" stroke-width="1.2"/>
<line x1="395.32" y1="215.00" x2="395.32" y2="218.00" stroke="#0a0a0a" stroke-width="1.2"/>
<line x1="406.04" y1="215.00" x2="406.04" y2="218.00" stroke="#0a0a0a" stroke-width="1.2"/>
<line x1="416.76" y1="215.00" x2="416.76" y2="218.00" stroke="#0a0a0a" stroke-width="1.2"/>
<line x1="427.48" y1="215.00" x2="427.48" y2="218.00" stroke="#0a0a0a" stroke-width="1.2"/>
<line x1="438.20" y1="215.00" x2="438.20" y2="218.00" stroke="#0a0a0a" stroke-width="1.2"/>
<line x1="448.92" y1="215.00" x2="448.92" y2="218.00" stroke="#0a0a0a" stroke-width="1.2"/>
<line x1="459.64" y1="215.00" x2="459.64" y2="218.00" stroke="#0a0a0a" stroke-width="1.2"/>
<line x1="470.36" y1="215.00" x2="470.36" y2="218.00" stroke="#0a0a0a" stroke-width="1.2"/>
<line x1="481.08" y1="215.00" x2="481.08" y2="218.00" stroke="#0a0a0a" stroke-width="1.2"/>
<line x1="491.80" y1="215.00" x2="491.80" y2="218.00" stroke="#0a0a0a" stroke-width="1.2"/>
<line x1="502.52" y1="215.00" x2="502.52" y2="218.00" stroke="#0a0a0a" stroke-width="1.2"/>
<line x1="513.24" y1="215.00" x2="513.24" y2="218.00" stroke="#0a0a0a" stroke-width="1.2"/>
<text x="201.20" y="219.30" font-size="9.4" text-anchor="end" font-weight="normal" fill="#1c1c1c" transform="rotate(-90 201.20 219.30)" stroke="#1c1c1c" stroke-width="0.28">CEL</text>
<text x="211.92" y="219.30" font-size="9.4" text-anchor="end" font-weight="normal" fill="#1c1c1c" transform="rotate(-90 211.92 219.30)" stroke="#1c1c1c" stroke-width="0.28">AAS</text>
<text x="222.64" y="219.30" font-size="9.4" text-anchor="end" font-weight="normal" fill="#1c1c1c" transform="rotate(-90 222.64 219.30)" stroke="#1c1c1c" stroke-width="0.28">ABV</text>
<text x="233.36" y="219.30" font-size="9.4" text-anchor="end" font-weight="normal" fill="#1c1c1c" transform="rotate(-90 233.36 219.30)" stroke="#1c1c1c" stroke-width="0.28">AHT</text>
<text x="244.08" y="219.30" font-size="9.4" text-anchor="end" font-weight="normal" fill="#1c1c1c" transform="rotate(-90 244.08 219.30)" stroke="#1c1c1c" stroke-width="0.28">CVV</text>
<text x="254.80" y="219.30" font-size="9.4" text-anchor="end" font-weight="normal" fill="#1c1c1c" transform="rotate(-90 254.80 219.30)" stroke="#1c1c1c" stroke-width="0.28">EIR</text>
<text x="265.52" y="219.30" font-size="9.4" text-anchor="end" font-weight="normal" fill="#1c1c1c" transform="rotate(-90 265.52 219.30)" stroke="#1c1c1c" stroke-width="0.28">FAQ</text>
<text x="276.24" y="219.30" font-size="9.4" text-anchor="end" font-weight="normal" fill="#1c1c1c" transform="rotate(-90 276.24 219.30)" stroke="#1c1c1c" stroke-width="0.28">FRQ</text>
<text x="286.96" y="219.30" font-size="9.4" text-anchor="end" font-weight="normal" fill="#1c1c1c" transform="rotate(-90 286.96 219.30)" stroke="#1c1c1c" stroke-width="0.28">GGT</text>
<text x="297.68" y="219.30" font-size="9.4" text-anchor="end" font-weight="normal" fill="#1c1c1c" transform="rotate(-90 297.68 219.30)" stroke="#1c1c1c" stroke-width="0.28">JLX</text>
<text x="308.40" y="219.30" font-size="9.4" text-anchor="end" font-weight="normal" fill="#1c1c1c" transform="rotate(-90 308.40 219.30)" stroke="#1c1c1c" stroke-width="0.28">LAJ</text>
<text x="319.12" y="219.30" font-size="9.4" text-anchor="end" font-weight="normal" fill="#1c1c1c" transform="rotate(-90 319.12 219.30)" stroke="#1c1c1c" stroke-width="0.28">LMB</text>
<text x="329.84" y="219.30" font-size="9.4" text-anchor="end" font-weight="normal" fill="#1c1c1c" transform="rotate(-90 329.84 219.30)" stroke="#1c1c1c" stroke-width="0.28">MBX</text>
<text x="340.56" y="219.30" font-size="9.4" text-anchor="end" font-weight="normal" fill="#1c1c1c" transform="rotate(-90 340.56 219.30)" stroke="#1c1c1c" stroke-width="0.28">NGI</text>
<text x="351.28" y="219.30" font-size="9.4" text-anchor="end" font-weight="normal" fill="#1c1c1c" transform="rotate(-90 351.28 219.30)" stroke="#1c1c1c" stroke-width="0.28">RSW</text>
<text x="362.00" y="219.30" font-size="9.4" text-anchor="end" font-weight="normal" fill="#1c1c1c" transform="rotate(-90 362.00 219.30)" stroke="#1c1c1c" stroke-width="0.28">ZIL</text>
<text x="372.72" y="219.30" font-size="9.4" text-anchor="end" font-weight="normal" fill="#1c1c1c" transform="rotate(-90 372.72 219.30)" stroke="#1c1c1c" stroke-width="0.28">ESK</text>
<text x="383.44" y="219.30" font-size="9.4" text-anchor="end" font-weight="normal" fill="#1c1c1c" transform="rotate(-90 383.44 219.30)" stroke="#1c1c1c" stroke-width="0.28">LSR</text>
<text x="394.16" y="219.30" font-size="9.4" text-anchor="end" font-weight="normal" fill="#1c1c1c" transform="rotate(-90 394.16 219.30)" stroke="#1c1c1c" stroke-width="0.28">EBM</text>
<text x="404.88" y="219.30" font-size="9.4" text-anchor="end" font-weight="normal" fill="#1c1c1c" transform="rotate(-90 404.88 219.30)" stroke="#1c1c1c" stroke-width="0.28">PMT</text>
<text x="415.60" y="219.30" font-size="9.4" text-anchor="end" font-weight="normal" fill="#1c1c1c" transform="rotate(-90 415.60 219.30)" stroke="#1c1c1c" stroke-width="0.28">TSJ</text>
<text x="426.32" y="219.30" font-size="9.4" text-anchor="end" font-weight="normal" fill="#1c1c1c" transform="rotate(-90 426.32 219.30)" stroke="#1c1c1c" stroke-width="0.28">IZA</text>
<text x="437.04" y="219.30" font-size="9.4" text-anchor="end" font-weight="normal" fill="#1c1c1c" transform="rotate(-90 437.04 219.30)" stroke="#1c1c1c" stroke-width="0.28">GSL</text>
<text x="447.76" y="219.30" font-size="9.4" text-anchor="end" font-weight="normal" fill="#1c1c1c" transform="rotate(-90 447.76 219.30)" stroke="#1c1c1c" stroke-width="0.28">JPF</text>
<text x="458.48" y="219.30" font-size="9.4" text-anchor="end" font-weight="normal" fill="#1c1c1c" transform="rotate(-90 458.48 219.30)" stroke="#1c1c1c" stroke-width="0.28">CSV</text>
<text x="469.20" y="219.30" font-size="9.4" text-anchor="end" font-weight="normal" fill="#1c1c1c" transform="rotate(-90 469.20 219.30)" stroke="#1c1c1c" stroke-width="0.28">MHX</text>
<text x="479.92" y="219.30" font-size="9.4" text-anchor="end" font-weight="normal" fill="#1c1c1c" transform="rotate(-90 479.92 219.30)" stroke="#1c1c1c" stroke-width="0.28">OMR</text>
<text x="490.64" y="219.30" font-size="9.4" text-anchor="end" font-weight="normal" fill="#1c1c1c" transform="rotate(-90 490.64 219.30)" stroke="#1c1c1c" stroke-width="0.28">TIS</text>
<text x="501.36" y="219.30" font-size="9.4" text-anchor="end" font-weight="normal" fill="#1c1c1c" transform="rotate(-90 501.36 219.30)" stroke="#1c1c1c" stroke-width="0.28">CODI</text>
<text x="512.08" y="219.30" font-size="9.4" text-anchor="end" font-weight="normal" fill="#1c1c1c" transform="rotate(-90 512.08 219.30)" stroke="#1c1c1c" stroke-width="0.28">pept</text>
<rect x="194.20" y="212.60" width="5.60" height="2.40" fill="#0a0a0a"/>
<rect x="204.92" y="212.60" width="5.60" height="2.40" fill="#0a0a0a"/>
<rect x="215.64" y="213.30" width="5.60" height="1.70" fill="#0a0a0a"/>
<rect x="226.36" y="208.30" width="5.60" height="6.70" fill="#0a0a0a"/>
<line x1="229.16" y1="206.30" x2="229.16" y2="208.80" stroke="#0a0a0a" stroke-width="1.25"/>
<line x1="226.36" y1="206.30" x2="231.96" y2="206.30" stroke="#0a0a0a" stroke-width="1.25"/>
<rect x="237.08" y="207.00" width="5.60" height="8.00" fill="#0a0a0a"/>
<rect x="247.80" y="207.50" width="5.60" height="7.50" fill="#0a0a0a"/>
<rect x="258.52" y="180.00" width="5.60" height="35.00" fill="#0a0a0a"/>
<line x1="261.32" y1="174.50" x2="261.32" y2="180.50" stroke="#0a0a0a" stroke-width="1.25"/>
<line x1="258.52" y1="174.50" x2="264.12" y2="174.50" stroke="#0a0a0a" stroke-width="1.25"/>
<rect x="269.24" y="200.80" width="5.60" height="14.20" fill="#0a0a0a"/>
<line x1="272.04" y1="198.80" x2="272.04" y2="201.30" stroke="#0a0a0a" stroke-width="1.25"/>
<line x1="269.24" y1="198.80" x2="274.84" y2="198.80" stroke="#0a0a0a" stroke-width="1.25"/>
<rect x="279.96" y="186.80" width="5.60" height="28.20" fill="#0a0a0a"/>
<rect x="290.68" y="187.50" width="5.60" height="27.50" fill="#0a0a0a"/>
<line x1="293.48" y1="182.50" x2="293.48" y2="188.00" stroke="#0a0a0a" stroke-width="1.25"/>
<line x1="290.68" y1="182.50" x2="296.28" y2="182.50" stroke="#0a0a0a" stroke-width="1.25"/>
<rect x="301.40" y="210.50" width="5.60" height="4.50" fill="#0a0a0a"/>
<rect x="312.12" y="208.80" width="5.60" height="6.20" fill="#0a0a0a"/>
<rect x="322.84" y="210.00" width="5.60" height="5.00" fill="#0a0a0a"/>
<rect x="333.56" y="202.50" width="5.60" height="12.50" fill="#0a0a0a"/>
<line x1="336.36" y1="200.00" x2="336.36" y2="203.00" stroke="#0a0a0a" stroke-width="1.25"/>
<line x1="333.56" y1="200.00" x2="339.16" y2="200.00" stroke="#0a0a0a" stroke-width="1.25"/>
<rect x="344.28" y="185.00" width="5.60" height="30.00" fill="#0a0a0a"/>
<rect x="355.00" y="210.50" width="5.60" height="4.50" fill="#0a0a0a"/>
<rect x="365.72" y="214.00" width="5.60" height="1.00" fill="#0a0a0a"/>
<rect x="376.44" y="179.50" width="5.60" height="35.50" fill="#0a0a0a"/>
<line x1="379.24" y1="175.80" x2="379.24" y2="180.00" stroke="#0a0a0a" stroke-width="1.25"/>
<line x1="376.44" y1="175.80" x2="382.04" y2="175.80" stroke="#0a0a0a" stroke-width="1.25"/>
<rect x="387.16" y="210.00" width="5.60" height="5.00" fill="#0a0a0a"/>
<rect x="397.88" y="206.80" width="5.60" height="8.20" fill="#0a0a0a"/>
<line x1="400.68" y1="203.00" x2="400.68" y2="207.30" stroke="#0a0a0a" stroke-width="1.25"/>
<line x1="397.88" y1="203.00" x2="403.48" y2="203.00" stroke="#0a0a0a" stroke-width="1.25"/>
<rect x="408.60" y="192.00" width="5.60" height="23.00" fill="#0a0a0a"/>
<line x1="411.40" y1="186.30" x2="411.40" y2="192.50" stroke="#0a0a0a" stroke-width="1.25"/>
<line x1="408.60" y1="186.30" x2="414.20" y2="186.30" stroke="#0a0a0a" stroke-width="1.25"/>
<rect x="419.32" y="210.00" width="5.60" height="5.00" fill="#0a0a0a"/>
<rect x="430.04" y="206.30" width="5.60" height="8.70" fill="#0a0a0a"/>
<rect x="440.76" y="186.30" width="5.60" height="28.70" fill="#0a0a0a"/>
<line x1="443.56" y1="183.30" x2="443.56" y2="186.80" stroke="#0a0a0a" stroke-width="1.25"/>
<line x1="440.76" y1="183.30" x2="446.36" y2="183.30" stroke="#0a0a0a" stroke-width="1.25"/>
<rect x="451.48" y="207.50" width="5.60" height="7.50" fill="#0a0a0a"/>
<rect x="462.20" y="203.00" width="5.60" height="12.00" fill="#0a0a0a"/>
<rect x="472.92" y="185.70" width="5.60" height="29.30" fill="#0a0a0a"/>
<line x1="475.72" y1="183.00" x2="475.72" y2="186.20" stroke="#0a0a0a" stroke-width="1.25"/>
<line x1="472.92" y1="183.00" x2="478.52" y2="183.00" stroke="#0a0a0a" stroke-width="1.25"/>
<rect x="483.64" y="194.30" width="5.60" height="20.70" fill="#0a0a0a"/>
<rect x="494.36" y="205.50" width="5.60" height="9.50" fill="#0a0a0a"/>
<rect x="505.08" y="143.00" width="5.60" height="72.00" fill="#0a0a0a"/>
<text x="280.00" y="135.00" font-size="9.3" text-anchor="start" font-weight="normal" fill="#1c1c1c" stroke="#1c1c1c" stroke-width="0.28">CMV-pp50 / HLA-A1 line - UKL</text>
<line x1="192.20" y1="268.90" x2="192.20" y2="348.70" stroke="#1a1a1a" stroke-width="1.05"/>
<line x1="191.70" y1="348.20" x2="515.80" y2="348.20" stroke="#0a0a0a" stroke-width="1.15"/>
<line x1="188.60" y1="348.20" x2="192.20" y2="348.20" stroke="#0a0a0a" stroke-width="1.1"/>
<text x="187.20" y="351.50" font-size="9.3" text-anchor="end" font-weight="normal" fill="#1c1c1c" stroke="#1c1c1c" stroke-width="0.28">0</text>
<line x1="188.60" y1="335.05" x2="192.20" y2="335.05" stroke="#0a0a0a" stroke-width="1.1"/>
<text x="184.90" y="338.35" font-size="9.3" text-anchor="end" font-weight="normal" fill="#1c1c1c" stroke="#1c1c1c" stroke-width="0.28">200</text>
<line x1="188.60" y1="321.90" x2="192.20" y2="321.90" stroke="#0a0a0a" stroke-width="1.1"/>
<text x="184.90" y="325.20" font-size="9.3" text-anchor="end" font-weight="normal" fill="#1c1c1c" stroke="#1c1c1c" stroke-width="0.28">400</text>
<line x1="188.60" y1="308.75" x2="192.20" y2="308.75" stroke="#0a0a0a" stroke-width="1.1"/>
<text x="184.90" y="312.05" font-size="9.3" text-anchor="end" font-weight="normal" fill="#1c1c1c" stroke="#1c1c1c" stroke-width="0.28">600</text>
<line x1="188.60" y1="295.60" x2="192.20" y2="295.60" stroke="#0a0a0a" stroke-width="1.1"/>
<text x="184.90" y="298.90" font-size="9.3" text-anchor="end" font-weight="normal" fill="#1c1c1c" stroke="#1c1c1c" stroke-width="0.28">800</text>
<line x1="188.60" y1="282.45" x2="192.20" y2="282.45" stroke="#0a0a0a" stroke-width="1.1"/>
<text x="184.90" y="285.75" font-size="9.3" text-anchor="end" font-weight="normal" fill="#1c1c1c" stroke="#1c1c1c" stroke-width="0.28">1000</text>
<line x1="188.60" y1="269.30" x2="192.20" y2="269.30" stroke="#0a0a0a" stroke-width="1.1"/>
<text x="184.90" y="272.60" font-size="9.3" text-anchor="end" font-weight="normal" fill="#1c1c1c" stroke="#1c1c1c" stroke-width="0.28">1200</text>
<line x1="192.62" y1="348.20" x2="192.62" y2="351.20" stroke="#0a0a0a" stroke-width="1.2"/>
<line x1="203.38" y1="348.20" x2="203.38" y2="351.20" stroke="#0a0a0a" stroke-width="1.2"/>
<line x1="214.14" y1="348.20" x2="214.14" y2="351.20" stroke="#0a0a0a" stroke-width="1.2"/>
<line x1="224.90" y1="348.20" x2="224.90" y2="351.20" stroke="#0a0a0a" stroke-width="1.2"/>
<line x1="235.66" y1="348.20" x2="235.66" y2="351.20" stroke="#0a0a0a" stroke-width="1.2"/>
<line x1="246.42" y1="348.20" x2="246.42" y2="351.20" stroke="#0a0a0a" stroke-width="1.2"/>
<line x1="257.18" y1="348.20" x2="257.18" y2="351.20" stroke="#0a0a0a" stroke-width="1.2"/>
<line x1="267.94" y1="348.20" x2="267.94" y2="351.20" stroke="#0a0a0a" stroke-width="1.2"/>
<line x1="278.70" y1="348.20" x2="278.70" y2="351.20" stroke="#0a0a0a" stroke-width="1.2"/>
<line x1="289.46" y1="348.20" x2="289.46" y2="351.20" stroke="#0a0a0a" stroke-width="1.2"/>
<line x1="300.22" y1="348.20" x2="300.22" y2="351.20" stroke="#0a0a0a" stroke-width="1.2"/>
<line x1="310.98" y1="348.20" x2="310.98" y2="351.20" stroke="#0a0a0a" stroke-width="1.2"/>
<line x1="321.74" y1="348.20" x2="321.74" y2="351.20" stroke="#0a0a0a" stroke-width="1.2"/>
<line x1="332.50" y1="348.20" x2="332.50" y2="351.20" stroke="#0a0a0a" stroke-width="1.2"/>
<line x1="343.26" y1="348.20" x2="343.26" y2="351.20" stroke="#0a0a0a" stroke-width="1.2"/>
<line x1="354.02" y1="348.20" x2="354.02" y2="351.20" stroke="#0a0a0a" stroke-width="1.2"/>
<line x1="364.78" y1="348.20" x2="364.78" y2="351.20" stroke="#0a0a0a" stroke-width="1.2"/>
<line x1="375.54" y1="348.20" x2="375.54" y2="351.20" stroke="#0a0a0a" stroke-width="1.2"/>
<line x1="386.30" y1="348.20" x2="386.30" y2="351.20" stroke="#0a0a0a" stroke-width="1.2"/>
<line x1="397.06" y1="348.20" x2="397.06" y2="351.20" stroke="#0a0a0a" stroke-width="1.2"/>
<line x1="407.82" y1="348.20" x2="407.82" y2="351.20" stroke="#0a0a0a" stroke-width="1.2"/>
<line x1="418.58" y1="348.20" x2="418.58" y2="351.20" stroke="#0a0a0a" stroke-width="1.2"/>
<line x1="429.34" y1="348.20" x2="429.34" y2="351.20" stroke="#0a0a0a" stroke-width="1.2"/>
<line x1="440.10" y1="348.20" x2="440.10" y2="351.20" stroke="#0a0a0a" stroke-width="1.2"/>
<line x1="450.86" y1="348.20" x2="450.86" y2="351.20" stroke="#0a0a0a" stroke-width="1.2"/>
<line x1="461.62" y1="348.20" x2="461.62" y2="351.20" stroke="#0a0a0a" stroke-width="1.2"/>
<line x1="472.38" y1="348.20" x2="472.38" y2="351.20" stroke="#0a0a0a" stroke-width="1.2"/>
<line x1="483.14" y1="348.20" x2="483.14" y2="351.20" stroke="#0a0a0a" stroke-width="1.2"/>
<line x1="493.90" y1="348.20" x2="493.90" y2="351.20" stroke="#0a0a0a" stroke-width="1.2"/>
<line x1="504.66" y1="348.20" x2="504.66" y2="351.20" stroke="#0a0a0a" stroke-width="1.2"/>
<line x1="515.42" y1="348.20" x2="515.42" y2="351.20" stroke="#0a0a0a" stroke-width="1.2"/>
<text x="201.00" y="351.90" font-size="9.4" text-anchor="end" font-weight="normal" fill="#1c1c1c" transform="rotate(-90 201.00 351.90)" stroke="#1c1c1c" stroke-width="0.28">CEL</text>
<text x="211.76" y="351.90" font-size="9.4" text-anchor="end" font-weight="normal" fill="#1c1c1c" transform="rotate(-90 211.76 351.90)" stroke="#1c1c1c" stroke-width="0.28">AAS</text>
<text x="222.52" y="351.90" font-size="9.4" text-anchor="end" font-weight="normal" fill="#1c1c1c" transform="rotate(-90 222.52 351.90)" stroke="#1c1c1c" stroke-width="0.28">ABV</text>
<text x="233.28" y="351.90" font-size="9.4" text-anchor="end" font-weight="normal" fill="#1c1c1c" transform="rotate(-90 233.28 351.90)" stroke="#1c1c1c" stroke-width="0.28">AHT</text>
<text x="244.04" y="351.90" font-size="9.4" text-anchor="end" font-weight="normal" fill="#1c1c1c" transform="rotate(-90 244.04 351.90)" stroke="#1c1c1c" stroke-width="0.28">CVV</text>
<text x="254.80" y="351.90" font-size="9.4" text-anchor="end" font-weight="normal" fill="#1c1c1c" transform="rotate(-90 254.80 351.90)" stroke="#1c1c1c" stroke-width="0.28">EIR</text>
<text x="265.56" y="351.90" font-size="9.4" text-anchor="end" font-weight="normal" fill="#1c1c1c" transform="rotate(-90 265.56 351.90)" stroke="#1c1c1c" stroke-width="0.28">FAQ</text>
<text x="276.32" y="351.90" font-size="9.4" text-anchor="end" font-weight="normal" fill="#1c1c1c" transform="rotate(-90 276.32 351.90)" stroke="#1c1c1c" stroke-width="0.28">FRQ</text>
<text x="287.08" y="351.90" font-size="9.4" text-anchor="end" font-weight="normal" fill="#1c1c1c" transform="rotate(-90 287.08 351.90)" stroke="#1c1c1c" stroke-width="0.28">GGT</text>
<text x="297.84" y="351.90" font-size="9.4" text-anchor="end" font-weight="normal" fill="#1c1c1c" transform="rotate(-90 297.84 351.90)" stroke="#1c1c1c" stroke-width="0.28">JLX</text>
<text x="308.60" y="351.90" font-size="9.4" text-anchor="end" font-weight="normal" fill="#1c1c1c" transform="rotate(-90 308.60 351.90)" stroke="#1c1c1c" stroke-width="0.28">LAJ</text>
<text x="319.36" y="351.90" font-size="9.4" text-anchor="end" font-weight="normal" fill="#1c1c1c" transform="rotate(-90 319.36 351.90)" stroke="#1c1c1c" stroke-width="0.28">LMB</text>
<text x="330.12" y="351.90" font-size="9.4" text-anchor="end" font-weight="normal" fill="#1c1c1c" transform="rotate(-90 330.12 351.90)" stroke="#1c1c1c" stroke-width="0.28">MBX</text>
<text x="340.88" y="351.90" font-size="9.4" text-anchor="end" font-weight="normal" fill="#1c1c1c" transform="rotate(-90 340.88 351.90)" stroke="#1c1c1c" stroke-width="0.28">NGI</text>
<text x="351.64" y="351.90" font-size="9.4" text-anchor="end" font-weight="normal" fill="#1c1c1c" transform="rotate(-90 351.64 351.90)" stroke="#1c1c1c" stroke-width="0.28">RSW</text>
<text x="362.40" y="351.90" font-size="9.4" text-anchor="end" font-weight="normal" fill="#1c1c1c" transform="rotate(-90 362.40 351.90)" stroke="#1c1c1c" stroke-width="0.28">ZIL</text>
<text x="373.16" y="351.90" font-size="9.4" text-anchor="end" font-weight="normal" fill="#1c1c1c" transform="rotate(-90 373.16 351.90)" stroke="#1c1c1c" stroke-width="0.28">ESK</text>
<text x="383.92" y="351.90" font-size="9.4" text-anchor="end" font-weight="normal" fill="#1c1c1c" transform="rotate(-90 383.92 351.90)" stroke="#1c1c1c" stroke-width="0.28">LSR</text>
<text x="394.68" y="351.90" font-size="9.4" text-anchor="end" font-weight="normal" fill="#1c1c1c" transform="rotate(-90 394.68 351.90)" stroke="#1c1c1c" stroke-width="0.28">EBM</text>
<text x="405.44" y="351.90" font-size="9.4" text-anchor="end" font-weight="normal" fill="#1c1c1c" transform="rotate(-90 405.44 351.90)" stroke="#1c1c1c" stroke-width="0.28">PMT</text>
<text x="416.20" y="351.90" font-size="9.4" text-anchor="end" font-weight="normal" fill="#1c1c1c" transform="rotate(-90 416.20 351.90)" stroke="#1c1c1c" stroke-width="0.28">TSJ</text>
<text x="426.96" y="351.90" font-size="9.4" text-anchor="end" font-weight="normal" fill="#1c1c1c" transform="rotate(-90 426.96 351.90)" stroke="#1c1c1c" stroke-width="0.28">IZA</text>
<text x="437.72" y="351.90" font-size="9.4" text-anchor="end" font-weight="normal" fill="#1c1c1c" transform="rotate(-90 437.72 351.90)" stroke="#1c1c1c" stroke-width="0.28">GSL</text>
<text x="448.48" y="351.90" font-size="9.4" text-anchor="end" font-weight="normal" fill="#1c1c1c" transform="rotate(-90 448.48 351.90)" stroke="#1c1c1c" stroke-width="0.28">JPF</text>
<text x="459.24" y="351.90" font-size="9.4" text-anchor="end" font-weight="normal" fill="#1c1c1c" transform="rotate(-90 459.24 351.90)" stroke="#1c1c1c" stroke-width="0.28">CSV</text>
<text x="470.00" y="351.90" font-size="9.4" text-anchor="end" font-weight="normal" fill="#1c1c1c" transform="rotate(-90 470.00 351.90)" stroke="#1c1c1c" stroke-width="0.28">MHX</text>
<text x="480.76" y="351.90" font-size="9.4" text-anchor="end" font-weight="normal" fill="#1c1c1c" transform="rotate(-90 480.76 351.90)" stroke="#1c1c1c" stroke-width="0.28">OMR</text>
<text x="491.52" y="351.90" font-size="9.4" text-anchor="end" font-weight="normal" fill="#1c1c1c" transform="rotate(-90 491.52 351.90)" stroke="#1c1c1c" stroke-width="0.28">TIS</text>
<text x="502.28" y="351.90" font-size="9.4" text-anchor="end" font-weight="normal" fill="#1c1c1c" transform="rotate(-90 502.28 351.90)" stroke="#1c1c1c" stroke-width="0.28">CODI</text>
<text x="513.04" y="351.90" font-size="9.4" text-anchor="end" font-weight="normal" fill="#1c1c1c" transform="rotate(-90 513.04 351.90)" stroke="#1c1c1c" stroke-width="0.28">pept</text>
<rect x="195.35" y="347.20" width="5.30" height="1.00" fill="#0a0a0a"/>
<rect x="206.11" y="346.90" width="5.30" height="1.30" fill="#0a0a0a"/>
<rect x="216.87" y="347.30" width="5.30" height="0.90" fill="#0a0a0a"/>
<rect x="227.63" y="346.90" width="5.30" height="1.30" fill="#0a0a0a"/>
<rect x="238.39" y="347.20" width="5.30" height="1.00" fill="#0a0a0a"/>
<rect x="249.15" y="347.40" width="5.30" height="0.80" fill="#0a0a0a"/>
<rect x="259.91" y="347.40" width="5.30" height="0.80" fill="#0a0a0a"/>
<rect x="270.67" y="346.00" width="5.30" height="2.20" fill="#0a0a0a"/>
<rect x="281.43" y="347.40" width="5.30" height="0.80" fill="#0a0a0a"/>
<rect x="292.19" y="347.30" width="5.30" height="0.90" fill="#0a0a0a"/>
<rect x="302.95" y="346.90" width="5.30" height="1.30" fill="#0a0a0a"/>
<rect x="313.71" y="347.40" width="5.30" height="0.80" fill="#0a0a0a"/>
<rect x="324.47" y="347.40" width="5.30" height="0.80" fill="#0a0a0a"/>
<rect x="335.23" y="347.40" width="5.30" height="0.80" fill="#0a0a0a"/>
<rect x="345.99" y="347.00" width="5.30" height="1.20" fill="#0a0a0a"/>
<rect x="356.75" y="347.40" width="5.30" height="0.80" fill="#0a0a0a"/>
<rect x="367.51" y="347.40" width="5.30" height="0.80" fill="#0a0a0a"/>
<rect x="378.27" y="345.60" width="5.30" height="2.60" fill="#0a0a0a"/>
<rect x="389.03" y="347.20" width="5.30" height="1.00" fill="#0a0a0a"/>
<rect x="399.79" y="347.40" width="5.30" height="0.80" fill="#0a0a0a"/>
<rect x="410.55" y="347.00" width="5.30" height="1.20" fill="#0a0a0a"/>
<rect x="421.31" y="347.20" width="5.30" height="1.00" fill="#0a0a0a"/>
<rect x="432.07" y="347.10" width="5.30" height="1.10" fill="#0a0a0a"/>
<rect x="442.83" y="347.40" width="5.30" height="0.80" fill="#0a0a0a"/>
<rect x="453.59" y="346.40" width="5.30" height="1.80" fill="#0a0a0a"/>
<rect x="464.35" y="347.40" width="5.30" height="0.80" fill="#0a0a0a"/>
<rect x="475.11" y="347.20" width="5.30" height="1.00" fill="#0a0a0a"/>
<rect x="485.87" y="346.50" width="5.30" height="1.70" fill="#0a0a0a"/>
<rect x="496.63" y="347.40" width="5.30" height="0.80" fill="#0a0a0a"/>
<rect x="507.39" y="272.30" width="5.30" height="75.90" fill="#0a0a0a"/>
<text x="280.00" y="269.80" font-size="9.3" text-anchor="start" font-weight="normal" fill="#1c1c1c" stroke="#1c1c1c" stroke-width="0.28">CMV-pp50 / HLA-A1 line - CVO</text>
<line x1="192.70" y1="400.30" x2="192.70" y2="478.10" stroke="#1a1a1a" stroke-width="1.05"/>
<line x1="192.20" y1="477.60" x2="515.50" y2="477.60" stroke="#0a0a0a" stroke-width="1.15"/>
<line x1="189.50" y1="477.60" x2="192.70" y2="477.60" stroke="#0a0a0a" stroke-width="1.1"/>
<text x="188.50" y="480.90" font-size="9.3" text-anchor="end" font-weight="normal" fill="#1c1c1c" stroke="#1c1c1c" stroke-width="0.28">0</text>
<line x1="189.50" y1="458.38" x2="192.70" y2="458.38" stroke="#0a0a0a" stroke-width="1.1"/>
<text x="188.50" y="461.68" font-size="9.3" text-anchor="end" font-weight="normal" fill="#1c1c1c" stroke="#1c1c1c" stroke-width="0.28">200</text>
<line x1="189.50" y1="439.15" x2="192.70" y2="439.15" stroke="#0a0a0a" stroke-width="1.1"/>
<text x="188.50" y="442.45" font-size="9.3" text-anchor="end" font-weight="normal" fill="#1c1c1c" stroke="#1c1c1c" stroke-width="0.28">400</text>
<line x1="189.50" y1="419.93" x2="192.70" y2="419.93" stroke="#0a0a0a" stroke-width="1.1"/>
<text x="188.50" y="423.23" font-size="9.3" text-anchor="end" font-weight="normal" fill="#1c1c1c" stroke="#1c1c1c" stroke-width="0.28">600</text>
<line x1="189.50" y1="400.70" x2="192.70" y2="400.70" stroke="#0a0a0a" stroke-width="1.1"/>
<text x="188.50" y="404.00" font-size="9.3" text-anchor="end" font-weight="normal" fill="#1c1c1c" stroke="#1c1c1c" stroke-width="0.28">800</text>
<line x1="192.73" y1="477.60" x2="192.73" y2="480.60" stroke="#0a0a0a" stroke-width="1.2"/>
<line x1="203.47" y1="477.60" x2="203.47" y2="480.60" stroke="#0a0a0a" stroke-width="1.2"/>
<line x1="214.21" y1="477.60" x2="214.21" y2="480.60" stroke="#0a0a0a" stroke-width="1.2"/>
<line x1="224.95" y1="477.60" x2="224.95" y2="480.60" stroke="#0a0a0a" stroke-width="1.2"/>
<line x1="235.69" y1="477.60" x2="235.69" y2="480.60" stroke="#0a0a0a" stroke-width="1.2"/>
<line x1="246.43" y1="477.60" x2="246.43" y2="480.60" stroke="#0a0a0a" stroke-width="1.2"/>
<line x1="257.17" y1="477.60" x2="257.17" y2="480.60" stroke="#0a0a0a" stroke-width="1.2"/>
<line x1="267.91" y1="477.60" x2="267.91" y2="480.60" stroke="#0a0a0a" stroke-width="1.2"/>
<line x1="278.65" y1="477.60" x2="278.65" y2="480.60" stroke="#0a0a0a" stroke-width="1.2"/>
<line x1="289.39" y1="477.60" x2="289.39" y2="480.60" stroke="#0a0a0a" stroke-width="1.2"/>
<line x1="300.13" y1="477.60" x2="300.13" y2="480.60" stroke="#0a0a0a" stroke-width="1.2"/>
<line x1="310.87" y1="477.60" x2="310.87" y2="480.60" stroke="#0a0a0a" stroke-width="1.2"/>
<line x1="321.61" y1="477.60" x2="321.61" y2="480.60" stroke="#0a0a0a" stroke-width="1.2"/>
<line x1="332.35" y1="477.60" x2="332.35" y2="480.60" stroke="#0a0a0a" stroke-width="1.2"/>
<line x1="343.09" y1="477.60" x2="343.09" y2="480.60" stroke="#0a0a0a" stroke-width="1.2"/>
<line x1="353.83" y1="477.60" x2="353.83" y2="480.60" stroke="#0a0a0a" stroke-width="1.2"/>
<line x1="364.57" y1="477.60" x2="364.57" y2="480.60" stroke="#0a0a0a" stroke-width="1.2"/>
<line x1="375.31" y1="477.60" x2="375.31" y2="480.60" stroke="#0a0a0a" stroke-width="1.2"/>
<line x1="386.05" y1="477.60" x2="386.05" y2="480.60" stroke="#0a0a0a" stroke-width="1.2"/>
<line x1="396.79" y1="477.60" x2="396.79" y2="480.60" stroke="#0a0a0a" stroke-width="1.2"/>
<line x1="407.53" y1="477.60" x2="407.53" y2="480.60" stroke="#0a0a0a" stroke-width="1.2"/>
<line x1="418.27" y1="477.60" x2="418.27" y2="480.60" stroke="#0a0a0a" stroke-width="1.2"/>
<line x1="429.01" y1="477.60" x2="429.01" y2="480.60" stroke="#0a0a0a" stroke-width="1.2"/>
<line x1="439.75" y1="477.60" x2="439.75" y2="480.60" stroke="#0a0a0a" stroke-width="1.2"/>
<line x1="450.49" y1="477.60" x2="450.49" y2="480.60" stroke="#0a0a0a" stroke-width="1.2"/>
<line x1="461.23" y1="477.60" x2="461.23" y2="480.60" stroke="#0a0a0a" stroke-width="1.2"/>
<line x1="471.97" y1="477.60" x2="471.97" y2="480.60" stroke="#0a0a0a" stroke-width="1.2"/>
<line x1="482.71" y1="477.60" x2="482.71" y2="480.60" stroke="#0a0a0a" stroke-width="1.2"/>
<line x1="493.45" y1="477.60" x2="493.45" y2="480.60" stroke="#0a0a0a" stroke-width="1.2"/>
<line x1="504.19" y1="477.60" x2="504.19" y2="480.60" stroke="#0a0a0a" stroke-width="1.2"/>
<line x1="514.93" y1="477.60" x2="514.93" y2="480.60" stroke="#0a0a0a" stroke-width="1.2"/>
<text x="201.30" y="485.60" font-size="9.4" text-anchor="end" font-weight="normal" fill="#1c1c1c" transform="rotate(-90 201.30 485.60)" stroke="#1c1c1c" stroke-width="0.28">CEL</text>
<text x="212.04" y="485.60" font-size="9.4" text-anchor="end" font-weight="normal" fill="#1c1c1c" transform="rotate(-90 212.04 485.60)" stroke="#1c1c1c" stroke-width="0.28">AAS</text>
<text x="222.78" y="485.60" font-size="9.4" text-anchor="end" font-weight="normal" fill="#1c1c1c" transform="rotate(-90 222.78 485.60)" stroke="#1c1c1c" stroke-width="0.28">ABV</text>
<text x="233.52" y="485.60" font-size="9.4" text-anchor="end" font-weight="normal" fill="#1c1c1c" transform="rotate(-90 233.52 485.60)" stroke="#1c1c1c" stroke-width="0.28">AHT</text>
<text x="244.26" y="485.60" font-size="9.4" text-anchor="end" font-weight="normal" fill="#1c1c1c" transform="rotate(-90 244.26 485.60)" stroke="#1c1c1c" stroke-width="0.28">CVV</text>
<text x="255.00" y="485.60" font-size="9.4" text-anchor="end" font-weight="normal" fill="#1c1c1c" transform="rotate(-90 255.00 485.60)" stroke="#1c1c1c" stroke-width="0.28">EIR</text>
<text x="265.74" y="485.60" font-size="9.4" text-anchor="end" font-weight="normal" fill="#1c1c1c" transform="rotate(-90 265.74 485.60)" stroke="#1c1c1c" stroke-width="0.28">FAQ</text>
<text x="276.48" y="485.60" font-size="9.4" text-anchor="end" font-weight="normal" fill="#1c1c1c" transform="rotate(-90 276.48 485.60)" stroke="#1c1c1c" stroke-width="0.28">FRQ</text>
<text x="287.22" y="485.60" font-size="9.4" text-anchor="end" font-weight="normal" fill="#1c1c1c" transform="rotate(-90 287.22 485.60)" stroke="#1c1c1c" stroke-width="0.28">GGT</text>
<text x="297.96" y="485.60" font-size="9.4" text-anchor="end" font-weight="normal" fill="#1c1c1c" transform="rotate(-90 297.96 485.60)" stroke="#1c1c1c" stroke-width="0.28">JLX</text>
<text x="308.70" y="485.60" font-size="9.4" text-anchor="end" font-weight="normal" fill="#1c1c1c" transform="rotate(-90 308.70 485.60)" stroke="#1c1c1c" stroke-width="0.28">LAJ</text>
<text x="319.44" y="485.60" font-size="9.4" text-anchor="end" font-weight="normal" fill="#1c1c1c" transform="rotate(-90 319.44 485.60)" stroke="#1c1c1c" stroke-width="0.28">LMB</text>
<text x="330.18" y="485.60" font-size="9.4" text-anchor="end" font-weight="normal" fill="#1c1c1c" transform="rotate(-90 330.18 485.60)" stroke="#1c1c1c" stroke-width="0.28">MBX</text>
<text x="340.92" y="485.60" font-size="9.4" text-anchor="end" font-weight="normal" fill="#1c1c1c" transform="rotate(-90 340.92 485.60)" stroke="#1c1c1c" stroke-width="0.28">NGI</text>
<text x="351.66" y="485.60" font-size="9.4" text-anchor="end" font-weight="normal" fill="#1c1c1c" transform="rotate(-90 351.66 485.60)" stroke="#1c1c1c" stroke-width="0.28">RSW</text>
<text x="362.40" y="485.60" font-size="9.4" text-anchor="end" font-weight="normal" fill="#1c1c1c" transform="rotate(-90 362.40 485.60)" stroke="#1c1c1c" stroke-width="0.28">ZIL</text>
<text x="373.14" y="485.60" font-size="9.4" text-anchor="end" font-weight="normal" fill="#1c1c1c" transform="rotate(-90 373.14 485.60)" stroke="#1c1c1c" stroke-width="0.28">ESK</text>
<text x="383.88" y="485.60" font-size="9.4" text-anchor="end" font-weight="normal" fill="#1c1c1c" transform="rotate(-90 383.88 485.60)" stroke="#1c1c1c" stroke-width="0.28">LSR</text>
<text x="394.62" y="485.60" font-size="9.4" text-anchor="end" font-weight="normal" fill="#1c1c1c" transform="rotate(-90 394.62 485.60)" stroke="#1c1c1c" stroke-width="0.28">EBM</text>
<text x="405.36" y="485.60" font-size="9.4" text-anchor="end" font-weight="normal" fill="#1c1c1c" transform="rotate(-90 405.36 485.60)" stroke="#1c1c1c" stroke-width="0.28">PMT</text>
<text x="416.10" y="485.60" font-size="9.4" text-anchor="end" font-weight="normal" fill="#1c1c1c" transform="rotate(-90 416.10 485.60)" stroke="#1c1c1c" stroke-width="0.28">TSJ</text>
<text x="426.84" y="485.60" font-size="9.4" text-anchor="end" font-weight="normal" fill="#1c1c1c" transform="rotate(-90 426.84 485.60)" stroke="#1c1c1c" stroke-width="0.28">IZA</text>
<text x="437.58" y="485.60" font-size="9.4" text-anchor="end" font-weight="normal" fill="#1c1c1c" transform="rotate(-90 437.58 485.60)" stroke="#1c1c1c" stroke-width="0.28">GSL</text>
<text x="448.32" y="485.60" font-size="9.4" text-anchor="end" font-weight="normal" fill="#1c1c1c" transform="rotate(-90 448.32 485.60)" stroke="#1c1c1c" stroke-width="0.28">JPF</text>
<text x="459.06" y="485.60" font-size="9.4" text-anchor="end" font-weight="normal" fill="#1c1c1c" transform="rotate(-90 459.06 485.60)" stroke="#1c1c1c" stroke-width="0.28">CSV</text>
<text x="469.80" y="485.60" font-size="9.4" text-anchor="end" font-weight="normal" fill="#1c1c1c" transform="rotate(-90 469.80 485.60)" stroke="#1c1c1c" stroke-width="0.28">MHX</text>
<text x="480.54" y="485.60" font-size="9.4" text-anchor="end" font-weight="normal" fill="#1c1c1c" transform="rotate(-90 480.54 485.60)" stroke="#1c1c1c" stroke-width="0.28">OMR</text>
<text x="491.28" y="485.60" font-size="9.4" text-anchor="end" font-weight="normal" fill="#1c1c1c" transform="rotate(-90 491.28 485.60)" stroke="#1c1c1c" stroke-width="0.28">TIS</text>
<text x="502.02" y="485.60" font-size="9.4" text-anchor="end" font-weight="normal" fill="#1c1c1c" transform="rotate(-90 502.02 485.60)" stroke="#1c1c1c" stroke-width="0.28">CODI</text>
<text x="512.76" y="485.60" font-size="9.4" text-anchor="end" font-weight="normal" fill="#1c1c1c" transform="rotate(-90 512.76 485.60)" stroke="#1c1c1c" stroke-width="0.28">pept</text>
<rect x="194.90" y="473.30" width="6.40" height="4.30" fill="#0a0a0a"/>
<rect x="205.64" y="473.30" width="6.40" height="4.30" fill="#0a0a0a"/>
<line x1="208.84" y1="470.80" x2="208.84" y2="473.80" stroke="#0a0a0a" stroke-width="1.3"/>
<line x1="205.84" y1="470.80" x2="211.84" y2="470.80" stroke="#0a0a0a" stroke-width="1.3"/>
<rect x="216.38" y="476.60" width="6.40" height="1.00" fill="#0a0a0a"/>
<rect x="227.12" y="424.80" width="6.40" height="52.80" fill="#0a0a0a"/>
<line x1="230.32" y1="421.00" x2="230.32" y2="425.30" stroke="#0a0a0a" stroke-width="1.3"/>
<line x1="227.32" y1="421.00" x2="233.32" y2="421.00" stroke="#0a0a0a" stroke-width="1.3"/>
<rect x="237.86" y="471.30" width="6.40" height="6.30" fill="#0a0a0a"/>
<rect x="248.60" y="477.60" width="6.40" height="1.80" fill="#0a0a0a"/>
<rect x="259.34" y="474.00" width="6.40" height="3.60" fill="#0a0a0a"/>
<rect x="270.08" y="474.50" width="6.40" height="3.10" fill="#0a0a0a"/>
<line x1="273.28" y1="470.00" x2="273.28" y2="475.00" stroke="#0a0a0a" stroke-width="1.3"/>
<line x1="270.28" y1="470.00" x2="276.28" y2="470.00" stroke="#0a0a0a" stroke-width="1.3"/>
<rect x="280.82" y="442.30" width="6.40" height="35.30" fill="#0a0a0a"/>
<line x1="284.02" y1="434.80" x2="284.02" y2="442.80" stroke="#0a0a0a" stroke-width="1.3"/>
<line x1="281.02" y1="434.80" x2="287.02" y2="434.80" stroke="#0a0a0a" stroke-width="1.3"/>
<rect x="291.56" y="467.00" width="6.40" height="10.60" fill="#0a0a0a"/>
<line x1="294.76" y1="463.00" x2="294.76" y2="467.50" stroke="#0a0a0a" stroke-width="1.3"/>
<line x1="291.76" y1="463.00" x2="297.76" y2="463.00" stroke="#0a0a0a" stroke-width="1.3"/>
<rect x="302.30" y="463.30" width="6.40" height="14.30" fill="#0a0a0a"/>
<line x1="305.50" y1="455.00" x2="305.50" y2="463.80" stroke="#0a0a0a" stroke-width="1.3"/>
<line x1="302.50" y1="455.00" x2="308.50" y2="455.00" stroke="#0a0a0a" stroke-width="1.3"/>
<rect x="313.04" y="476.40" width="6.40" height="1.20" fill="#0a0a0a"/>
<rect x="323.78" y="474.00" width="6.40" height="3.60" fill="#0a0a0a"/>
<rect x="334.52" y="474.50" width="6.40" height="3.10" fill="#0a0a0a"/>
<rect x="345.26" y="476.40" width="6.40" height="1.20" fill="#0a0a0a"/>
<rect x="356.00" y="474.00" width="6.40" height="3.60" fill="#0a0a0a"/>
<rect x="366.74" y="477.60" width="6.40" height="2.00" fill="#0a0a0a"/>
<rect x="377.48" y="425.50" width="6.40" height="52.10" fill="#0a0a0a"/>
<line x1="380.68" y1="419.80" x2="380.68" y2="426.00" stroke="#0a0a0a" stroke-width="1.3"/>
<line x1="377.68" y1="419.80" x2="383.68" y2="419.80" stroke="#0a0a0a" stroke-width="1.3"/>
<rect x="388.22" y="470.80" width="6.40" height="6.80" fill="#0a0a0a"/>
<line x1="391.42" y1="466.00" x2="391.42" y2="471.30" stroke="#0a0a0a" stroke-width="1.3"/>
<line x1="388.42" y1="466.00" x2="394.42" y2="466.00" stroke="#0a0a0a" stroke-width="1.3"/>
<rect x="398.96" y="474.50" width="6.40" height="3.10" fill="#0a0a0a"/>
<line x1="402.16" y1="470.00" x2="402.16" y2="475.00" stroke="#0a0a0a" stroke-width="1.3"/>
<line x1="399.16" y1="470.00" x2="405.16" y2="470.00" stroke="#0a0a0a" stroke-width="1.3"/>
<rect x="409.70" y="473.30" width="6.40" height="4.30" fill="#0a0a0a"/>
<rect x="420.44" y="471.50" width="6.40" height="6.10" fill="#0a0a0a"/>
<line x1="423.64" y1="465.80" x2="423.64" y2="472.00" stroke="#0a0a0a" stroke-width="1.3"/>
<line x1="420.64" y1="465.80" x2="426.64" y2="465.80" stroke="#0a0a0a" stroke-width="1.3"/>
<rect x="431.18" y="428.50" width="6.40" height="49.10" fill="#0a0a0a"/>
<line x1="434.38" y1="427.30" x2="434.38" y2="429.00" stroke="#0a0a0a" stroke-width="1.3"/>
<line x1="431.38" y1="427.30" x2="437.38" y2="427.30" stroke="#0a0a0a" stroke-width="1.3"/>
<rect x="441.92" y="475.00" width="6.40" height="2.60" fill="#0a0a0a"/>
<rect x="452.66" y="472.50" width="6.40" height="5.10" fill="#0a0a0a"/>
<rect x="463.40" y="472.00" width="6.40" height="5.60" fill="#0a0a0a"/>
<line x1="466.60" y1="470.00" x2="466.60" y2="472.50" stroke="#0a0a0a" stroke-width="1.3"/>
<line x1="463.60" y1="470.00" x2="469.60" y2="470.00" stroke="#0a0a0a" stroke-width="1.3"/>
<rect x="474.14" y="457.80" width="6.40" height="19.80" fill="#0a0a0a"/>
<line x1="477.34" y1="453.50" x2="477.34" y2="458.30" stroke="#0a0a0a" stroke-width="1.3"/>
<line x1="474.34" y1="453.50" x2="480.34" y2="453.50" stroke="#0a0a0a" stroke-width="1.3"/>
<rect x="484.88" y="446.00" width="6.40" height="31.60" fill="#0a0a0a"/>
<line x1="488.08" y1="441.50" x2="488.08" y2="446.50" stroke="#0a0a0a" stroke-width="1.3"/>
<line x1="485.08" y1="441.50" x2="491.08" y2="441.50" stroke="#0a0a0a" stroke-width="1.3"/>
<rect x="495.62" y="472.80" width="6.40" height="4.80" fill="#0a0a0a"/>
<line x1="498.82" y1="470.80" x2="498.82" y2="473.30" stroke="#0a0a0a" stroke-width="1.3"/>
<line x1="495.82" y1="470.80" x2="501.82" y2="470.80" stroke="#0a0a0a" stroke-width="1.3"/>
<rect x="506.36" y="419.80" width="6.40" height="57.80" fill="#0a0a0a"/>
<text x="298.30" y="400.00" font-size="9.3" text-anchor="start" font-weight="normal" fill="#1c1c1c" stroke="#1c1c1c" stroke-width="0.28">CMV-IE1 / HLA-B8</text>
<line x1="190.70" y1="529.20" x2="190.70" y2="611.30" stroke="#1a1a1a" stroke-width="1.05"/>
<line x1="190.20" y1="610.80" x2="512.50" y2="610.80" stroke="#0a0a0a" stroke-width="1.15"/>
<line x1="188.50" y1="610.80" x2="190.70" y2="610.80" stroke="#0a0a0a" stroke-width="1.1"/>
<text x="184.60" y="614.70" font-size="9.3" text-anchor="end" font-weight="normal" fill="#1c1c1c" stroke="#1c1c1c" stroke-width="0.28">0</text>
<line x1="188.50" y1="590.50" x2="190.70" y2="590.50" stroke="#0a0a0a" stroke-width="1.1"/>
<text x="184.60" y="594.40" font-size="9.3" text-anchor="end" font-weight="normal" fill="#1c1c1c" stroke="#1c1c1c" stroke-width="0.28">200</text>
<line x1="188.50" y1="570.20" x2="190.70" y2="570.20" stroke="#0a0a0a" stroke-width="1.1"/>
<text x="184.60" y="574.10" font-size="9.3" text-anchor="end" font-weight="normal" fill="#1c1c1c" stroke="#1c1c1c" stroke-width="0.28">400</text>
<line x1="188.50" y1="549.90" x2="190.70" y2="549.90" stroke="#0a0a0a" stroke-width="1.1"/>
<text x="184.60" y="553.80" font-size="9.3" text-anchor="end" font-weight="normal" fill="#1c1c1c" stroke="#1c1c1c" stroke-width="0.28">600</text>
<line x1="188.50" y1="529.60" x2="190.70" y2="529.60" stroke="#0a0a0a" stroke-width="1.1"/>
<text x="184.60" y="533.50" font-size="9.3" text-anchor="end" font-weight="normal" fill="#1c1c1c" stroke="#1c1c1c" stroke-width="0.28">800</text>
<line x1="190.74" y1="610.80" x2="190.74" y2="613.80" stroke="#0a0a0a" stroke-width="1.2"/>
<line x1="205.96" y1="610.80" x2="205.96" y2="613.80" stroke="#0a0a0a" stroke-width="1.2"/>
<line x1="221.18" y1="610.80" x2="221.18" y2="613.80" stroke="#0a0a0a" stroke-width="1.2"/>
<line x1="236.40" y1="610.80" x2="236.40" y2="613.80" stroke="#0a0a0a" stroke-width="1.2"/>
<line x1="251.62" y1="610.80" x2="251.62" y2="613.80" stroke="#0a0a0a" stroke-width="1.2"/>
<line x1="266.84" y1="610.80" x2="266.84" y2="613.80" stroke="#0a0a0a" stroke-width="1.2"/>
<line x1="282.06" y1="610.80" x2="282.06" y2="613.80" stroke="#0a0a0a" stroke-width="1.2"/>
<line x1="297.28" y1="610.80" x2="297.28" y2="613.80" stroke="#0a0a0a" stroke-width="1.2"/>
<line x1="312.50" y1="610.80" x2="312.50" y2="613.80" stroke="#0a0a0a" stroke-width="1.2"/>
<line x1="327.72" y1="610.80" x2="327.72" y2="613.80" stroke="#0a0a0a" stroke-width="1.2"/>
<line x1="342.94" y1="610.80" x2="342.94" y2="613.80" stroke="#0a0a0a" stroke-width="1.2"/>
<line x1="358.16" y1="610.80" x2="358.16" y2="613.80" stroke="#0a0a0a" stroke-width="1.2"/>
<line x1="373.38" y1="610.80" x2="373.38" y2="613.80" stroke="#0a0a0a" stroke-width="1.2"/>
<line x1="388.60" y1="610.80" x2="388.60" y2="613.80" stroke="#0a0a0a" stroke-width="1.2"/>
<line x1="403.82" y1="610.80" x2="403.82" y2="613.80" stroke="#0a0a0a" stroke-width="1.2"/>
<line x1="419.04" y1="610.80" x2="419.04" y2="613.80" stroke="#0a0a0a" stroke-width="1.2"/>
<line x1="434.26" y1="610.80" x2="434.26" y2="613.80" stroke="#0a0a0a" stroke-width="1.2"/>
<line x1="449.48" y1="610.80" x2="449.48" y2="613.80" stroke="#0a0a0a" stroke-width="1.2"/>
<line x1="464.70" y1="610.80" x2="464.70" y2="613.80" stroke="#0a0a0a" stroke-width="1.2"/>
<line x1="479.92" y1="610.80" x2="479.92" y2="613.80" stroke="#0a0a0a" stroke-width="1.2"/>
<line x1="496.01" y1="610.80" x2="496.01" y2="613.80" stroke="#0a0a0a" stroke-width="1.2"/>
<line x1="512.99" y1="610.80" x2="512.99" y2="613.80" stroke="#0a0a0a" stroke-width="1.2"/>
<text x="201.60" y="616.60" font-size="9.4" text-anchor="end" font-weight="normal" fill="#1c1c1c" transform="rotate(-90 201.60 616.60)" stroke="#1c1c1c" stroke-width="0.28">CEL</text>
<text x="216.97" y="616.60" font-size="9.4" text-anchor="end" font-weight="normal" fill="#1c1c1c" transform="rotate(-90 216.97 616.60)" stroke="#1c1c1c" stroke-width="0.28">AAS</text>
<text x="232.34" y="616.60" font-size="9.4" text-anchor="end" font-weight="normal" fill="#1c1c1c" transform="rotate(-90 232.34 616.60)" stroke="#1c1c1c" stroke-width="0.28">ABV</text>
<text x="247.71" y="616.60" font-size="9.4" text-anchor="end" font-weight="normal" fill="#1c1c1c" transform="rotate(-90 247.71 616.60)" stroke="#1c1c1c" stroke-width="0.28">AHT</text>
<text x="263.08" y="616.60" font-size="9.4" text-anchor="end" font-weight="normal" fill="#1c1c1c" transform="rotate(-90 263.08 616.60)" stroke="#1c1c1c" stroke-width="0.28">CVV</text>
<text x="278.45" y="616.60" font-size="9.4" text-anchor="end" font-weight="normal" fill="#1c1c1c" transform="rotate(-90 278.45 616.60)" stroke="#1c1c1c" stroke-width="0.28">EIR</text>
<text x="293.82" y="616.60" font-size="9.4" text-anchor="end" font-weight="normal" fill="#1c1c1c" transform="rotate(-90 293.82 616.60)" stroke="#1c1c1c" stroke-width="0.28">FAQ</text>
<text x="309.19" y="616.60" font-size="9.4" text-anchor="end" font-weight="normal" fill="#1c1c1c" transform="rotate(-90 309.19 616.60)" stroke="#1c1c1c" stroke-width="0.28">FRQ</text>
<text x="324.56" y="616.60" font-size="9.4" text-anchor="end" font-weight="normal" fill="#1c1c1c" transform="rotate(-90 324.56 616.60)" stroke="#1c1c1c" stroke-width="0.28">GGT</text>
<text x="339.93" y="616.60" font-size="9.4" text-anchor="end" font-weight="normal" fill="#1c1c1c" transform="rotate(-90 339.93 616.60)" stroke="#1c1c1c" stroke-width="0.28">JLX</text>
<text x="355.30" y="616.60" font-size="9.4" text-anchor="end" font-weight="normal" fill="#1c1c1c" transform="rotate(-90 355.30 616.60)" stroke="#1c1c1c" stroke-width="0.28">LAJ</text>
<text x="370.67" y="616.60" font-size="9.4" text-anchor="end" font-weight="normal" fill="#1c1c1c" transform="rotate(-90 370.67 616.60)" stroke="#1c1c1c" stroke-width="0.28">LMB</text>
<text x="386.04" y="616.60" font-size="9.4" text-anchor="end" font-weight="normal" fill="#1c1c1c" transform="rotate(-90 386.04 616.60)" stroke="#1c1c1c" stroke-width="0.28">MBX</text>
<text x="401.41" y="616.60" font-size="9.4" text-anchor="end" font-weight="normal" fill="#1c1c1c" transform="rotate(-90 401.41 616.60)" stroke="#1c1c1c" stroke-width="0.28">NGI</text>
<text x="416.78" y="616.60" font-size="9.4" text-anchor="end" font-weight="normal" fill="#1c1c1c" transform="rotate(-90 416.78 616.60)" stroke="#1c1c1c" stroke-width="0.28">RSW</text>
<text x="432.15" y="616.60" font-size="9.4" text-anchor="end" font-weight="normal" fill="#1c1c1c" transform="rotate(-90 432.15 616.60)" stroke="#1c1c1c" stroke-width="0.28">ZIL</text>
<text x="447.52" y="616.60" font-size="9.4" text-anchor="end" font-weight="normal" fill="#1c1c1c" transform="rotate(-90 447.52 616.60)" stroke="#1c1c1c" stroke-width="0.28">ESK</text>
<text x="462.89" y="616.60" font-size="9.4" text-anchor="end" font-weight="normal" fill="#1c1c1c" transform="rotate(-90 462.89 616.60)" stroke="#1c1c1c" stroke-width="0.28">LSR</text>
<text x="478.26" y="616.60" font-size="9.4" text-anchor="end" font-weight="normal" fill="#1c1c1c" transform="rotate(-90 478.26 616.60)" stroke="#1c1c1c" stroke-width="0.28">EBM</text>
<text x="493.63" y="616.60" font-size="9.4" text-anchor="end" font-weight="normal" fill="#1c1c1c" transform="rotate(-90 493.63 616.60)" stroke="#1c1c1c" stroke-width="0.28">PMT</text>
<text x="509.00" y="616.60" font-size="9.4" text-anchor="end" font-weight="normal" fill="#1c1c1c" transform="rotate(-90 509.00 616.60)" stroke="#1c1c1c" stroke-width="0.28">pept</text>
<rect x="194.80" y="561.30" width="7.10" height="49.50" fill="#0a0a0a"/>
<rect x="210.02" y="609.30" width="7.10" height="1.50" fill="#0a0a0a"/>
<rect x="225.24" y="610.20" width="7.10" height="0.60" fill="#0a0a0a"/>
<rect x="240.46" y="608.50" width="7.10" height="2.30" fill="#0a0a0a"/>
<line x1="244.01" y1="606.00" x2="244.01" y2="609.00" stroke="#0a0a0a" stroke-width="1.1"/>
<line x1="241.61" y1="606.00" x2="246.41" y2="606.00" stroke="#0a0a0a" stroke-width="1.1"/>
<rect x="255.68" y="573.50" width="7.10" height="37.30" fill="#0a0a0a"/>
<line x1="259.23" y1="571.30" x2="259.23" y2="574.00" stroke="#0a0a0a" stroke-width="1.1"/>
<line x1="256.83" y1="571.30" x2="261.63" y2="571.30" stroke="#0a0a0a" stroke-width="1.1"/>
<rect x="270.90" y="606.50" width="7.10" height="4.30" fill="#0a0a0a"/>
<line x1="274.45" y1="605.00" x2="274.45" y2="607.00" stroke="#0a0a0a" stroke-width="1.1"/>
<line x1="272.05" y1="605.00" x2="276.85" y2="605.00" stroke="#0a0a0a" stroke-width="1.1"/>
<rect x="286.12" y="602.80" width="7.10" height="8.00" fill="#0a0a0a"/>
<rect x="301.34" y="547.80" width="7.10" height="63.00" fill="#0a0a0a"/>
<rect x="316.56" y="605.00" width="7.10" height="5.80" fill="#0a0a0a"/>
<rect x="331.78" y="598.30" width="7.10" height="12.50" fill="#0a0a0a"/>
<rect x="347.00" y="560.80" width="7.10" height="50.00" fill="#0a0a0a"/>
<rect x="362.22" y="609.50" width="7.10" height="1.30" fill="#0a0a0a"/>
<line x1="365.77" y1="606.50" x2="365.77" y2="610.00" stroke="#0a0a0a" stroke-width="1.1"/>
<line x1="363.37" y1="606.50" x2="368.17" y2="606.50" stroke="#0a0a0a" stroke-width="1.1"/>
<rect x="377.44" y="610.30" width="7.10" height="0.50" fill="#0a0a0a"/>
<rect x="392.66" y="563.30" width="7.10" height="47.50" fill="#0a0a0a"/>
<rect x="407.88" y="608.90" width="7.10" height="1.90" fill="#0a0a0a"/>
<rect x="423.10" y="608.90" width="7.10" height="1.90" fill="#0a0a0a"/>
<rect x="438.32" y="609.50" width="7.10" height="1.30" fill="#0a0a0a"/>
<rect x="453.54" y="575.30" width="7.10" height="35.50" fill="#0a0a0a"/>
<rect x="468.76" y="607.80" width="7.10" height="3.00" fill="#0a0a0a"/>
<rect x="483.98" y="607.80" width="7.10" height="3.00" fill="#0a0a0a"/>
<rect x="500.95" y="565.00" width="7.10" height="45.80" fill="#0a0a0a"/>
<line x1="504.50" y1="562.50" x2="504.50" y2="565.50" stroke="#0a0a0a" stroke-width="1.1"/>
<line x1="502.10" y1="562.50" x2="506.90" y2="562.50" stroke="#0a0a0a" stroke-width="1.1"/>
<text x="286.30" y="533.00" font-size="9.3" text-anchor="start" font-weight="normal" fill="#1c1c1c" stroke="#1c1c1c" stroke-width="0.28">EBV-BMLF1 / HLA-A2 line</text>
<text x="201.60" y="554.50" font-size="9.3" text-anchor="middle" font-weight="normal" fill="#1c1c1c" stroke="#1c1c1c" stroke-width="0.28">A11</text>
<text x="259.30" y="569.20" font-size="9.3" text-anchor="middle" font-weight="normal" fill="#1c1c1c" stroke="#1c1c1c" stroke-width="0.28">A11</text>
<text x="305.20" y="545.80" font-size="9.3" text-anchor="middle" font-weight="normal" fill="#1c1c1c" stroke="#1c1c1c" stroke-width="0.28">A11</text>
<text x="349.60" y="555.00" font-size="9.3" text-anchor="middle" font-weight="normal" fill="#1c1c1c" stroke="#1c1c1c" stroke-width="0.28">A11</text>
<text x="396.00" y="559.00" font-size="9.3" text-anchor="middle" font-weight="normal" fill="#1c1c1c" stroke="#1c1c1c" stroke-width="0.28">A11</text>
<line x1="190.20" y1="662.20" x2="190.20" y2="740.30" stroke="#1a1a1a" stroke-width="1.05"/>
<line x1="189.70" y1="739.80" x2="512.50" y2="739.80" stroke="#0a0a0a" stroke-width="1.15"/>
<line x1="188.20" y1="739.80" x2="190.20" y2="739.80" stroke="#0a0a0a" stroke-width="1.1"/>
<text x="186.70" y="742.80" font-size="9.3" text-anchor="end" font-weight="normal" fill="#1c1c1c" stroke="#1c1c1c" stroke-width="0.28">0</text>
<line x1="188.20" y1="720.50" x2="190.20" y2="720.50" stroke="#0a0a0a" stroke-width="1.1"/>
<text x="186.70" y="723.50" font-size="9.3" text-anchor="end" font-weight="normal" fill="#1c1c1c" stroke="#1c1c1c" stroke-width="0.28">300</text>
<line x1="188.20" y1="701.20" x2="190.20" y2="701.20" stroke="#0a0a0a" stroke-width="1.1"/>
<text x="186.70" y="704.20" font-size="9.3" text-anchor="end" font-weight="normal" fill="#1c1c1c" stroke="#1c1c1c" stroke-width="0.28">600</text>
<line x1="188.20" y1="681.90" x2="190.20" y2="681.90" stroke="#0a0a0a" stroke-width="1.1"/>
<text x="186.70" y="684.90" font-size="9.3" text-anchor="end" font-weight="normal" fill="#1c1c1c" stroke="#1c1c1c" stroke-width="0.28">900</text>
<line x1="188.20" y1="662.60" x2="190.20" y2="662.60" stroke="#0a0a0a" stroke-width="1.1"/>
<text x="186.70" y="665.60" font-size="9.3" text-anchor="end" font-weight="normal" fill="#1c1c1c" stroke="#1c1c1c" stroke-width="0.28">1200</text>
<line x1="190.42" y1="739.80" x2="190.42" y2="742.80" stroke="#0a0a0a" stroke-width="1.2"/>
<line x1="205.78" y1="739.80" x2="205.78" y2="742.80" stroke="#0a0a0a" stroke-width="1.2"/>
<line x1="221.13" y1="739.80" x2="221.13" y2="742.80" stroke="#0a0a0a" stroke-width="1.2"/>
<line x1="236.49" y1="739.80" x2="236.49" y2="742.80" stroke="#0a0a0a" stroke-width="1.2"/>
<line x1="251.84" y1="739.80" x2="251.84" y2="742.80" stroke="#0a0a0a" stroke-width="1.2"/>
<line x1="267.20" y1="739.80" x2="267.20" y2="742.80" stroke="#0a0a0a" stroke-width="1.2"/>
<line x1="282.55" y1="739.80" x2="282.55" y2="742.80" stroke="#0a0a0a" stroke-width="1.2"/>
<line x1="297.91" y1="739.80" x2="297.91" y2="742.80" stroke="#0a0a0a" stroke-width="1.2"/>
<line x1="313.26" y1="739.80" x2="313.26" y2="742.80" stroke="#0a0a0a" stroke-width="1.2"/>
<line x1="328.62" y1="739.80" x2="328.62" y2="742.80" stroke="#0a0a0a" stroke-width="1.2"/>
<line x1="343.97" y1="739.80" x2="343.97" y2="742.80" stroke="#0a0a0a" stroke-width="1.2"/>
<line x1="359.33" y1="739.80" x2="359.33" y2="742.80" stroke="#0a0a0a" stroke-width="1.2"/>
<line x1="374.68" y1="739.80" x2="374.68" y2="742.80" stroke="#0a0a0a" stroke-width="1.2"/>
<line x1="390.04" y1="739.80" x2="390.04" y2="742.80" stroke="#0a0a0a" stroke-width="1.2"/>
<line x1="405.39" y1="739.80" x2="405.39" y2="742.80" stroke="#0a0a0a" stroke-width="1.2"/>
<line x1="420.75" y1="739.80" x2="420.75" y2="742.80" stroke="#0a0a0a" stroke-width="1.2"/>
<line x1="436.10" y1="739.80" x2="436.10" y2="742.80" stroke="#0a0a0a" stroke-width="1.2"/>
<line x1="451.46" y1="739.80" x2="451.46" y2="742.80" stroke="#0a0a0a" stroke-width="1.2"/>
<line x1="466.81" y1="739.80" x2="466.81" y2="742.80" stroke="#0a0a0a" stroke-width="1.2"/>
<line x1="482.17" y1="739.80" x2="482.17" y2="742.80" stroke="#0a0a0a" stroke-width="1.2"/>
<line x1="497.52" y1="739.80" x2="497.52" y2="742.80" stroke="#0a0a0a" stroke-width="1.2"/>
<line x1="512.88" y1="739.80" x2="512.88" y2="742.80" stroke="#0a0a0a" stroke-width="1.2"/>
<text x="201.10" y="744.20" font-size="9.4" text-anchor="end" font-weight="normal" fill="#1c1c1c" transform="rotate(-90 201.10 744.20)" stroke="#1c1c1c" stroke-width="0.28">RTN</text>
<text x="216.45" y="744.20" font-size="9.4" text-anchor="end" font-weight="normal" fill="#1c1c1c" transform="rotate(-90 216.45 744.20)" stroke="#1c1c1c" stroke-width="0.28">GGT</text>
<text x="231.81" y="744.20" font-size="9.4" text-anchor="end" font-weight="normal" fill="#1c1c1c" transform="rotate(-90 231.81 744.20)" stroke="#1c1c1c" stroke-width="0.28">LSR</text>
<text x="247.16" y="744.20" font-size="9.4" text-anchor="end" font-weight="normal" fill="#1c1c1c" transform="rotate(-90 247.16 744.20)" stroke="#1c1c1c" stroke-width="0.28">NGZ</text>
<text x="262.52" y="744.20" font-size="9.4" text-anchor="end" font-weight="normal" fill="#1c1c1c" transform="rotate(-90 262.52 744.20)" stroke="#1c1c1c" stroke-width="0.28">AHT</text>
<text x="277.88" y="744.20" font-size="9.4" text-anchor="end" font-weight="normal" fill="#1c1c1c" transform="rotate(-90 277.88 744.20)" stroke="#1c1c1c" stroke-width="0.28">MWX</text>
<text x="293.23" y="744.20" font-size="9.4" text-anchor="end" font-weight="normal" fill="#1c1c1c" transform="rotate(-90 293.23 744.20)" stroke="#1c1c1c" stroke-width="0.28">NGI</text>
<text x="308.58" y="744.20" font-size="9.4" text-anchor="end" font-weight="normal" fill="#1c1c1c" transform="rotate(-90 308.58 744.20)" stroke="#1c1c1c" stroke-width="0.28">RSB</text>
<text x="323.94" y="744.20" font-size="9.4" text-anchor="end" font-weight="normal" fill="#1c1c1c" transform="rotate(-90 323.94 744.20)" stroke="#1c1c1c" stroke-width="0.28">JPF</text>
<text x="339.29" y="744.20" font-size="9.4" text-anchor="end" font-weight="normal" fill="#1c1c1c" transform="rotate(-90 339.29 744.20)" stroke="#1c1c1c" stroke-width="0.28">WHO</text>
<text x="354.65" y="744.20" font-size="9.4" text-anchor="end" font-weight="normal" fill="#1c1c1c" transform="rotate(-90 354.65 744.20)" stroke="#1c1c1c" stroke-width="0.28">LMB</text>
<text x="370.00" y="744.20" font-size="9.4" text-anchor="end" font-weight="normal" fill="#1c1c1c" transform="rotate(-90 370.00 744.20)" stroke="#1c1c1c" stroke-width="0.28">FBV</text>
<text x="385.36" y="744.20" font-size="9.4" text-anchor="end" font-weight="normal" fill="#1c1c1c" transform="rotate(-90 385.36 744.20)" stroke="#1c1c1c" stroke-width="0.28">MHX</text>
<text x="400.72" y="744.20" font-size="9.4" text-anchor="end" font-weight="normal" fill="#1c1c1c" transform="rotate(-90 400.72 744.20)" stroke="#1c1c1c" stroke-width="0.28">AKB</text>
<text x="416.07" y="744.20" font-size="9.4" text-anchor="end" font-weight="normal" fill="#1c1c1c" transform="rotate(-90 416.07 744.20)" stroke="#1c1c1c" stroke-width="0.28">PSJ</text>
<text x="431.43" y="744.20" font-size="9.4" text-anchor="end" font-weight="normal" fill="#1c1c1c" transform="rotate(-90 431.43 744.20)" stroke="#1c1c1c" stroke-width="0.28">MBX</text>
<text x="446.78" y="744.20" font-size="9.4" text-anchor="end" font-weight="normal" fill="#1c1c1c" transform="rotate(-90 446.78 744.20)" stroke="#1c1c1c" stroke-width="0.28">IZA</text>
<text x="462.13" y="744.20" font-size="9.4" text-anchor="end" font-weight="normal" fill="#1c1c1c" transform="rotate(-90 462.13 744.20)" stroke="#1c1c1c" stroke-width="0.28">FAQ</text>
<text x="477.49" y="744.20" font-size="9.4" text-anchor="end" font-weight="normal" fill="#1c1c1c" transform="rotate(-90 477.49 744.20)" stroke="#1c1c1c" stroke-width="0.28">EMB</text>
<text x="492.85" y="744.20" font-size="9.4" text-anchor="end" font-weight="normal" fill="#1c1c1c" transform="rotate(-90 492.85 744.20)" stroke="#1c1c1c" stroke-width="0.28">ABV</text>
<text x="508.20" y="744.20" font-size="9.4" text-anchor="end" font-weight="normal" fill="#1c1c1c" transform="rotate(-90 508.20 744.20)" stroke="#1c1c1c" stroke-width="0.28">pept</text>
<rect x="194.45" y="681.30" width="7.30" height="58.50" fill="#0a0a0a"/>
<line x1="198.10" y1="675.80" x2="198.10" y2="681.80" stroke="#0a0a0a" stroke-width="1.1"/>
<line x1="196.10" y1="675.80" x2="200.10" y2="675.80" stroke="#0a0a0a" stroke-width="1.1"/>
<rect x="209.80" y="739.20" width="7.30" height="0.60" fill="#0a0a0a"/>
<rect x="225.16" y="739.30" width="7.30" height="0.50" fill="#0a0a0a"/>
<rect x="240.51" y="739.40" width="7.30" height="0.40" fill="#0a0a0a"/>
<rect x="255.87" y="678.50" width="7.30" height="61.30" fill="#0a0a0a"/>
<line x1="259.52" y1="676.50" x2="259.52" y2="679.00" stroke="#0a0a0a" stroke-width="1.1"/>
<line x1="257.52" y1="676.50" x2="261.52" y2="676.50" stroke="#0a0a0a" stroke-width="1.1"/>
<rect x="271.23" y="739.40" width="7.30" height="0.40" fill="#0a0a0a"/>
<rect x="286.58" y="739.00" width="7.30" height="0.80" fill="#0a0a0a"/>
<rect x="301.94" y="679.50" width="7.30" height="60.30" fill="#0a0a0a"/>
<line x1="305.58" y1="669.00" x2="305.58" y2="680.00" stroke="#0a0a0a" stroke-width="1.1"/>
<line x1="303.58" y1="669.00" x2="307.58" y2="669.00" stroke="#0a0a0a" stroke-width="1.1"/>
<rect x="317.29" y="683.30" width="7.30" height="56.50" fill="#0a0a0a"/>
<line x1="320.94" y1="680.80" x2="320.94" y2="683.80" stroke="#0a0a0a" stroke-width="1.1"/>
<line x1="318.94" y1="680.80" x2="322.94" y2="680.80" stroke="#0a0a0a" stroke-width="1.1"/>
<rect x="332.64" y="739.20" width="7.30" height="0.60" fill="#0a0a0a"/>
<rect x="348.00" y="739.30" width="7.30" height="0.50" fill="#0a0a0a"/>
<rect x="363.36" y="680.00" width="7.30" height="59.80" fill="#0a0a0a"/>
<line x1="367.00" y1="670.30" x2="367.00" y2="680.50" stroke="#0a0a0a" stroke-width="1.1"/>
<line x1="365.00" y1="670.30" x2="369.00" y2="670.30" stroke="#0a0a0a" stroke-width="1.1"/>
<rect x="378.71" y="724.30" width="7.30" height="15.50" fill="#0a0a0a"/>
<line x1="382.36" y1="722.50" x2="382.36" y2="724.80" stroke="#0a0a0a" stroke-width="1.1"/>
<line x1="380.36" y1="722.50" x2="384.36" y2="722.50" stroke="#0a0a0a" stroke-width="1.1"/>
<rect x="394.07" y="739.40" width="7.30" height="0.40" fill="#0a0a0a"/>
<rect x="409.42" y="739.20" width="7.30" height="0.60" fill="#0a0a0a"/>
<rect x="424.78" y="739.40" width="7.30" height="0.40" fill="#0a0a0a"/>
<rect x="440.13" y="739.40" width="7.30" height="0.40" fill="#0a0a0a"/>
<rect x="455.49" y="739.20" width="7.30" height="0.60" fill="#0a0a0a"/>
<rect x="470.84" y="738.30" width="7.30" height="1.50" fill="#0a0a0a"/>
<line x1="474.49" y1="737.00" x2="474.49" y2="738.80" stroke="#0a0a0a" stroke-width="1.1"/>
<line x1="472.49" y1="737.00" x2="476.49" y2="737.00" stroke="#0a0a0a" stroke-width="1.1"/>
<rect x="486.20" y="739.40" width="7.30" height="0.40" fill="#0a0a0a"/>
<rect x="501.55" y="670.00" width="7.30" height="69.80" fill="#0a0a0a"/>
<line x1="505.20" y1="667.00" x2="505.20" y2="670.50" stroke="#0a0a0a" stroke-width="1.1"/>
<line x1="503.20" y1="667.00" x2="507.20" y2="667.00" stroke="#0a0a0a" stroke-width="1.1"/>
<text x="280.80" y="665.20" font-size="9.3" text-anchor="start" font-weight="normal" fill="#1c1c1c" stroke="#1c1c1c" stroke-width="0.28">VZV-IE62 / HLA-A2 line PKO</text>
<line x1="192.40" y1="798.30" x2="192.40" y2="874.60" stroke="#1a1a1a" stroke-width="1.05"/>
<line x1="191.90" y1="874.10" x2="520.00" y2="874.10" stroke="#0a0a0a" stroke-width="1.15"/>
<line x1="189.70" y1="874.10" x2="192.40" y2="874.10" stroke="#0a0a0a" stroke-width="1.1"/>
<text x="187.60" y="877.40" font-size="9.3" text-anchor="end" font-weight="normal" fill="#1c1c1c" stroke="#1c1c1c" stroke-width="0.28">0</text>
<line x1="189.70" y1="855.25" x2="192.40" y2="855.25" stroke="#0a0a0a" stroke-width="1.1"/>
<text x="187.60" y="858.55" font-size="9.3" text-anchor="end" font-weight="normal" fill="#1c1c1c" stroke="#1c1c1c" stroke-width="0.28">200</text>
<line x1="189.70" y1="836.40" x2="192.40" y2="836.40" stroke="#0a0a0a" stroke-width="1.1"/>
<text x="187.60" y="839.70" font-size="9.3" text-anchor="end" font-weight="normal" fill="#1c1c1c" stroke="#1c1c1c" stroke-width="0.28">400</text>
<line x1="189.70" y1="817.55" x2="192.40" y2="817.55" stroke="#0a0a0a" stroke-width="1.1"/>
<text x="187.60" y="820.85" font-size="9.3" text-anchor="end" font-weight="normal" fill="#1c1c1c" stroke="#1c1c1c" stroke-width="0.28">600</text>
<line x1="189.70" y1="798.70" x2="192.40" y2="798.70" stroke="#0a0a0a" stroke-width="1.1"/>
<text x="187.60" y="802.00" font-size="9.3" text-anchor="end" font-weight="normal" fill="#1c1c1c" stroke="#1c1c1c" stroke-width="0.28">800</text>
<line x1="192.40" y1="874.10" x2="192.40" y2="877.10" stroke="#0a0a0a" stroke-width="1.2"/>
<line x1="214.60" y1="874.10" x2="214.60" y2="877.10" stroke="#0a0a0a" stroke-width="1.2"/>
<line x1="236.65" y1="874.10" x2="236.65" y2="877.10" stroke="#0a0a0a" stroke-width="1.2"/>
<line x1="258.50" y1="874.10" x2="258.50" y2="877.10" stroke="#0a0a0a" stroke-width="1.2"/>
<line x1="280.35" y1="874.10" x2="280.35" y2="877.10" stroke="#0a0a0a" stroke-width="1.2"/>
<line x1="302.20" y1="874.10" x2="302.20" y2="877.10" stroke="#0a0a0a" stroke-width="1.2"/>
<line x1="324.05" y1="874.10" x2="324.05" y2="877.10" stroke="#0a0a0a" stroke-width="1.2"/>
<line x1="346.00" y1="874.10" x2="346.00" y2="877.10" stroke="#0a0a0a" stroke-width="1.2"/>
<line x1="368.10" y1="874.10" x2="368.10" y2="877.10" stroke="#0a0a0a" stroke-width="1.2"/>
<line x1="390.20" y1="874.10" x2="390.20" y2="877.10" stroke="#0a0a0a" stroke-width="1.2"/>
<line x1="412.10" y1="874.10" x2="412.10" y2="877.10" stroke="#0a0a0a" stroke-width="1.2"/>
<line x1="433.40" y1="874.10" x2="433.40" y2="877.10" stroke="#0a0a0a" stroke-width="1.2"/>
<line x1="454.55" y1="874.10" x2="454.55" y2="877.10" stroke="#0a0a0a" stroke-width="1.2"/>
<line x1="476.05" y1="874.10" x2="476.05" y2="877.10" stroke="#0a0a0a" stroke-width="1.2"/>
<line x1="497.60" y1="874.10" x2="497.60" y2="877.10" stroke="#0a0a0a" stroke-width="1.2"/>
<line x1="519.20" y1="874.10" x2="519.20" y2="877.10" stroke="#0a0a0a" stroke-width="1.2"/>
<text x="206.50" y="881.00" font-size="9.4" text-anchor="end" font-weight="normal" fill="#1c1c1c" transform="rotate(-90 206.50 881.00)" stroke="#1c1c1c" stroke-width="0.28">AHT</text>
<text x="228.70" y="881.00" font-size="9.4" text-anchor="end" font-weight="normal" fill="#1c1c1c" transform="rotate(-90 228.70 881.00)" stroke="#1c1c1c" stroke-width="0.28">ABV</text>
<text x="250.60" y="881.00" font-size="9.4" text-anchor="end" font-weight="normal" fill="#1c1c1c" transform="rotate(-90 250.60 881.00)" stroke="#1c1c1c" stroke-width="0.28">RSB</text>
<text x="272.40" y="881.00" font-size="9.4" text-anchor="end" font-weight="normal" fill="#1c1c1c" transform="rotate(-90 272.40 881.00)" stroke="#1c1c1c" stroke-width="0.28">AKB</text>
<text x="294.30" y="881.00" font-size="9.4" text-anchor="end" font-weight="normal" fill="#1c1c1c" transform="rotate(-90 294.30 881.00)" stroke="#1c1c1c" stroke-width="0.28">FAQ</text>
<text x="316.10" y="881.00" font-size="9.4" text-anchor="end" font-weight="normal" fill="#1c1c1c" transform="rotate(-90 316.10 881.00)" stroke="#1c1c1c" stroke-width="0.28">GGT</text>
<text x="338.00" y="881.00" font-size="9.4" text-anchor="end" font-weight="normal" fill="#1c1c1c" transform="rotate(-90 338.00 881.00)" stroke="#1c1c1c" stroke-width="0.28">PSJ</text>
<text x="360.00" y="881.00" font-size="9.4" text-anchor="end" font-weight="normal" fill="#1c1c1c" transform="rotate(-90 360.00 881.00)" stroke="#1c1c1c" stroke-width="0.28">LMB</text>
<text x="382.20" y="881.00" font-size="9.4" text-anchor="end" font-weight="normal" fill="#1c1c1c" transform="rotate(-90 382.20 881.00)" stroke="#1c1c1c" stroke-width="0.28">MWX</text>
<text x="404.20" y="881.00" font-size="9.4" text-anchor="end" font-weight="normal" fill="#1c1c1c" transform="rotate(-90 404.20 881.00)" stroke="#1c1c1c" stroke-width="0.28">LSR</text>
<text x="426.00" y="881.00" font-size="9.4" text-anchor="end" font-weight="normal" fill="#1c1c1c" transform="rotate(-90 426.00 881.00)" stroke="#1c1c1c" stroke-width="0.28">EBM</text>
<text x="446.80" y="881.00" font-size="9.4" text-anchor="end" font-weight="normal" fill="#1c1c1c" transform="rotate(-90 446.80 881.00)" stroke="#1c1c1c" stroke-width="0.28">MHX</text>
<text x="468.30" y="881.00" font-size="9.4" text-anchor="end" font-weight="normal" fill="#1c1c1c" transform="rotate(-90 468.30 881.00)" stroke="#1c1c1c" stroke-width="0.28">NGZ</text>
<text x="489.80" y="881.00" font-size="9.4" text-anchor="end" font-weight="normal" fill="#1c1c1c" transform="rotate(-90 489.80 881.00)" stroke="#1c1c1c" stroke-width="0.28">FBV</text>
<text x="511.40" y="881.00" font-size="9.4" text-anchor="end" font-weight="normal" fill="#1c1c1c" transform="rotate(-90 511.40 881.00)" stroke="#1c1c1c" stroke-width="0.28">pept</text>
<rect x="198.00" y="821.30" width="11.00" height="52.80" fill="#0a0a0a"/>
<line x1="203.50" y1="819.30" x2="203.50" y2="821.80" stroke="#0a0a0a" stroke-width="1.3"/>
<line x1="200.70" y1="819.30" x2="206.30" y2="819.30" stroke="#0a0a0a" stroke-width="1.3"/>
<rect x="220.20" y="816.00" width="11.00" height="58.10" fill="#0a0a0a"/>
<rect x="242.10" y="810.00" width="11.00" height="64.10" fill="#0a0a0a"/>
<line x1="247.60" y1="809.30" x2="247.60" y2="810.50" stroke="#0a0a0a" stroke-width="1.3"/>
<line x1="244.80" y1="809.30" x2="250.40" y2="809.30" stroke="#0a0a0a" stroke-width="1.3"/>
<rect x="263.90" y="874.10" width="11.00" height="1.50" fill="#0a0a0a"/>
<rect x="285.80" y="868.80" width="11.00" height="5.30" fill="#0a0a0a"/>
<line x1="291.30" y1="863.50" x2="291.30" y2="869.30" stroke="#0a0a0a" stroke-width="1.3"/>
<line x1="288.50" y1="863.50" x2="294.10" y2="863.50" stroke="#0a0a0a" stroke-width="1.3"/>
<rect x="307.60" y="874.10" width="11.00" height="1.90" fill="#0a0a0a"/>
<rect x="329.50" y="833.80" width="11.00" height="40.30" fill="#0a0a0a"/>
<line x1="335.00" y1="833.20" x2="335.00" y2="834.30" stroke="#0a0a0a" stroke-width="1.3"/>
<line x1="332.20" y1="833.20" x2="337.80" y2="833.20" stroke="#0a0a0a" stroke-width="1.3"/>
<rect x="351.50" y="818.00" width="11.00" height="56.10" fill="#0a0a0a"/>
<line x1="357.00" y1="816.30" x2="357.00" y2="818.50" stroke="#0a0a0a" stroke-width="1.3"/>
<line x1="354.20" y1="816.30" x2="359.80" y2="816.30" stroke="#0a0a0a" stroke-width="1.3"/>
<rect x="373.70" y="873.30" width="11.00" height="0.80" fill="#0a0a0a"/>
<rect x="395.70" y="874.10" width="11.00" height="1.80" fill="#0a0a0a"/>
<rect x="417.50" y="874.10" width="11.00" height="1.80" fill="#0a0a0a"/>
<rect x="438.30" y="869.80" width="11.00" height="4.30" fill="#0a0a0a"/>
<rect x="459.80" y="874.10" width="11.00" height="2.50" fill="#0a0a0a"/>
<rect x="481.30" y="821.30" width="11.00" height="52.80" fill="#0a0a0a"/>
<line x1="486.80" y1="820.30" x2="486.80" y2="821.80" stroke="#0a0a0a" stroke-width="1.3"/>
<line x1="484.00" y1="820.30" x2="489.60" y2="820.30" stroke="#0a0a0a" stroke-width="1.3"/>
<rect x="502.90" y="809.80" width="11.00" height="64.30" fill="#0a0a0a"/>
<line x1="508.40" y1="809.00" x2="508.40" y2="810.30" stroke="#0a0a0a" stroke-width="1.3"/>
<line x1="505.60" y1="809.00" x2="511.20" y2="809.00" stroke="#0a0a0a" stroke-width="1.3"/>
<text x="293.30" y="803.20" font-size="9.3" text-anchor="start" font-weight="normal" fill="#1c1c1c" stroke="#1c1c1c" stroke-width="0.28">EBV-EBNA3A / HLA-B8 line</text>
<text x="200.40" y="815.90" font-size="9.3" text-anchor="middle" font-weight="normal" fill="#1c1c1c" stroke="#1c1c1c" stroke-width="0.28">B55</text>
<text x="221.80" y="808.30" font-size="9.3" text-anchor="middle" font-weight="normal" fill="#1c1c1c" stroke="#1c1c1c" stroke-width="0.28">B44</text>
<text x="247.20" y="805.80" font-size="9.3" text-anchor="middle" font-weight="normal" fill="#1c1c1c" stroke="#1c1c1c" stroke-width="0.28">B44</text>
<text x="332.00" y="829.80" font-size="9.3" text-anchor="middle" font-weight="normal" fill="#1c1c1c" stroke="#1c1c1c" stroke-width="0.28">B44</text>
<text x="354.70" y="813.30" font-size="9.3" text-anchor="middle" font-weight="normal" fill="#1c1c1c" stroke="#1c1c1c" stroke-width="0.28">B44</text>
<text x="483.20" y="817.30" font-size="9.3" text-anchor="middle" font-weight="normal" fill="#1c1c1c" stroke="#1c1c1c" stroke-width="0.28">B55</text>
<line x1="150.50" y1="836.80" x2="150.50" y2="739.00" stroke="#0a0a0a" stroke-width="1.1"/>
<path d="M150.5 732.8 L147.4 741 L153.6 741 Z" fill="#000"/>
<text x="153.40" y="902.80" font-size="9.1" text-anchor="start" font-weight="normal" fill="#1c1c1c" transform="rotate(-90 153.40 902.80)" stroke="#1c1c1c" stroke-width="0.4">IFNγ pg/mL</text>
<text x="168.80" y="921.00" font-size="9.4" text-anchor="start" font-weight="normal" fill="#1c1c1c" stroke="#1c1c1c" stroke-width="0.28">EBV-LCL panel</text>
<line x1="267.50" y1="919.10" x2="373.00" y2="919.10" stroke="#0a0a0a" stroke-width="1.7"/>
<path d="M382.2 919.1 L371.6 914.3 L371.6 923.9 Z" fill="#000"/>
</svg>
</body></html>
